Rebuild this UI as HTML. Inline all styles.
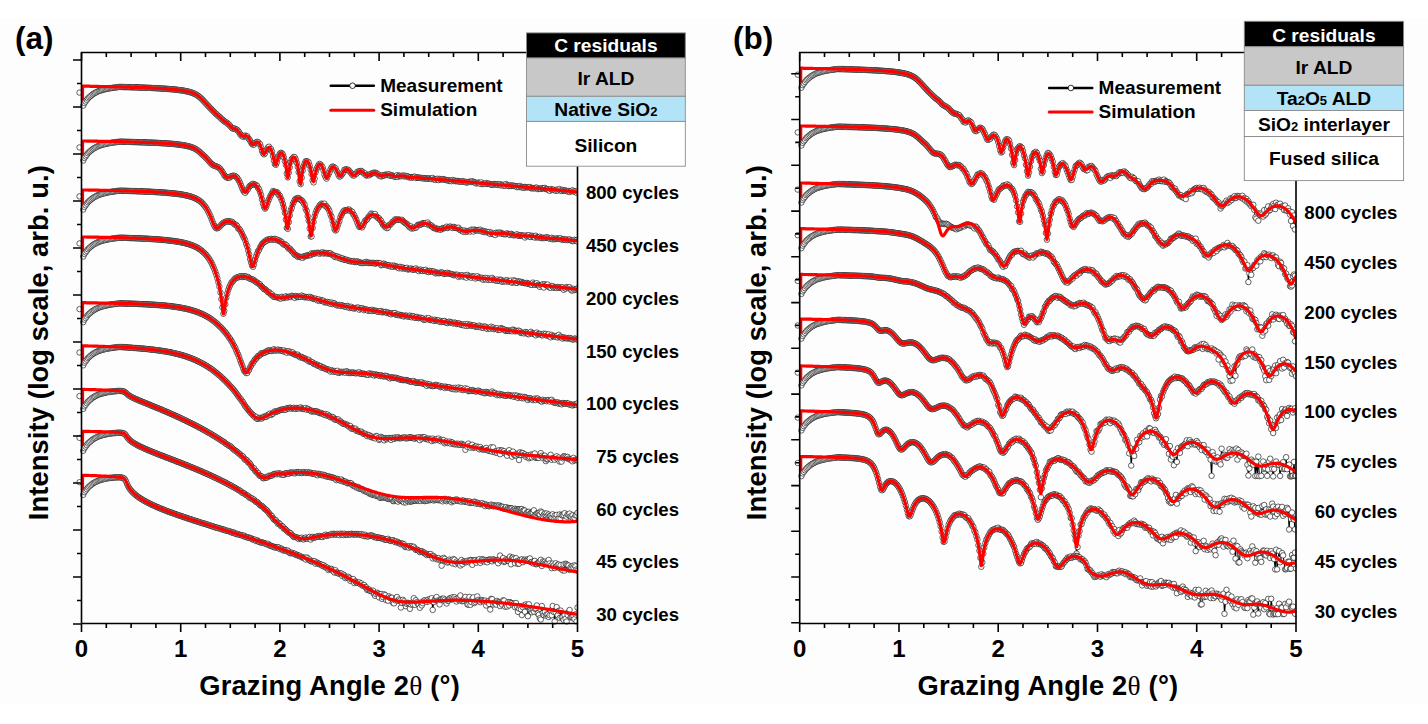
<!DOCTYPE html><html><head><meta charset="utf-8"><style>html,body{margin:0;padding:0;background:#fff;}body{width:1428px;height:724px;overflow:hidden;}svg{display:block;font-family:"Liberation Sans",sans-serif;font-weight:bold;}</style></head><body>
<svg width="1428" height="724" viewBox="0 0 1428 724">
<defs><marker id="m" markerUnits="userSpaceOnUse" markerWidth="8" markerHeight="8" refX="4" refY="4" viewBox="0 0 8 8"><circle cx="4" cy="4" r="2.75" fill="#fff" stroke="#111" stroke-width="0.65"/></marker><clipPath id="ca"><rect x="0" y="0" width="577.5" height="724"/></clipPath><clipPath id="cb"><rect x="700" y="0" width="596.5" height="724"/></clipPath></defs>
<rect x="0" y="17.9" width="1428" height="685.9" fill="#fdfdfd"/>
<g clip-path="url(#ca)"><path d="M83.2,105.6L84.4,103.0L85.6,101.5L86.8,99.9L87.9,98.4L89.1,97.3L90.3,96.3L91.5,95.3L92.7,94.3L93.9,93.5L95.1,92.9L96.3,92.2L97.5,91.6L98.7,91.1L99.9,90.7L101.0,90.4L102.2,90.0L103.4,89.6L104.6,89.3L105.8,89.1L107.0,88.8L108.2,88.5L109.4,88.3L110.6,88.1L111.8,88.0L112.9,87.8L114.1,87.6L115.3,87.5L116.5,87.3L117.7,87.1L118.9,87.0L120.1,86.9L121.2,87.0L122.2,87.0L123.2,87.0L124.2,87.0L125.1,87.1L126.1,87.1L127.1,87.1L128.1,87.1L129.1,87.2L130.1,87.2L131.1,87.2L132.1,87.3L133.1,87.3L134.1,87.3L135.1,87.3L136.1,87.4L137.1,87.4L138.0,87.4L139.0,87.5L140.0,87.5L141.0,87.5L142.0,87.6L143.0,87.6L144.0,87.7L145.0,87.7L146.0,87.7L147.0,87.8L148.0,87.8L149.0,87.9L149.9,87.9L150.9,87.9L151.9,88.0L152.9,88.0L153.9,88.1L154.9,88.1L155.9,88.2L156.9,88.2L157.9,88.3L158.9,88.3L159.9,88.4L160.9,88.5L161.9,88.5L162.8,88.6L163.8,88.6L164.8,88.7L165.8,88.8L166.8,88.9L167.8,88.9L168.8,89.0L169.8,89.1L170.8,89.2L171.8,89.3L172.8,89.3L173.8,89.4L174.7,89.5L175.7,89.6L176.7,89.7L177.7,89.9L178.7,90.0L179.7,90.1L180.7,90.3L181.7,90.4L182.7,90.5L183.7,90.7L184.7,90.9L185.7,91.1L186.7,91.3L187.6,91.5L188.6,91.7L189.6,92.0L190.6,92.3L191.6,92.6L192.6,93.0L193.6,93.4L194.6,93.8L195.6,94.3L196.6,94.9L197.6,95.5L198.6,96.2L199.5,97.0L200.5,97.8L201.5,98.8L202.5,99.7L203.5,100.8L204.5,101.9L205.5,103.0L206.5,104.1L207.5,105.2L208.5,106.2L209.5,107.3L210.5,108.3L211.5,109.4L212.4,110.4L213.4,111.4L214.4,112.4L215.4,113.4L216.4,114.2L217.4,115.1L218.4,116.0L219.4,116.8L220.4,117.7L221.4,118.8L222.4,119.6L223.4,120.5L224.3,121.3L225.3,121.9L226.3,122.6L227.3,123.0L228.3,124.2L229.3,124.8L230.3,126.1L231.3,127.3L232.3,128.3L233.3,128.5L234.3,128.4L235.3,129.2L236.3,129.4L237.2,129.9L238.2,131.0L239.2,132.4L240.2,134.1L241.2,135.5L242.2,135.7L243.2,136.9L244.2,136.0L245.2,135.6L246.2,136.0L247.2,136.3L248.2,138.1L249.1,139.2L250.1,140.6L251.1,142.6L252.1,144.1L253.1,144.6L254.1,144.5L255.1,142.8L256.1,143.0L257.1,141.8L258.1,142.1L259.1,143.7L260.1,144.2L261.1,147.3L262.0,150.9L263.0,153.3L264.0,154.3L265.0,153.4L266.0,150.9L267.0,149.2L268.0,147.4L269.0,146.7L270.0,148.6L271.0,149.1L272.0,151.6L273.0,156.1L273.9,160.5L274.9,164.1L275.9,164.8L276.9,162.2L277.9,158.0L278.9,155.7L279.9,153.6L280.9,152.8L281.9,153.2L282.9,154.5L283.9,157.4L284.9,161.1L285.9,164.9L286.8,173.6L287.8,177.4L288.8,172.6L289.8,167.4L290.8,161.9L291.8,159.0L292.8,158.1L293.8,156.9L294.8,157.3L295.8,159.5L296.8,162.8L297.8,166.9L298.7,172.2L299.7,181.3L300.7,184.1L301.7,177.7L302.7,170.6L303.7,166.0L304.7,163.4L305.7,161.3L306.7,161.2L307.7,161.6L308.7,162.5L309.7,165.6L310.7,169.5L311.6,174.1L312.6,180.3L313.6,182.4L314.6,178.6L315.6,172.3L316.6,169.0L317.6,167.0L318.6,165.0L319.6,163.9L320.6,164.6L321.6,166.1L322.6,167.3L323.5,170.4L324.5,174.7L325.5,176.9L326.5,178.6L327.5,176.5L328.5,174.1L329.5,172.3L330.5,169.4L331.5,167.3L332.5,166.5L333.5,166.9L334.5,167.7L335.5,168.3L336.4,170.6L337.4,172.2L338.4,174.8L339.4,176.5L340.4,176.3L341.4,175.0L342.4,173.6L343.4,172.3L344.4,169.8L345.4,169.6L346.4,169.4L347.4,169.8L348.3,169.9L349.3,171.0L350.3,172.1L351.3,173.3L352.3,174.7L353.3,175.5L354.3,175.4L355.3,174.1L356.3,173.7L357.3,171.8L358.3,172.2L359.3,171.1L360.3,171.2L361.2,170.9L362.2,171.7L363.2,172.6L364.2,173.8L365.2,173.5L366.2,175.5L367.2,175.3L368.2,175.0L369.2,175.3L370.2,174.2L371.2,173.8L372.2,173.2L373.1,173.1L374.1,172.5L375.1,173.0L376.1,172.9L377.1,173.7L378.1,174.3L379.1,175.6L380.1,175.6L381.1,176.5L382.1,175.9L383.1,175.2L384.1,175.6L385.1,174.7L386.0,174.8L387.0,175.0L388.0,174.5L389.0,174.3L390.0,175.8L391.0,175.4L392.0,175.2L393.0,176.2L394.0,176.2L395.0,176.7L396.0,176.6L397.0,175.2L397.9,176.9L398.9,175.7L399.9,175.8L400.9,176.3L401.9,175.8L402.9,175.5L403.9,176.4L404.9,175.7L405.9,176.4L406.9,176.1L407.9,176.5L408.9,177.4L409.9,177.1L410.8,177.2L411.8,177.7L412.8,177.2L413.8,176.9L414.8,176.7L415.8,178.0L416.8,177.3L417.8,177.6L418.8,177.6L419.8,177.7L420.8,178.0L421.8,178.0L422.7,178.4L423.7,178.0L424.7,178.5L425.7,178.4L426.7,178.7L427.7,178.7L428.7,178.4L429.7,178.5L430.7,178.9L431.7,178.9L432.7,178.0L433.7,179.4L434.7,179.3L435.6,179.9L436.6,179.0L437.6,178.8L438.6,180.1L439.6,178.9L440.6,179.6L441.6,179.2L442.6,179.1L443.6,179.4L444.6,179.7L445.6,180.0L446.6,180.0L447.5,180.4L448.5,180.2L449.5,181.0L450.5,180.7L451.5,181.2L452.5,180.0L453.5,180.9L454.5,180.5L455.5,181.2L456.5,181.1L457.5,180.9L458.5,181.5L459.5,181.4L460.4,181.7L461.4,181.7L462.4,181.1L463.4,181.7L464.4,181.6L465.4,182.0L466.4,182.6L467.4,182.1L468.4,182.2L469.4,181.7L470.4,181.9L471.4,181.9L472.3,181.2L473.3,182.0L474.3,182.2L475.3,182.7L476.3,183.5L477.3,182.9L478.3,182.6L479.3,182.9L480.3,183.9L481.3,182.4L482.3,184.1L483.3,183.9L484.3,183.8L485.2,183.9L486.2,183.1L487.2,183.9L488.2,183.6L489.2,183.8L490.2,184.1L491.2,184.8L492.2,184.6L493.2,184.7L494.2,184.0L495.2,184.4L496.2,184.5L497.1,184.2L498.1,185.0L499.1,184.3L500.1,184.3L501.1,185.5L502.1,184.7L503.1,184.9L504.1,185.9L505.1,185.5L506.1,184.0L507.1,185.1L508.1,185.9L509.1,186.1L510.0,185.4L511.0,186.0L512.0,185.5L513.0,185.6L514.0,186.0L515.0,186.1L516.0,186.2L517.0,187.2L518.0,186.4L519.0,187.1L520.0,185.9L521.0,187.0L521.9,187.5L522.9,187.1L523.9,187.8L524.9,186.9L525.9,187.4L526.9,187.2L527.9,187.3L528.9,187.1L529.9,187.0L530.9,188.2L531.9,188.3L532.9,188.0L533.9,188.4L534.8,188.3L535.8,187.7L536.8,187.7L537.8,189.1L538.8,188.6L539.8,188.8L540.8,188.9L541.8,188.3L542.8,188.2L543.8,188.3L544.8,187.9L545.8,189.1L546.7,189.0L547.7,189.2L548.7,190.1L549.7,190.8L550.7,189.0L551.7,189.9L552.7,189.8L553.7,189.7L554.7,190.4L555.7,190.7L556.7,189.7L557.7,190.6L558.7,189.7L559.6,189.0L560.6,190.3L561.6,191.0L562.6,190.1L563.6,190.6L564.6,190.5L565.6,190.6L566.6,190.9L567.6,191.4L568.6,191.0L569.6,192.0L570.6,191.2L571.5,190.9L572.5,190.4L573.5,191.5L574.5,191.3L575.5,191.5L576.5,192.8L577.5,191.6" fill="none" stroke="#000" stroke-width="1.1" marker-start="url(#m)" marker-mid="url(#m)" marker-end="url(#m)"/><circle cx="79.5" cy="92.6" r="2.7" fill="#fff" stroke="#111" stroke-width="0.65"/></g>
<g clip-path="url(#ca)"><path d="M83.2,160.5L84.4,157.9L85.6,156.3L86.8,154.8L87.9,153.2L89.1,152.1L90.3,151.1L91.5,150.1L92.7,149.1L93.9,148.4L95.1,147.7L96.3,147.1L97.5,146.4L98.7,145.9L99.9,145.5L101.0,145.2L102.2,144.8L103.4,144.4L104.6,144.2L105.8,143.9L107.0,143.6L108.2,143.3L109.4,143.1L110.6,142.9L111.8,142.7L112.9,142.5L114.1,142.4L115.3,142.2L116.5,142.1L117.7,141.9L118.9,141.8L120.1,141.7L121.2,141.7L122.2,141.7L123.2,141.8L124.2,141.8L125.1,141.8L126.1,141.8L127.1,141.9L128.1,141.9L129.1,141.9L130.1,141.9L131.1,142.0L132.1,142.0L133.1,142.0L134.1,142.0L135.1,142.1L136.1,142.1L137.1,142.1L138.0,142.2L139.0,142.2L140.0,142.2L141.0,142.3L142.0,142.3L143.0,142.3L144.0,142.4L145.0,142.4L146.0,142.4L147.0,142.5L148.0,142.5L149.0,142.5L149.9,142.6L150.9,142.6L151.9,142.7L152.9,142.7L153.9,142.7L154.9,142.8L155.9,142.8L156.9,142.9L157.9,142.9L158.9,143.0L159.9,143.0L160.9,143.1L161.9,143.2L162.8,143.2L163.8,143.3L164.8,143.3L165.8,143.4L166.8,143.5L167.8,143.5L168.8,143.6L169.8,143.7L170.8,143.8L171.8,143.8L172.8,143.9L173.8,144.0L174.7,144.1L175.7,144.2L176.7,144.3L177.7,144.5L178.7,144.6L179.7,144.7L180.7,144.8L181.7,145.0L182.7,145.1L183.7,145.3L184.7,145.5L185.7,145.7L186.7,145.9L187.6,146.1L188.6,146.3L189.6,146.6L190.6,146.9L191.6,147.2L192.6,147.6L193.6,148.0L194.6,148.5L195.6,149.0L196.6,149.7L197.6,150.3L198.6,151.1L199.5,151.9L200.5,152.8L201.5,153.7L202.5,154.6L203.5,155.5L204.5,156.4L205.5,157.4L206.5,158.4L207.5,159.4L208.5,160.6L209.5,161.8L210.5,162.9L211.5,163.9L212.4,164.7L213.4,165.4L214.4,165.7L215.4,166.1L216.4,166.4L217.4,166.9L218.4,167.3L219.4,168.1L220.4,169.0L221.4,170.6L222.4,171.9L223.4,173.5L224.3,175.3L225.3,176.4L226.3,177.1L227.3,177.8L228.3,177.6L229.3,177.8L230.3,176.6L231.3,176.4L232.3,175.9L233.3,175.7L234.3,175.9L235.3,176.3L236.3,177.0L237.2,177.9L238.2,179.5L239.2,181.1L240.2,183.2L241.2,185.8L242.2,188.3L243.2,190.5L244.2,191.8L245.2,192.8L246.2,191.2L247.2,189.8L248.2,188.8L249.1,186.7L250.1,185.7L251.1,185.2L252.1,184.2L253.1,183.8L254.1,184.5L255.1,184.6L256.1,185.1L257.1,186.0L258.1,188.0L259.1,189.4L260.1,192.2L261.1,195.2L262.0,199.4L263.0,203.6L264.0,206.7L265.0,208.6L266.0,207.4L267.0,204.5L268.0,201.7L269.0,199.2L270.0,196.8L271.0,194.9L272.0,193.1L273.0,191.0L273.9,191.9L274.9,191.9L275.9,191.9L276.9,192.3L277.9,193.2L278.9,195.2L279.9,195.7L280.9,198.3L281.9,200.6L282.9,203.9L283.9,207.8L284.9,212.8L285.9,219.6L286.8,228.0L287.8,228.8L288.8,222.1L289.8,215.4L290.8,210.0L291.8,207.7L292.8,204.0L293.8,202.0L294.8,199.8L295.8,198.7L296.8,198.8L297.8,198.0L298.7,198.2L299.7,199.2L300.7,200.0L301.7,200.3L302.7,201.5L303.7,203.2L304.7,204.9L305.7,208.9L306.7,211.0L307.7,216.0L308.7,220.7L309.7,228.5L310.7,236.5L311.6,236.4L312.6,228.0L313.6,221.9L314.6,216.5L315.6,213.0L316.6,210.3L317.6,208.7L318.6,207.3L319.6,205.6L320.6,204.5L321.6,203.6L322.6,204.2L323.5,204.1L324.5,203.7L325.5,206.1L326.5,206.4L327.5,207.8L328.5,209.1L329.5,211.2L330.5,214.7L331.5,216.8L332.5,220.9L333.5,225.0L334.5,229.2L335.5,230.5L336.4,229.7L337.4,226.4L338.4,223.7L339.4,220.9L340.4,217.1L341.4,215.1L342.4,213.1L343.4,211.4L344.4,210.4L345.4,210.5L346.4,210.5L347.4,209.9L348.3,209.6L349.3,209.7L350.3,210.9L351.3,211.6L352.3,211.9L353.3,214.4L354.3,215.4L355.3,217.8L356.3,219.8L357.3,222.7L358.3,224.8L359.3,226.9L360.3,226.8L361.2,227.1L362.2,227.3L363.2,225.1L364.2,222.7L365.2,220.6L366.2,220.1L367.2,219.2L368.2,217.4L369.2,216.1L370.2,215.6L371.2,213.5L372.2,214.1L373.1,215.0L374.1,215.1L375.1,214.0L376.1,216.5L377.1,216.9L378.1,218.1L379.1,218.4L380.1,220.0L381.1,220.8L382.1,223.1L383.1,225.0L384.1,225.0L385.1,227.1L386.0,226.9L387.0,228.2L388.0,227.5L389.0,225.1L390.0,224.9L391.0,223.9L392.0,222.4L393.0,221.8L394.0,220.8L395.0,219.5L396.0,219.5L397.0,220.0L397.9,219.5L398.9,219.7L399.9,219.8L400.9,220.2L401.9,219.8L402.9,220.9L403.9,222.1L404.9,222.9L405.9,223.4L406.9,224.0L407.9,225.1L408.9,226.6L409.9,227.4L410.8,226.4L411.8,228.6L412.8,227.9L413.8,228.2L414.8,227.3L415.8,227.8L416.8,226.7L417.8,224.8L418.8,224.8L419.8,224.9L420.8,224.5L421.8,224.0L422.7,223.2L423.7,223.2L424.7,223.4L425.7,223.1L426.7,224.2L427.7,222.5L428.7,224.1L429.7,225.5L430.7,225.2L431.7,225.8L432.7,227.1L433.7,228.1L434.7,227.8L435.6,228.3L436.6,229.2L437.6,229.0L438.6,229.0L439.6,229.3L440.6,229.8L441.6,229.0L442.6,228.1L443.6,228.2L444.6,228.1L445.6,227.8L446.6,226.7L447.5,228.0L448.5,227.3L449.5,226.8L450.5,226.6L451.5,227.4L452.5,227.9L453.5,226.9L454.5,227.7L455.5,227.7L456.5,228.1L457.5,228.1L458.5,227.7L459.5,229.5L460.4,230.1L461.4,230.6L462.4,230.5L463.4,231.9L464.4,230.6L465.4,231.9L466.4,231.0L467.4,231.5L468.4,231.0L469.4,230.9L470.4,231.5L471.4,229.7L472.3,230.1L473.3,231.5L474.3,229.5L475.3,230.2L476.3,230.4L477.3,230.4L478.3,230.0L479.3,230.6L480.3,229.7L481.3,230.9L482.3,231.6L483.3,231.0L484.3,232.1L485.2,231.4L486.2,231.9L487.2,232.5L488.2,232.1L489.2,232.0L490.2,234.0L491.2,232.6L492.2,233.5L493.2,234.1L494.2,234.1L495.2,235.0L496.2,232.7L497.1,233.4L498.1,232.7L499.1,233.4L500.1,232.5L501.1,233.1L502.1,233.9L503.1,233.7L504.1,234.2L505.1,234.1L506.1,234.2L507.1,233.3L508.1,234.1L509.1,234.1L510.0,235.0L511.0,233.8L512.0,234.4L513.0,235.0L514.0,235.4L515.0,235.1L516.0,234.9L517.0,234.3L518.0,235.6L519.0,235.9L520.0,235.5L521.0,235.3L521.9,235.6L522.9,235.7L523.9,235.7L524.9,237.5L525.9,235.5L526.9,236.2L527.9,235.5L528.9,235.2L529.9,236.9L530.9,237.0L531.9,235.7L532.9,236.4L533.9,236.8L534.8,237.6L535.8,235.7L536.8,237.3L537.8,237.2L538.8,237.4L539.8,236.8L540.8,237.9L541.8,238.2L542.8,237.7L543.8,238.1L544.8,237.9L545.8,237.7L546.7,237.3L547.7,237.6L548.7,238.0L549.7,238.8L550.7,238.2L551.7,237.8L552.7,239.3L553.7,238.5L554.7,239.1L555.7,239.0L556.7,238.5L557.7,238.5L558.7,238.7L559.6,238.9L560.6,238.3L561.6,239.6L562.6,239.5L563.6,239.2L564.6,239.6L565.6,240.0L566.6,239.4L567.6,240.0L568.6,239.9L569.6,239.4L570.6,240.3L571.5,240.5L572.5,241.2L573.5,240.9L574.5,239.8L575.5,240.7L576.5,240.4L577.5,241.6" fill="none" stroke="#000" stroke-width="1.1" marker-start="url(#m)" marker-mid="url(#m)" marker-end="url(#m)"/><circle cx="79.5" cy="147.4" r="2.7" fill="#fff" stroke="#111" stroke-width="0.65"/></g>
<g clip-path="url(#ca)"><path d="M83.2,209.5L84.4,206.9L85.6,205.3L86.8,203.7L87.9,202.2L89.1,201.1L90.3,200.1L91.5,199.1L92.7,198.1L93.9,197.4L95.1,196.7L96.3,196.1L97.5,195.4L98.7,194.9L99.9,194.5L101.0,194.2L102.2,193.8L103.4,193.4L104.6,193.2L105.8,192.9L107.0,192.6L108.2,192.3L109.4,192.1L110.6,191.9L111.8,191.7L112.9,191.6L114.1,191.4L115.3,191.2L116.5,191.1L117.7,190.9L118.9,190.8L120.1,190.7L121.2,190.7L122.2,190.8L123.2,190.8L124.2,190.8L125.1,190.8L126.1,190.9L127.1,190.9L128.1,190.9L129.1,191.0L130.1,191.0L131.1,191.0L132.1,191.0L133.1,191.1L134.1,191.1L135.1,191.1L136.1,191.2L137.1,191.2L138.0,191.3L139.0,191.3L140.0,191.3L141.0,191.4L142.0,191.4L143.0,191.4L144.0,191.5L145.0,191.5L146.0,191.6L147.0,191.6L148.0,191.6L149.0,191.7L149.9,191.7L150.9,191.8L151.9,191.9L152.9,191.9L153.9,191.9L154.9,192.0L155.9,192.1L156.9,192.1L157.9,192.2L158.9,192.2L159.9,192.3L160.9,192.4L161.9,192.4L162.8,192.5L163.8,192.6L164.8,192.7L165.8,192.7L166.8,192.8L167.8,192.9L168.8,193.0L169.8,193.1L170.8,193.2L171.8,193.3L172.8,193.4L173.8,193.5L174.7,193.6L175.7,193.7L176.7,193.8L177.7,193.9L178.7,194.1L179.7,194.2L180.7,194.4L181.7,194.5L182.7,194.7L183.7,194.9L184.7,195.1L185.7,195.3L186.7,195.5L187.6,195.7L188.6,196.0L189.6,196.3L190.6,196.5L191.6,196.9L192.6,197.2L193.6,197.6L194.6,198.0L195.6,198.5L196.6,199.0L197.6,199.5L198.6,200.1L199.5,200.8L200.5,201.6L201.5,202.4L202.5,203.4L203.5,204.5L204.5,205.6L205.5,207.0L206.5,208.5L207.5,210.2L208.5,212.1L209.5,214.1L210.5,216.4L211.5,218.9L212.4,221.3L213.4,223.7L214.4,225.9L215.4,227.5L216.4,228.3L217.4,228.2L218.4,227.8L219.4,226.9L220.4,225.9L221.4,224.7L222.4,223.9L223.4,222.9L224.3,222.3L225.3,222.1L226.3,221.4L227.3,221.4L228.3,221.1L229.3,221.7L230.3,221.6L231.3,221.7L232.3,222.1L233.3,223.0L234.3,224.2L235.3,224.7L236.3,225.1L237.2,226.2L238.2,228.6L239.2,228.9L240.2,230.2L241.2,232.2L242.2,234.2L243.2,236.4L244.2,238.1L245.2,240.4L246.2,243.8L247.2,246.4L248.2,250.4L249.1,254.4L250.1,259.1L251.1,262.7L252.1,265.8L253.1,266.8L254.1,264.1L255.1,260.0L256.1,256.3L257.1,253.6L258.1,251.0L259.1,249.8L260.1,247.3L261.1,245.8L262.0,244.1L263.0,243.1L264.0,242.1L265.0,241.7L266.0,240.3L267.0,240.6L268.0,239.4L269.0,239.7L270.0,239.3L271.0,238.8L272.0,239.7L273.0,239.5L273.9,239.0L274.9,238.9L275.9,240.0L276.9,239.5L277.9,240.5L278.9,240.3L279.9,241.3L280.9,241.5L281.9,242.3L282.9,243.9L283.9,244.7L284.9,244.2L285.9,245.4L286.8,245.6L287.8,247.5L288.8,248.7L289.8,248.7L290.8,249.9L291.8,251.3L292.8,251.9L293.8,253.4L294.8,254.8L295.8,254.9L296.8,255.8L297.8,256.9L298.7,256.3L299.7,257.0L300.7,257.2L301.7,257.0L302.7,257.8L303.7,256.4L304.7,256.5L305.7,255.9L306.7,255.8L307.7,255.2L308.7,255.3L309.7,255.2L310.7,255.1L311.6,253.3L312.6,254.0L313.6,253.7L314.6,253.1L315.6,253.2L316.6,253.1L317.6,252.8L318.6,252.9L319.6,253.8L320.6,252.9L321.6,252.8L322.6,252.3L323.5,253.5L324.5,252.9L325.5,253.2L326.5,253.0L327.5,253.6L328.5,253.3L329.5,253.4L330.5,253.4L331.5,254.5L332.5,254.9L333.5,255.4L334.5,256.6L335.5,257.1L336.4,256.2L337.4,256.6L338.4,257.9L339.4,257.2L340.4,258.4L341.4,259.0L342.4,258.2L343.4,259.4L344.4,259.9L345.4,259.7L346.4,259.7L347.4,260.3L348.3,260.8L349.3,260.6L350.3,261.4L351.3,261.2L352.3,261.2L353.3,261.1L354.3,262.0L355.3,261.5L356.3,262.1L357.3,261.4L358.3,261.9L359.3,262.3L360.3,262.6L361.2,262.9L362.2,263.1L363.2,262.9L364.2,262.9L365.2,262.5L366.2,261.8L367.2,262.7L368.2,262.6L369.2,263.1L370.2,262.8L371.2,263.0L372.2,263.0L373.1,262.8L374.1,263.1L375.1,263.6L376.1,263.2L377.1,262.9L378.1,263.1L379.1,263.2L380.1,263.4L381.1,265.2L382.1,265.0L383.1,263.8L384.1,263.7L385.1,264.8L386.0,264.7L387.0,265.4L388.0,265.5L389.0,265.2L390.0,266.3L391.0,266.4L392.0,265.6L393.0,266.8L394.0,265.6L395.0,266.3L396.0,266.3L397.0,266.9L397.9,267.5L398.9,268.3L399.9,266.8L400.9,267.3L401.9,268.5L402.9,267.5L403.9,268.4L404.9,268.4L405.9,268.4L406.9,267.8L407.9,269.5L408.9,269.1L409.9,269.1L410.8,268.4L411.8,269.2L412.8,269.8L413.8,269.5L414.8,269.3L415.8,268.4L416.8,269.6L417.8,270.0L418.8,271.2L419.8,269.8L420.8,269.7L421.8,270.8L422.7,270.9L423.7,270.1L424.7,270.8L425.7,269.8L426.7,271.4L427.7,271.5L428.7,272.0L429.7,270.9L430.7,271.3L431.7,271.2L432.7,271.9L433.7,271.4L434.7,272.3L435.6,273.4L436.6,272.5L437.6,273.0L438.6,273.2L439.6,273.1L440.6,272.5L441.6,272.5L442.6,272.8L443.6,273.9L444.6,273.7L445.6,273.3L446.6,273.5L447.5,272.8L448.5,273.5L449.5,273.6L450.5,273.9L451.5,274.1L452.5,274.4L453.5,275.1L454.5,275.2L455.5,274.7L456.5,274.9L457.5,274.8L458.5,276.9L459.5,275.7L460.4,276.2L461.4,275.4L462.4,275.4L463.4,276.8L464.4,276.0L465.4,275.4L466.4,277.7L467.4,274.9L468.4,276.2L469.4,276.9L470.4,277.1L471.4,277.7L472.3,276.2L473.3,276.6L474.3,276.6L475.3,278.5L476.3,277.2L477.3,276.2L478.3,277.9L479.3,277.5L480.3,278.3L481.3,277.7L482.3,278.4L483.3,279.9L484.3,278.8L485.2,277.9L486.2,279.5L487.2,278.1L488.2,279.9L489.2,278.7L490.2,279.7L491.2,279.9L492.2,277.9L493.2,279.3L494.2,279.8L495.2,280.4L496.2,280.5L497.1,279.5L498.1,280.9L499.1,280.6L500.1,279.6L501.1,279.9L502.1,281.8L503.1,280.9L504.1,281.5L505.1,280.6L506.1,281.5L507.1,280.2L508.1,281.4L509.1,281.6L510.0,281.1L511.0,280.6L512.0,282.8L513.0,281.9L514.0,280.3L515.0,281.1L516.0,282.9L517.0,282.9L518.0,281.3L519.0,281.8L520.0,281.6L521.0,282.5L521.9,282.0L522.9,282.8L523.9,282.9L524.9,283.1L525.9,283.3L526.9,282.9L527.9,283.8L528.9,283.7L529.9,284.1L530.9,284.8L531.9,284.9L532.9,282.6L533.9,284.0L534.8,284.8L535.8,284.4L536.8,283.2L537.8,285.0L538.8,285.1L539.8,286.9L540.8,285.4L541.8,284.9L542.8,284.3L543.8,287.5L544.8,284.2L545.8,285.2L546.7,285.2L547.7,284.6L548.7,287.0L549.7,287.4L550.7,287.8L551.7,286.0L552.7,286.1L553.7,287.8L554.7,287.4L555.7,287.3L556.7,287.9L557.7,286.9L558.7,287.8L559.6,287.3L560.6,287.6L561.6,287.6L562.6,287.3L563.6,289.8L564.6,288.2L565.6,288.5L566.6,287.0L567.6,287.6L568.6,288.3L569.6,287.2L570.6,288.7L571.5,290.4L572.5,290.4L573.5,288.8L574.5,290.1L575.5,289.4L576.5,288.8L577.5,288.6" fill="none" stroke="#000" stroke-width="1.1" marker-start="url(#m)" marker-mid="url(#m)" marker-end="url(#m)"/><circle cx="79.5" cy="196.4" r="2.7" fill="#fff" stroke="#111" stroke-width="0.65"/></g>
<g clip-path="url(#ca)"><path d="M83.2,256.5L84.4,253.9L85.6,252.3L86.8,250.8L87.9,249.2L89.1,248.1L90.3,247.1L91.5,246.1L92.7,245.1L93.9,244.4L95.1,243.7L96.3,243.1L97.5,242.4L98.7,241.9L99.9,241.5L101.0,241.2L102.2,240.8L103.4,240.4L104.6,240.1L105.8,239.9L107.0,239.6L108.2,239.3L109.4,239.1L110.6,238.9L111.8,238.7L112.9,238.6L114.1,238.4L115.3,238.2L116.5,238.1L117.7,237.9L118.9,237.8L120.1,237.7L121.2,237.7L122.2,237.8L123.2,237.8L124.2,237.8L125.1,237.9L126.1,237.9L127.1,237.9L128.1,238.0L129.1,238.0L130.1,238.0L131.1,238.1L132.1,238.1L133.1,238.1L134.1,238.2L135.1,238.2L136.1,238.2L137.1,238.3L138.0,238.3L139.0,238.4L140.0,238.4L141.0,238.5L142.0,238.5L143.0,238.5L144.0,238.6L145.0,238.6L146.0,238.7L147.0,238.7L148.0,238.8L149.0,238.9L149.9,238.9L150.9,239.0L151.9,239.0L152.9,239.1L153.9,239.2L154.9,239.2L155.9,239.3L156.9,239.4L157.9,239.4L158.9,239.5L159.9,239.6L160.9,239.7L161.9,239.8L162.8,239.8L163.8,240.0L164.8,240.0L165.8,240.1L166.8,240.2L167.8,240.4L168.8,240.5L169.8,240.6L170.8,240.7L171.8,240.8L172.8,240.9L173.8,241.1L174.7,241.2L175.7,241.4L176.7,241.5L177.7,241.7L178.7,241.8L179.7,242.0L180.7,242.2L181.7,242.4L182.7,242.6L183.7,242.8L184.7,243.0L185.7,243.3L186.7,243.6L187.6,243.8L188.6,244.1L189.6,244.4L190.6,244.8L191.6,245.1L192.6,245.5L193.6,245.9L194.6,246.3L195.6,246.8L196.6,247.3L197.6,247.9L198.6,248.5L199.5,249.1L200.5,249.8L201.5,250.6L202.5,251.4L203.5,252.3L204.5,253.2L205.5,254.3L206.5,255.4L207.5,256.7L208.5,258.0L209.5,259.5L210.5,261.2L211.5,262.9L212.4,264.8L213.4,267.0L214.4,269.4L215.4,272.0L216.4,274.9L217.4,278.3L218.4,282.2L219.4,286.7L220.4,292.4L221.4,299.1L222.4,307.5L223.4,313.8L224.3,310.8L225.3,304.2L226.3,297.7L227.3,293.4L228.3,289.8L229.3,287.0L230.3,284.9L231.3,282.8L232.3,281.8L233.3,280.6L234.3,279.4L235.3,278.2L236.3,278.0L237.2,277.2L238.2,277.4L239.2,276.8L240.2,276.2L241.2,276.3L242.2,277.0L243.2,276.3L244.2,276.3L245.2,276.6L246.2,276.5L247.2,277.5L248.2,277.0L249.1,278.1L250.1,278.7L251.1,279.2L252.1,279.3L253.1,279.7L254.1,280.5L255.1,281.2L256.1,282.1L257.1,282.5L258.1,283.4L259.1,283.9L260.1,284.5L261.1,286.2L262.0,286.8L263.0,287.9L264.0,289.2L265.0,289.0L266.0,290.0L267.0,291.0L268.0,292.3L269.0,292.1L270.0,293.3L271.0,294.7L272.0,294.5L273.0,296.2L273.9,296.9L274.9,297.0L275.9,296.8L276.9,297.3L277.9,297.3L278.9,297.8L279.9,298.4L280.9,298.5L281.9,296.8L282.9,297.5L283.9,298.0L284.9,297.3L285.9,296.3L286.8,297.3L287.8,297.4L288.8,296.8L289.8,296.7L290.8,297.1L291.8,295.8L292.8,296.2L293.8,296.5L294.8,297.9L295.8,296.0L296.8,296.5L297.8,297.1L298.7,296.8L299.7,296.6L300.7,296.8L301.7,295.6L302.7,296.7L303.7,296.4L304.7,297.3L305.7,297.1L306.7,297.2L307.7,297.3L308.7,296.9L309.7,298.0L310.7,297.0L311.6,297.9L312.6,298.3L313.6,299.0L314.6,298.8L315.6,298.7L316.6,299.7L317.6,300.5L318.6,299.4L319.6,300.9L320.6,300.1L321.6,300.6L322.6,300.7L323.5,300.8L324.5,302.4L325.5,302.1L326.5,302.3L327.5,301.9L328.5,303.0L329.5,302.4L330.5,303.8L331.5,302.6L332.5,304.1L333.5,303.1L334.5,303.5L335.5,304.5L336.4,305.0L337.4,305.5L338.4,305.1L339.4,305.0L340.4,305.9L341.4,305.1L342.4,305.6L343.4,306.0L344.4,306.5L345.4,306.4L346.4,307.0L347.4,305.9L348.3,306.7L349.3,308.0L350.3,307.1L351.3,306.8L352.3,308.1L353.3,308.0L354.3,308.5L355.3,308.2L356.3,307.8L357.3,307.8L358.3,307.6L359.3,309.7L360.3,308.2L361.2,308.9L362.2,308.1L363.2,309.2L364.2,310.2L365.2,309.2L366.2,309.6L367.2,309.9L368.2,310.9L369.2,310.1L370.2,310.2L371.2,311.0L372.2,309.8L373.1,310.6L374.1,310.9L375.1,310.6L376.1,310.9L377.1,311.5L378.1,311.9L379.1,311.9L380.1,311.1L381.1,311.0L382.1,312.4L383.1,311.9L384.1,312.1L385.1,312.0L386.0,311.9L387.0,313.1L388.0,312.5L389.0,313.2L390.0,313.8L391.0,314.3L392.0,313.2L393.0,313.4L394.0,313.1L395.0,313.0L396.0,314.8L397.0,314.8L397.9,315.0L398.9,314.5L399.9,315.4L400.9,315.2L401.9,315.4L402.9,315.8L403.9,316.5L404.9,315.7L405.9,315.7L406.9,315.8L407.9,316.7L408.9,316.5L409.9,315.6L410.8,316.7L411.8,317.3L412.8,316.2L413.8,316.5L414.8,317.8L415.8,317.6L416.8,316.9L417.8,317.6L418.8,318.2L419.8,317.8L420.8,317.8L421.8,318.4L422.7,318.4L423.7,319.9L424.7,319.5L425.7,319.4L426.7,318.2L427.7,319.1L428.7,318.1L429.7,319.9L430.7,320.1L431.7,319.6L432.7,320.1L433.7,320.8L434.7,319.7L435.6,320.7L436.6,320.5L437.6,320.7L438.6,320.4L439.6,321.9L440.6,321.0L441.6,322.1L442.6,321.5L443.6,321.3L444.6,320.9L445.6,322.3L446.6,322.8L447.5,323.1L448.5,322.0L449.5,321.7L450.5,322.5L451.5,322.4L452.5,323.1L453.5,323.4L454.5,322.6L455.5,323.0L456.5,324.0L457.5,323.8L458.5,323.4L459.5,323.7L460.4,324.7L461.4,324.5L462.4,325.0L463.4,324.5L464.4,325.6L465.4,324.1L466.4,325.9L467.4,324.1L468.4,325.8L469.4,324.9L470.4,324.7L471.4,325.6L472.3,325.6L473.3,325.7L474.3,325.4L475.3,326.7L476.3,326.5L477.3,326.7L478.3,326.5L479.3,325.6L480.3,326.6L481.3,327.6L482.3,326.6L483.3,328.0L484.3,326.7L485.2,326.6L486.2,327.5L487.2,329.0L488.2,327.8L489.2,328.2L490.2,328.7L491.2,326.7L492.2,328.3L493.2,327.6L494.2,329.2L495.2,328.5L496.2,329.0L497.1,328.2L498.1,330.0L499.1,329.5L500.1,329.8L501.1,328.1L502.1,328.8L503.1,329.0L504.1,329.7L505.1,330.6L506.1,330.8L507.1,330.3L508.1,330.6L509.1,331.0L510.0,330.7L511.0,330.6L512.0,331.3L513.0,329.6L514.0,330.2L515.0,331.4L516.0,330.8L517.0,331.2L518.0,330.8L519.0,330.7L520.0,331.5L521.0,333.0L521.9,332.9L522.9,332.8L523.9,333.4L524.9,332.4L525.9,332.0L526.9,332.7L527.9,334.1L528.9,334.2L529.9,332.9L530.9,331.8L531.9,333.4L532.9,333.7L533.9,333.6L534.8,333.7L535.8,335.3L536.8,332.6L537.8,334.4L538.8,334.0L539.8,333.8L540.8,334.3L541.8,335.2L542.8,335.3L543.8,333.7L544.8,334.7L545.8,333.9L546.7,335.6L547.7,335.3L548.7,334.3L549.7,336.3L550.7,337.3L551.7,334.9L552.7,336.2L553.7,336.3L554.7,336.1L555.7,336.8L556.7,336.1L557.7,337.5L558.7,334.8L559.6,337.1L560.6,336.6L561.6,337.4L562.6,338.6L563.6,337.4L564.6,337.9L565.6,338.1L566.6,338.1L567.6,338.6L568.6,338.1L569.6,338.0L570.6,338.7L571.5,338.6L572.5,339.6L573.5,339.3L574.5,338.6L575.5,338.7L576.5,339.4L577.5,339.3" fill="none" stroke="#000" stroke-width="1.1" marker-start="url(#m)" marker-mid="url(#m)" marker-end="url(#m)"/><circle cx="79.5" cy="243.4" r="2.7" fill="#fff" stroke="#111" stroke-width="0.65"/></g>
<g clip-path="url(#ca)"><path d="M83.2,322.2L84.4,319.6L85.6,318.0L86.8,316.5L87.9,314.9L89.1,313.9L90.3,312.9L91.5,311.8L92.7,310.8L93.9,310.1L95.1,309.4L96.3,308.8L97.5,308.1L98.7,307.6L99.9,307.2L101.0,306.9L102.2,306.5L103.4,306.1L104.6,305.9L105.8,305.6L107.0,305.3L108.2,305.0L109.4,304.8L110.6,304.6L111.8,304.4L112.9,304.2L114.1,304.1L115.3,303.9L116.5,303.8L117.7,303.6L118.9,303.5L120.1,303.4L121.2,303.4L122.2,303.4L123.2,303.5L124.2,303.5L125.1,303.5L126.1,303.6L127.1,303.6L128.1,303.6L129.1,303.6L130.1,303.7L131.1,303.7L132.1,303.7L133.1,303.8L134.1,303.8L135.1,303.8L136.1,303.9L137.1,303.9L138.0,304.0L139.0,304.0L140.0,304.0L141.0,304.1L142.0,304.1L143.0,304.2L144.0,304.2L145.0,304.3L146.0,304.3L147.0,304.4L148.0,304.4L149.0,304.5L149.9,304.5L150.9,304.6L151.9,304.6L152.9,304.7L153.9,304.8L154.9,304.8L155.9,304.9L156.9,305.0L157.9,305.0L158.9,305.1L159.9,305.2L160.9,305.3L161.9,305.3L162.8,305.4L163.8,305.5L164.8,305.6L165.8,305.7L166.8,305.8L167.8,305.9L168.8,306.0L169.8,306.1L170.8,306.2L171.8,306.4L172.8,306.5L173.8,306.6L174.7,306.8L175.7,306.9L176.7,307.0L177.7,307.2L178.7,307.4L179.7,307.5L180.7,307.7L181.7,307.9L182.7,308.1L183.7,308.3L184.7,308.5L185.7,308.7L186.7,308.9L187.6,309.1L188.6,309.4L189.6,309.6L190.6,309.9L191.6,310.2L192.6,310.5L193.6,310.8L194.6,311.1L195.6,311.4L196.6,311.8L197.6,312.1L198.6,312.5L199.5,312.9L200.5,313.4L201.5,313.8L202.5,314.2L203.5,314.7L204.5,315.2L205.5,315.7L206.5,316.3L207.5,316.8L208.5,317.4L209.5,318.0L210.5,318.7L211.5,319.3L212.4,320.1L213.4,320.8L214.4,321.6L215.4,322.4L216.4,323.3L217.4,324.0L218.4,325.1L219.4,326.1L220.4,327.0L221.4,327.8L222.4,329.1L223.4,330.0L224.3,331.4L225.3,332.4L226.3,333.6L227.3,334.9L228.3,336.3L229.3,337.9L230.3,339.1L231.3,340.9L232.3,342.4L233.3,344.6L234.3,346.2L235.3,348.0L236.3,350.6L237.2,352.6L238.2,354.8L239.2,357.4L240.2,360.4L241.2,363.0L242.2,365.5L243.2,368.3L244.2,370.8L245.2,371.8L246.2,373.1L247.2,372.9L248.2,370.8L249.1,369.8L250.1,367.3L251.1,365.6L252.1,363.4L253.1,362.8L254.1,360.9L255.1,359.2L256.1,358.6L257.1,357.3L258.1,355.9L259.1,355.8L260.1,354.9L261.1,353.3L262.0,353.5L263.0,353.1L264.0,352.8L265.0,352.5L266.0,351.6L267.0,351.6L268.0,350.5L269.0,350.8L270.0,350.3L271.0,350.8L272.0,351.0L273.0,350.1L273.9,349.2L274.9,350.3L275.9,350.6L276.9,350.1L277.9,349.6L278.9,350.5L279.9,350.0L280.9,350.5L281.9,350.6L282.9,351.2L283.9,350.4L284.9,351.9L285.9,351.5L286.8,352.7L287.8,351.3L288.8,351.3L289.8,352.5L290.8,352.1L291.8,353.1L292.8,352.5L293.8,354.1L294.8,354.3L295.8,355.0L296.8,354.9L297.8,354.7L298.7,356.2L299.7,356.8L300.7,357.5L301.7,356.9L302.7,357.6L303.7,358.3L304.7,358.3L305.7,359.0L306.7,359.6L307.7,360.7L308.7,359.8L309.7,361.7L310.7,361.7L311.6,362.1L312.6,362.5L313.6,363.8L314.6,363.8L315.6,364.1L316.6,365.2L317.6,364.9L318.6,366.1L319.6,365.9L320.6,366.2L321.6,367.8L322.6,367.2L323.5,367.5L324.5,368.3L325.5,368.8L326.5,369.3L327.5,369.4L328.5,369.7L329.5,370.1L330.5,371.6L331.5,370.1L332.5,371.0L333.5,371.7L334.5,371.0L335.5,371.7L336.4,372.0L337.4,370.8L338.4,372.9L339.4,372.6L340.4,372.0L341.4,371.8L342.4,372.3L343.4,371.8L344.4,372.1L345.4,372.8L346.4,371.2L347.4,371.8L348.3,372.7L349.3,373.1L350.3,372.5L351.3,373.0L352.3,372.5L353.3,372.6L354.3,373.0L355.3,373.1L356.3,373.3L357.3,372.7L358.3,373.1L359.3,372.3L360.3,373.8L361.2,373.4L362.2,374.0L363.2,373.6L364.2,373.9L365.2,374.1L366.2,374.6L367.2,374.3L368.2,374.9L369.2,373.3L370.2,374.4L371.2,373.8L372.2,374.0L373.1,374.7L374.1,375.5L375.1,374.3L376.1,375.0L377.1,374.8L378.1,375.2L379.1,375.4L380.1,376.1L381.1,375.3L382.1,375.8L383.1,376.4L384.1,376.2L385.1,375.7L386.0,376.5L387.0,376.1L388.0,377.4L389.0,377.3L390.0,378.4L391.0,377.3L392.0,377.7L393.0,377.5L394.0,378.0L395.0,377.8L396.0,377.8L397.0,378.3L397.9,378.8L398.9,378.8L399.9,379.7L400.9,379.5L401.9,379.5L402.9,380.1L403.9,380.1L404.9,380.0L405.9,380.1L406.9,380.2L407.9,380.8L408.9,381.0L409.9,381.5L410.8,381.5L411.8,382.0L412.8,381.3L413.8,381.1L414.8,382.2L415.8,382.9L416.8,382.6L417.8,382.7L418.8,382.6L419.8,382.8L420.8,382.8L421.8,382.3L422.7,383.8L423.7,383.4L424.7,384.2L425.7,383.7L426.7,385.8L427.7,384.0L428.7,385.0L429.7,384.3L430.7,385.6L431.7,385.8L432.7,386.1L433.7,385.8L434.7,385.6L435.6,384.9L436.6,385.1L437.6,385.6L438.6,385.9L439.6,385.8L440.6,387.2L441.6,386.8L442.6,386.4L443.6,387.1L444.6,387.9L445.6,386.6L446.6,387.4L447.5,387.4L448.5,387.2L449.5,387.3L450.5,388.4L451.5,388.1L452.5,389.0L453.5,388.0L454.5,389.3L455.5,387.8L456.5,389.4L457.5,388.6L458.5,387.5L459.5,389.3L460.4,388.0L461.4,388.3L462.4,390.0L463.4,389.9L464.4,389.1L465.4,388.3L466.4,389.9L467.4,389.0L468.4,391.2L469.4,390.8L470.4,390.8L471.4,390.8L472.3,390.0L473.3,390.6L474.3,391.1L475.3,391.2L476.3,391.5L477.3,390.9L478.3,390.6L479.3,391.3L480.3,391.7L481.3,392.3L482.3,392.2L483.3,392.0L484.3,393.2L485.2,393.1L486.2,391.9L487.2,392.5L488.2,392.6L489.2,393.0L490.2,393.6L491.2,393.3L492.2,391.5L493.2,392.9L494.2,393.7L495.2,393.0L496.2,394.2L497.1,395.2L498.1,394.1L499.1,393.8L500.1,395.3L501.1,394.5L502.1,394.5L503.1,395.1L504.1,395.6L505.1,395.3L506.1,395.9L507.1,395.2L508.1,394.8L509.1,395.3L510.0,395.3L511.0,396.1L512.0,395.8L513.0,395.7L514.0,396.9L515.0,395.4L516.0,396.7L517.0,395.7L518.0,398.0L519.0,396.5L520.0,396.7L521.0,396.8L521.9,398.2L522.9,396.8L523.9,398.3L524.9,397.0L525.9,397.5L526.9,398.1L527.9,400.0L528.9,398.6L529.9,398.2L530.9,398.6L531.9,399.4L532.9,400.1L533.9,399.1L534.8,398.6L535.8,400.1L536.8,398.6L537.8,398.6L538.8,399.9L539.8,400.0L540.8,401.1L541.8,401.6L542.8,399.8L543.8,401.0L544.8,400.6L545.8,400.3L546.7,401.2L547.7,400.1L548.7,400.2L549.7,401.5L550.7,400.2L551.7,399.8L552.7,401.5L553.7,402.5L554.7,402.5L555.7,402.9L556.7,402.6L557.7,402.4L558.7,403.8L559.6,403.0L560.6,403.3L561.6,404.3L562.6,403.1L563.6,403.2L564.6,403.6L565.6,403.5L566.6,403.2L567.6,403.7L568.6,403.6L569.6,404.8L570.6,404.2L571.5,404.8L572.5,405.5L573.5,404.8L574.5,404.6L575.5,404.4L576.5,404.8L577.5,403.4" fill="none" stroke="#000" stroke-width="1.1" marker-start="url(#m)" marker-mid="url(#m)" marker-end="url(#m)"/><circle cx="79.5" cy="309.1" r="2.7" fill="#fff" stroke="#111" stroke-width="0.65"/></g>
<g clip-path="url(#ca)"><path d="M83.2,365.3L84.4,362.7L85.6,361.2L86.8,359.6L87.9,358.1L89.1,357.1L90.3,356.0L91.5,355.0L92.7,354.0L93.9,353.3L95.1,352.6L96.3,352.0L97.5,351.4L98.7,351.0L99.9,350.6L101.0,350.2L102.2,349.9L103.4,349.5L104.6,349.2L105.8,349.0L107.0,348.7L108.2,348.4L109.4,348.3L110.6,348.1L111.8,347.9L112.9,347.8L114.1,347.6L115.3,347.4L116.5,347.3L117.7,347.2L118.9,347.0L120.1,347.0L121.2,347.0L122.2,347.1L123.2,347.1L124.2,347.2L125.1,347.3L126.1,347.3L127.1,347.4L128.1,347.5L129.1,347.6L130.1,347.6L131.1,347.7L132.1,347.8L133.1,347.9L134.1,348.0L135.1,348.0L136.1,348.0L137.1,348.2L138.0,348.2L139.0,348.3L140.0,348.4L141.0,348.5L142.0,348.6L143.0,348.6L144.0,348.7L145.0,348.8L146.0,349.0L147.0,349.0L148.0,349.1L149.0,349.2L149.9,349.4L150.9,349.5L151.9,349.6L152.9,349.6L153.9,349.8L154.9,349.9L155.9,350.1L156.9,350.2L157.9,350.3L158.9,350.5L159.9,350.6L160.9,350.7L161.9,350.9L162.8,351.0L163.8,351.2L164.8,351.4L165.8,351.5L166.8,351.7L167.8,351.9L168.8,352.0L169.8,352.2L170.8,352.4L171.8,352.7L172.8,352.9L173.8,353.1L174.7,353.3L175.7,353.6L176.7,353.8L177.7,354.0L178.7,354.3L179.7,354.5L180.7,354.8L181.7,355.1L182.7,355.4L183.7,355.7L184.7,355.9L185.7,356.3L186.7,356.6L187.6,357.0L188.6,357.4L189.6,357.7L190.6,358.1L191.6,358.4L192.6,358.9L193.6,359.3L194.6,359.7L195.6,360.1L196.6,360.7L197.6,361.0L198.6,361.6L199.5,362.0L200.5,362.5L201.5,363.1L202.5,363.5L203.5,364.1L204.5,364.7L205.5,365.4L206.5,365.8L207.5,366.5L208.5,367.2L209.5,367.9L210.5,368.4L211.5,369.1L212.4,369.7L213.4,370.6L214.4,371.3L215.4,372.2L216.4,372.9L217.4,373.7L218.4,374.7L219.4,375.4L220.4,376.2L221.4,377.2L222.4,378.1L223.4,379.0L224.3,380.0L225.3,380.8L226.3,381.8L227.3,383.0L228.3,383.8L229.3,385.2L230.3,386.1L231.3,387.3L232.3,388.4L233.3,389.4L234.3,390.8L235.3,391.9L236.3,393.4L237.2,394.6L238.2,395.8L239.2,397.4L240.2,398.7L241.2,399.6L242.2,401.5L243.2,402.4L244.2,404.5L245.2,406.0L246.2,407.4L247.2,408.6L248.2,409.6L249.1,411.0L250.1,412.0L251.1,413.3L252.1,414.2L253.1,415.4L254.1,415.8L255.1,417.5L256.1,416.8L257.1,418.9L258.1,418.8L259.1,418.1L260.1,417.8L261.1,418.4L262.0,418.4L263.0,417.4L264.0,416.5L265.0,416.8L266.0,417.0L267.0,415.4L268.0,415.5L269.0,414.5L270.0,413.6L271.0,415.0L272.0,413.8L273.0,413.6L273.9,412.2L274.9,411.3L275.9,412.0L276.9,411.3L277.9,411.1L278.9,410.5L279.9,410.2L280.9,409.7L281.9,409.8L282.9,409.5L283.9,409.4L284.9,409.7L285.9,409.5L286.8,408.2L287.8,408.3L288.8,408.5L289.8,407.7L290.8,407.9L291.8,408.7L292.8,408.2L293.8,407.8L294.8,408.6L295.8,408.8L296.8,408.0L297.8,408.5L298.7,408.0L299.7,408.4L300.7,407.4L301.7,408.5L302.7,408.8L303.7,409.0L304.7,409.0L305.7,408.0L306.7,409.7L307.7,408.7L308.7,409.3L309.7,410.3L310.7,410.4L311.6,411.6L312.6,411.0L313.6,411.3L314.6,411.3L315.6,411.4L316.6,411.2L317.6,412.1L318.6,412.2L319.6,413.1L320.6,413.1L321.6,413.1L322.6,413.9L323.5,414.2L324.5,414.9L325.5,414.0L326.5,415.5L327.5,414.6L328.5,416.0L329.5,416.0L330.5,417.3L331.5,417.2L332.5,417.0L333.5,417.7L334.5,419.3L335.5,419.7L336.4,419.8L337.4,419.5L338.4,419.5L339.4,421.4L340.4,421.3L341.4,422.4L342.4,423.3L343.4,423.7L344.4,423.8L345.4,424.1L346.4,424.8L347.4,424.9L348.3,426.1L349.3,426.8L350.3,426.0L351.3,428.5L352.3,428.7L353.3,428.4L354.3,429.0L355.3,428.7L356.3,430.8L357.3,430.5L358.3,431.2L359.3,431.9L360.3,431.9L361.2,431.6L362.2,432.6L363.2,433.6L364.2,434.0L365.2,433.7L366.2,434.7L367.2,436.1L368.2,434.9L369.2,435.3L370.2,436.8L371.2,436.2L372.2,437.5L373.1,437.3L374.1,437.7L375.1,438.4L376.1,436.0L377.1,436.3L378.1,438.0L379.1,439.9L380.1,439.0L381.1,436.9L382.1,437.7L383.1,438.5L384.1,440.3L385.1,438.2L386.0,438.5L387.0,439.2L388.0,438.2L389.0,438.0L390.0,438.7L391.0,439.9L392.0,437.9L393.0,438.2L394.0,438.8L395.0,437.4L396.0,438.2L397.0,438.0L397.9,437.2L398.9,438.2L399.9,438.1L400.9,438.3L401.9,437.9L402.9,437.9L403.9,437.5L404.9,437.5L405.9,438.5L406.9,437.8L407.9,438.2L408.9,437.6L409.9,437.2L410.8,437.6L411.8,437.5L412.8,438.1L413.8,438.2L414.8,438.7L415.8,437.9L416.8,437.8L417.8,438.1L418.8,437.3L419.8,440.1L420.8,437.4L421.8,438.6L422.7,437.3L423.7,437.4L424.7,437.3L425.7,438.9L426.7,439.1L427.7,438.7L428.7,439.7L429.7,438.7L430.7,439.1L431.7,441.0L432.7,438.6L433.7,440.4L434.7,439.8L435.6,440.1L436.6,439.0L437.6,439.9L438.6,438.6L439.6,440.3L440.6,441.2L441.6,439.8L442.6,440.5L443.6,440.1L444.6,443.3L445.6,442.2L446.6,441.4L447.5,442.9L448.5,442.3L449.5,441.6L450.5,443.6L451.5,442.2L452.5,442.7L453.5,444.1L454.5,444.0L455.5,444.4L456.5,443.7L457.5,444.5L458.5,443.8L459.5,444.8L460.4,444.8L461.4,443.7L462.4,444.5L463.4,445.0L464.4,444.9L465.4,449.8L466.4,445.6L467.4,446.9L468.4,443.6L469.4,445.9L470.4,447.6L471.4,446.2L472.3,444.8L473.3,447.8L474.3,447.3L475.3,446.7L476.3,446.4L477.3,447.9L478.3,447.0L479.3,449.3L480.3,447.1L481.3,449.0L482.3,449.1L483.3,449.6L484.3,449.4L485.2,449.1L486.2,447.9L487.2,450.1L488.2,450.3L489.2,451.0L490.2,450.5L491.2,447.3L492.2,451.7L493.2,447.4L494.2,451.8L495.2,452.4L496.2,451.2L497.1,453.0L498.1,451.6L499.1,450.2L500.1,454.2L501.1,450.6L502.1,450.4L503.1,451.6L504.1,451.2L505.1,453.4L506.1,452.8L507.1,455.7L508.1,452.3L509.1,450.2L510.0,453.1L511.0,454.1L512.0,456.7L513.0,451.6L514.0,454.8L515.0,455.5L516.0,455.4L517.0,453.6L518.0,454.2L519.0,460.0L520.0,452.3L521.0,454.9L521.9,452.9L522.9,453.1L523.9,455.0L524.9,454.4L525.9,456.9L526.9,455.6L527.9,455.3L528.9,458.3L529.9,457.3L530.9,454.6L531.9,457.4L532.9,454.6L533.9,456.5L534.8,453.5L535.8,457.9L536.8,457.5L537.8,457.9L538.8,457.8L539.8,455.6L540.8,453.1L541.8,455.8L542.8,457.9L543.8,456.5L544.8,455.7L545.8,461.1L546.7,459.4L547.7,459.1L548.7,457.2L549.7,458.4L550.7,454.8L551.7,459.8L552.7,458.1L553.7,458.2L554.7,459.7L555.7,457.6L556.7,456.3L557.7,459.1L558.7,457.6L559.6,461.5L560.6,459.7L561.6,461.6L562.6,458.2L563.6,456.3L564.6,456.4L565.6,457.1L566.6,458.2L567.6,456.9L568.6,458.6L569.6,459.3L570.6,459.8L571.5,459.3L572.5,461.3L573.5,457.9L574.5,460.5L575.5,459.6L576.5,460.0L577.5,459.8" fill="none" stroke="#000" stroke-width="1.1" marker-start="url(#m)" marker-mid="url(#m)" marker-end="url(#m)"/><circle cx="79.5" cy="352.5" r="2.7" fill="#fff" stroke="#111" stroke-width="0.65"/></g>
<g clip-path="url(#ca)"><path d="M83.2,408.9L84.4,406.3L85.6,404.8L86.8,403.2L87.9,401.7L89.1,400.6L90.3,399.6L91.5,398.6L92.7,397.6L93.9,396.9L95.1,396.3L96.3,395.6L97.5,395.0L98.7,394.5L99.9,394.1L101.0,393.8L102.2,393.4L103.4,393.1L104.6,392.8L105.8,392.6L107.0,392.3L108.2,392.0L109.4,391.9L110.6,391.7L111.8,391.6L112.9,391.4L114.1,391.3L115.3,391.2L116.5,391.1L117.7,391.0L118.9,390.9L120.1,390.9L121.2,391.0L122.2,391.1L123.2,391.3L124.2,391.6L125.1,392.2L126.1,393.0L127.1,394.0L128.1,394.9L129.1,395.6L130.1,396.2L131.1,396.8L132.1,397.3L133.1,397.8L134.1,398.3L135.1,398.7L136.1,399.2L137.1,399.6L138.0,400.0L139.0,400.5L140.0,400.9L141.0,401.3L142.0,401.7L143.0,402.1L144.0,402.5L145.0,402.9L146.0,403.3L147.0,403.7L148.0,404.1L149.0,404.5L149.9,404.9L150.9,405.4L151.9,405.8L152.9,406.2L153.9,406.6L154.9,407.0L155.9,407.4L156.9,407.8L157.9,408.2L158.9,408.6L159.9,409.0L160.9,409.4L161.9,409.9L162.8,410.3L163.8,410.7L164.8,411.1L165.8,411.5L166.8,412.0L167.8,412.4L168.8,412.8L169.8,413.3L170.8,413.7L171.8,414.1L172.8,414.6L173.8,415.0L174.7,415.5L175.7,415.9L176.7,416.4L177.7,416.8L178.7,417.3L179.7,417.7L180.7,418.2L181.7,418.6L182.7,419.1L183.7,419.6L184.7,420.1L185.7,420.5L186.7,421.0L187.6,421.5L188.6,422.0L189.6,422.5L190.6,423.0L191.6,423.5L192.6,424.0L193.6,424.5L194.6,425.0L195.6,425.5L196.6,426.0L197.6,426.5L198.6,427.1L199.5,427.6L200.5,428.1L201.5,428.7L202.5,429.2L203.5,429.8L204.5,430.3L205.5,430.9L206.5,431.4L207.5,432.0L208.5,432.6L209.5,433.1L210.5,433.7L211.5,434.3L212.4,434.9L213.4,435.6L214.4,436.0L215.4,436.7L216.4,437.3L217.4,437.9L218.4,438.6L219.4,439.2L220.4,439.9L221.4,440.5L222.4,441.1L223.4,441.7L224.3,442.4L225.3,443.2L226.3,444.0L227.3,444.5L228.3,445.2L229.3,446.0L230.3,446.3L231.3,447.0L232.3,448.1L233.3,449.1L234.3,450.0L235.3,450.7L236.3,451.2L237.2,451.9L238.2,452.9L239.2,453.6L240.2,454.5L241.2,455.5L242.2,456.2L243.2,456.7L244.2,458.6L245.2,459.8L246.2,459.8L247.2,460.7L248.2,462.5L249.1,462.6L250.1,463.9L251.1,465.6L252.1,467.4L253.1,468.1L254.1,468.4L255.1,471.0L256.1,470.9L257.1,472.9L258.1,473.0L259.1,475.2L260.1,476.0L261.1,476.1L262.0,476.7L263.0,478.2L264.0,478.2L265.0,477.4L266.0,477.6L267.0,477.5L268.0,476.6L269.0,475.7L270.0,476.1L271.0,475.6L272.0,475.5L273.0,474.6L273.9,474.2L274.9,473.8L275.9,473.9L276.9,474.3L277.9,473.5L278.9,473.3L279.9,474.4L280.9,473.7L281.9,474.4L282.9,474.9L283.9,474.9L284.9,473.6L285.9,473.3L286.8,473.1L287.8,473.5L288.8,473.7L289.8,472.6L290.8,472.8L291.8,472.7L292.8,472.5L293.8,473.0L294.8,473.4L295.8,472.4L296.8,472.2L297.8,472.2L298.7,472.4L299.7,472.8L300.7,472.3L301.7,473.1L302.7,472.5L303.7,472.1L304.7,472.5L305.7,472.9L306.7,472.6L307.7,472.3L308.7,473.0L309.7,472.6L310.7,472.8L311.6,473.5L312.6,473.7L313.6,473.6L314.6,473.3L315.6,474.4L316.6,473.8L317.6,475.3L318.6,473.9L319.6,474.0L320.6,474.6L321.6,475.2L322.6,474.6L323.5,475.5L324.5,475.0L325.5,475.7L326.5,476.5L327.5,476.7L328.5,476.2L329.5,476.9L330.5,477.3L331.5,477.2L332.5,477.4L333.5,478.0L334.5,478.4L335.5,478.7L336.4,480.2L337.4,479.0L338.4,479.4L339.4,480.3L340.4,480.4L341.4,479.5L342.4,480.7L343.4,481.7L344.4,481.5L345.4,481.6L346.4,482.4L347.4,483.3L348.3,483.1L349.3,483.0L350.3,483.2L351.3,483.5L352.3,485.0L353.3,485.8L354.3,486.0L355.3,486.9L356.3,486.7L357.3,487.9L358.3,487.0L359.3,488.7L360.3,488.6L361.2,489.0L362.2,489.0L363.2,490.2L364.2,490.9L365.2,490.9L366.2,491.8L367.2,492.0L368.2,491.7L369.2,493.5L370.2,493.4L371.2,494.1L372.2,494.7L373.1,494.8L374.1,494.6L375.1,494.9L376.1,496.0L377.1,495.7L378.1,495.8L379.1,496.6L380.1,497.9L381.1,497.6L382.1,497.0L383.1,497.5L384.1,497.3L385.1,497.3L386.0,497.9L387.0,498.4L388.0,498.8L389.0,499.1L390.0,498.9L391.0,498.7L392.0,499.1L393.0,501.1L394.0,501.1L395.0,500.1L396.0,499.4L397.0,500.5L397.9,501.6L398.9,499.7L399.9,500.3L400.9,500.9L401.9,500.6L402.9,501.6L403.9,502.4L404.9,500.0L405.9,502.4L406.9,500.8L407.9,500.9L408.9,499.8L409.9,501.8L410.8,501.1L411.8,501.4L412.8,501.0L413.8,500.6L414.8,500.6L415.8,500.8L416.8,500.2L417.8,500.4L418.8,500.6L419.8,499.7L420.8,501.0L421.8,499.6L422.7,499.2L423.7,500.3L424.7,501.1L425.7,500.8L426.7,500.4L427.7,500.7L428.7,499.7L429.7,500.1L430.7,499.9L431.7,499.6L432.7,499.4L433.7,500.5L434.7,499.6L435.6,499.9L436.6,499.8L437.6,499.4L438.6,500.3L439.6,500.0L440.6,499.8L441.6,499.3L442.6,501.3L443.6,499.8L444.6,498.9L445.6,499.1L446.6,501.2L447.5,500.2L448.5,499.7L449.5,499.6L450.5,500.1L451.5,502.2L452.5,500.8L453.5,500.6L454.5,501.1L455.5,499.8L456.5,499.4L457.5,500.4L458.5,501.1L459.5,500.8L460.4,500.9L461.4,501.7L462.4,500.6L463.4,500.5L464.4,501.7L465.4,501.5L466.4,501.6L467.4,501.3L468.4,502.6L469.4,501.4L470.4,503.0L471.4,502.5L472.3,502.7L473.3,502.7L474.3,501.6L475.3,502.2L476.3,503.7L477.3,502.7L478.3,503.7L479.3,503.3L480.3,504.2L481.3,504.0L482.3,503.2L483.3,504.6L484.3,504.1L485.2,506.1L486.2,504.6L487.2,505.1L488.2,506.0L489.2,506.3L490.2,505.9L491.2,504.6L492.2,505.3L493.2,506.3L494.2,505.3L495.2,505.9L496.2,506.0L497.1,505.5L498.1,506.4L499.1,505.4L500.1,506.4L501.1,506.7L502.1,506.6L503.1,507.1L504.1,508.7L505.1,508.3L506.1,507.1L507.1,509.0L508.1,507.9L509.1,508.6L510.0,508.2L511.0,508.2L512.0,508.5L513.0,510.0L514.0,509.8L515.0,508.7L516.0,509.7L517.0,509.3L518.0,509.7L519.0,509.2L520.0,509.2L521.0,510.1L521.9,509.0L522.9,510.8L523.9,510.3L524.9,510.5L525.9,514.3L526.9,512.4L527.9,512.0L528.9,511.8L529.9,513.7L530.9,512.9L531.9,512.8L532.9,512.7L533.9,510.3L534.8,515.3L535.8,514.9L536.8,513.4L537.8,513.2L538.8,512.8L539.8,514.3L540.8,511.5L541.8,512.5L542.8,516.4L543.8,514.7L544.8,513.5L545.8,515.2L546.7,513.5L547.7,515.6L548.7,514.5L549.7,516.0L550.7,515.8L551.7,517.6L552.7,514.3L553.7,517.8L554.7,515.6L555.7,517.6L556.7,514.9L557.7,518.8L558.7,518.1L559.6,514.4L560.6,518.3L561.6,514.9L562.6,515.6L563.6,515.1L564.6,513.2L565.6,519.5L566.6,516.6L567.6,514.5L568.6,515.0L569.6,513.6L570.6,516.3L571.5,517.2L572.5,515.2L573.5,518.6L574.5,517.7L575.5,515.3L576.5,515.2L577.5,512.9" fill="none" stroke="#000" stroke-width="1.1" marker-start="url(#m)" marker-mid="url(#m)" marker-end="url(#m)"/><circle cx="79.5" cy="396.1" r="2.7" fill="#fff" stroke="#111" stroke-width="0.65"/></g>
<g clip-path="url(#ca)"><path d="M83.2,450.8L84.4,448.2L85.6,446.6L86.8,445.1L87.9,443.5L89.1,442.5L90.3,441.5L91.5,440.5L92.7,439.5L93.9,438.7L95.1,438.1L96.3,437.5L97.5,436.8L98.7,436.3L99.9,436.0L101.0,435.6L102.2,435.2L103.4,434.9L104.6,434.6L105.8,434.4L107.0,434.1L108.2,433.8L109.4,433.7L110.6,433.5L111.8,433.3L112.9,433.2L114.1,433.1L115.3,433.0L116.5,432.8L117.7,432.8L118.9,432.7L120.1,432.7L121.2,432.8L122.2,433.0L123.2,433.2L124.2,433.6L125.1,434.3L126.1,435.6L127.1,437.1L128.1,438.4L129.1,439.5L130.1,440.4L131.1,441.2L132.1,442.0L133.1,442.6L134.1,443.3L135.1,443.9L136.1,444.4L137.1,445.0L138.0,445.5L139.0,446.0L140.0,446.5L141.0,447.0L142.0,447.4L143.0,447.9L144.0,448.4L145.0,448.8L146.0,449.2L147.0,449.7L148.0,450.1L149.0,450.5L149.9,450.9L150.9,451.3L151.9,451.7L152.9,452.1L153.9,452.5L154.9,452.9L155.9,453.3L156.9,453.7L157.9,454.1L158.9,454.5L159.9,454.9L160.9,455.3L161.9,455.6L162.8,456.0L163.8,456.4L164.8,456.8L165.8,457.2L166.8,457.6L167.8,457.9L168.8,458.3L169.8,458.7L170.8,459.1L171.8,459.5L172.8,459.8L173.8,460.2L174.7,460.6L175.7,461.0L176.7,461.4L177.7,461.8L178.7,462.1L179.7,462.5L180.7,462.9L181.7,463.3L182.7,463.7L183.7,464.1L184.7,464.5L185.7,464.9L186.7,465.3L187.6,465.7L188.6,466.1L189.6,466.5L190.6,466.9L191.6,467.3L192.6,467.7L193.6,468.1L194.6,468.5L195.6,468.9L196.6,469.3L197.6,469.8L198.6,470.2L199.5,470.6L200.5,471.0L201.5,471.4L202.5,471.9L203.5,472.3L204.5,472.8L205.5,473.2L206.5,473.6L207.5,474.1L208.5,474.5L209.5,475.0L210.5,475.4L211.5,475.9L212.4,476.4L213.4,476.8L214.4,477.4L215.4,477.7L216.4,478.2L217.4,478.7L218.4,479.3L219.4,479.6L220.4,480.1L221.4,480.7L222.4,481.2L223.4,481.5L224.3,482.3L225.3,482.4L226.3,483.2L227.3,483.7L228.3,484.2L229.3,484.8L230.3,485.4L231.3,485.7L232.3,486.5L233.3,486.9L234.3,487.5L235.3,488.0L236.3,488.7L237.2,489.2L238.2,489.9L239.2,490.2L240.2,491.0L241.2,491.6L242.2,492.7L243.2,493.0L244.2,493.4L245.2,494.4L246.2,495.0L247.2,495.4L248.2,496.0L249.1,497.5L250.1,497.5L251.1,498.4L252.1,498.5L253.1,499.6L254.1,499.7L255.1,501.1L256.1,502.0L257.1,502.0L258.1,502.9L259.1,504.1L260.1,505.2L261.1,505.8L262.0,506.0L263.0,507.0L264.0,508.2L265.0,509.2L266.0,509.7L267.0,510.6L268.0,511.9L269.0,513.3L270.0,514.5L271.0,515.5L272.0,516.2L273.0,518.1L273.9,519.4L274.9,520.1L275.9,520.3L276.9,521.8L277.9,523.8L278.9,523.1L279.9,524.1L280.9,526.0L281.9,526.0L282.9,526.7L283.9,528.7L284.9,528.9L285.9,529.7L286.8,530.8L287.8,531.6L288.8,532.7L289.8,532.8L290.8,533.4L291.8,534.9L292.8,535.9L293.8,537.0L294.8,536.9L295.8,537.0L296.8,537.5L297.8,537.9L298.7,539.0L299.7,538.2L300.7,538.2L301.7,537.7L302.7,539.1L303.7,539.4L304.7,538.2L305.7,537.5L306.7,538.6L307.7,538.6L308.7,537.8L309.7,536.9L310.7,539.5L311.6,537.6L312.6,536.9L313.6,537.8L314.6,537.4L315.6,537.3L316.6,536.8L317.6,536.2L318.6,536.8L319.6,536.0L320.6,536.5L321.6,536.8L322.6,537.0L323.5,535.8L324.5,536.0L325.5,534.7L326.5,535.9L327.5,535.4L328.5,535.1L329.5,535.2L330.5,534.9L331.5,533.9L332.5,534.9L333.5,533.8L334.5,534.0L335.5,534.6L336.4,534.4L337.4,533.8L338.4,534.4L339.4,535.2L340.4,533.6L341.4,534.4L342.4,533.9L343.4,535.0L344.4,533.7L345.4,534.8L346.4,534.4L347.4,534.8L348.3,534.0L349.3,534.4L350.3,534.6L351.3,533.7L352.3,534.0L353.3,534.6L354.3,534.3L355.3,534.0L356.3,534.6L357.3,534.0L358.3,534.3L359.3,534.4L360.3,534.8L361.2,534.1L362.2,535.3L363.2,534.6L364.2,536.1L365.2,534.8L366.2,536.3L367.2,536.1L368.2,536.5L369.2,535.7L370.2,535.9L371.2,535.4L372.2,535.7L373.1,536.1L374.1,537.1L375.1,536.8L376.1,537.3L377.1,538.0L378.1,537.4L379.1,537.6L380.1,538.1L381.1,538.2L382.1,538.2L383.1,538.6L384.1,539.3L385.1,539.7L386.0,539.8L387.0,539.7L388.0,538.8L389.0,540.3L390.0,540.4L391.0,541.0L392.0,540.7L393.0,540.1L394.0,541.2L395.0,542.1L396.0,541.3L397.0,542.5L397.9,542.0L398.9,543.0L399.9,543.2L400.9,544.3L401.9,543.7L402.9,543.7L403.9,544.4L404.9,546.7L405.9,547.1L406.9,546.6L407.9,546.4L408.9,547.7L409.9,546.0L410.8,547.1L411.8,546.3L412.8,547.3L413.8,546.8L414.8,548.5L415.8,549.9L416.8,549.6L417.8,550.1L418.8,550.8L419.8,552.1L420.8,551.4L421.8,551.2L422.7,552.3L423.7,552.4L424.7,553.0L425.7,554.1L426.7,555.0L427.7,554.1L428.7,554.5L429.7,554.6L430.7,554.0L431.7,555.9L432.7,558.4L433.7,556.0L434.7,557.3L435.6,558.3L436.6,559.2L437.6,558.3L438.6,558.2L439.6,560.2L440.6,559.5L441.6,565.7L442.6,560.0L443.6,557.8L444.6,558.9L445.6,561.2L446.6,561.4L447.5,562.6L448.5,561.8L449.5,559.6L450.5,560.7L451.5,561.8L452.5,563.4L453.5,559.1L454.5,559.8L455.5,564.2L456.5,561.6L457.5,563.0L458.5,563.2L459.5,562.3L460.4,565.5L461.4,560.0L462.4,564.2L463.4,561.5L464.4,561.5L465.4,562.1L466.4,562.2L467.4,560.8L468.4,562.1L469.4,560.8L470.4,559.9L471.4,560.2L472.3,564.8L473.3,560.4L474.3,560.6L475.3,560.1L476.3,562.7L477.3,560.5L478.3,560.1L479.3,559.2L480.3,562.9L481.3,560.6L482.3,559.1L483.3,559.8L484.3,561.5L485.2,560.0L486.2,561.0L487.2,562.3L488.2,559.8L489.2,559.7L490.2,559.5L491.2,560.0L492.2,561.3L493.2,559.3L494.2,559.8L495.2,560.3L496.2,560.1L497.1,560.5L498.1,563.2L499.1,559.8L500.1,555.6L501.1,561.1L502.1,560.0L503.1,558.0L504.1,562.0L505.1,561.3L506.1,559.3L507.1,560.3L508.1,559.8L509.1,561.1L510.0,556.6L511.0,564.3L512.0,557.9L513.0,557.6L514.0,558.8L515.0,563.2L516.0,558.2L517.0,561.0L518.0,563.9L519.0,563.7L520.0,559.9L521.0,560.9L521.9,559.3L522.9,562.2L523.9,560.1L524.9,559.6L525.9,560.4L526.9,560.2L527.9,559.3L528.9,559.9L529.9,558.4L530.9,562.1L531.9,562.0L532.9,563.3L533.9,561.6L534.8,560.9L535.8,564.2L536.8,564.1L537.8,562.9L538.8,563.1L539.8,561.4L540.8,559.8L541.8,566.0L542.8,561.5L543.8,562.7L544.8,561.7L545.8,563.1L546.7,563.9L547.7,562.5L548.7,559.9L549.7,563.5L550.7,565.7L551.7,568.2L552.7,563.6L553.7,565.4L554.7,568.0L555.7,563.3L556.7,566.3L557.7,564.8L558.7,564.5L559.6,568.2L560.6,565.2L561.6,568.9L562.6,570.3L563.6,564.4L564.6,570.6L565.6,563.7L566.6,564.4L567.6,565.1L568.6,565.6L569.6,569.9L570.6,567.1L571.5,568.1L572.5,566.0L573.5,567.5L574.5,565.3L575.5,566.3L576.5,569.5L577.5,570.7" fill="none" stroke="#000" stroke-width="1.1" marker-start="url(#m)" marker-mid="url(#m)" marker-end="url(#m)"/><circle cx="79.5" cy="437.9" r="2.7" fill="#fff" stroke="#111" stroke-width="0.65"/></g>
<g clip-path="url(#ca)"><path d="M83.2,494.8L84.4,492.2L85.6,490.6L86.8,489.1L87.9,487.6L89.1,486.5L90.3,485.5L91.5,484.6L92.7,483.6L93.9,482.8L95.1,482.2L96.3,481.6L97.5,481.0L98.7,480.5L99.9,480.2L101.0,479.8L102.2,479.5L103.4,479.1L104.6,478.9L105.8,478.7L107.0,478.4L108.2,478.2L109.4,478.0L110.6,477.9L111.8,477.8L112.9,477.6L114.1,477.5L115.3,477.4L116.5,477.4L117.7,477.3L118.9,477.3L120.1,477.3L121.2,477.5L122.2,477.7L123.2,478.0L124.2,478.6L125.1,479.7L126.1,481.6L127.1,484.0L128.1,486.2L129.1,487.9L130.1,489.4L131.1,490.6L132.1,491.7L133.1,492.7L134.1,493.6L135.1,494.5L136.1,495.3L137.1,496.1L138.0,496.8L139.0,497.5L140.0,498.2L141.0,498.8L142.0,499.4L143.0,500.0L144.0,500.6L145.0,501.2L146.0,501.7L147.0,502.3L148.0,502.7L149.0,503.3L149.9,503.7L150.9,504.3L151.9,504.7L152.9,505.2L153.9,505.6L154.9,506.0L155.9,506.5L156.9,507.0L157.9,507.4L158.9,507.7L159.9,508.3L160.9,508.6L161.9,509.0L162.8,509.4L163.8,509.8L164.8,510.2L165.8,510.6L166.8,511.0L167.8,511.4L168.8,511.8L169.8,512.1L170.8,512.4L171.8,512.8L172.8,513.2L173.8,513.5L174.7,513.9L175.7,514.2L176.7,514.7L177.7,514.9L178.7,515.3L179.7,515.6L180.7,516.0L181.7,516.2L182.7,516.7L183.7,517.0L184.7,517.3L185.7,517.7L186.7,518.0L187.6,518.4L188.6,518.7L189.6,519.0L190.6,519.2L191.6,519.6L192.6,520.0L193.6,520.3L194.6,520.6L195.6,520.9L196.6,521.3L197.6,521.7L198.6,521.8L199.5,522.2L200.5,522.6L201.5,522.9L202.5,523.1L203.5,523.5L204.5,523.6L205.5,524.0L206.5,524.3L207.5,524.6L208.5,525.1L209.5,525.3L210.5,525.6L211.5,526.0L212.4,526.3L213.4,526.5L214.4,527.0L215.4,527.4L216.4,527.6L217.4,527.7L218.4,528.2L219.4,528.4L220.4,528.7L221.4,529.2L222.4,529.2L223.4,529.7L224.3,529.8L225.3,530.1L226.3,530.8L227.3,530.8L228.3,531.1L229.3,531.1L230.3,531.7L231.3,532.3L232.3,532.6L233.3,532.4L234.3,532.9L235.3,533.6L236.3,534.1L237.2,533.8L238.2,534.3L239.2,534.8L240.2,534.9L241.2,535.1L242.2,535.4L243.2,536.1L244.2,535.7L245.2,536.7L246.2,537.0L247.2,537.5L248.2,537.3L249.1,538.0L250.1,537.9L251.1,538.3L252.1,539.1L253.1,539.5L254.1,539.8L255.1,539.7L256.1,541.1L257.1,540.3L258.1,541.2L259.1,541.8L260.1,542.3L261.1,542.3L262.0,542.5L263.0,542.7L264.0,543.0L265.0,543.5L266.0,543.9L267.0,544.4L268.0,543.8L269.0,545.2L270.0,545.5L271.0,545.8L272.0,546.3L273.0,546.4L273.9,547.2L274.9,547.2L275.9,547.7L276.9,547.4L277.9,547.3L278.9,547.6L279.9,549.1L280.9,548.5L281.9,548.9L282.9,550.3L283.9,550.4L284.9,550.1L285.9,550.4L286.8,551.3L287.8,550.6L288.8,551.6L289.8,553.1L290.8,553.3L291.8,552.8L292.8,553.1L293.8,553.8L294.8,553.8L295.8,554.9L296.8,554.8L297.8,555.4L298.7,555.8L299.7,555.8L300.7,556.6L301.7,557.3L302.7,557.2L303.7,557.9L304.7,557.9L305.7,559.5L306.7,557.4L307.7,558.3L308.7,559.8L309.7,559.6L310.7,561.2L311.6,561.1L312.6,561.7L313.6,561.3L314.6,561.3L315.6,563.7L316.6,562.4L317.6,563.0L318.6,563.8L319.6,563.9L320.6,564.8L321.6,564.7L322.6,566.0L323.5,565.2L324.5,566.7L325.5,566.7L326.5,568.0L327.5,567.8L328.5,570.0L329.5,568.9L330.5,569.1L331.5,568.9L332.5,570.2L333.5,571.4L334.5,572.6L335.5,570.3L336.4,572.3L337.4,572.8L338.4,573.5L339.4,573.8L340.4,573.3L341.4,573.6L342.4,576.1L343.4,574.6L344.4,575.7L345.4,578.1L346.4,577.0L347.4,577.6L348.3,576.8L349.3,577.9L350.3,580.8L351.3,579.4L352.3,579.2L353.3,579.1L354.3,583.1L355.3,581.4L356.3,582.2L357.3,582.8L358.3,583.0L359.3,582.4L360.3,584.2L361.2,583.4L362.2,585.4L363.2,585.7L364.2,585.1L365.2,587.0L366.2,587.5L367.2,589.9L368.2,589.6L369.2,589.5L370.2,591.0L371.2,591.1L372.2,591.2L373.1,590.7L374.1,594.2L375.1,595.8L376.1,594.1L377.1,592.7L378.1,593.7L379.1,597.4L380.1,594.2L381.1,594.0L382.1,598.9L383.1,597.2L384.1,594.3L385.1,595.2L386.0,600.0L387.0,598.1L388.0,600.7L389.0,596.4L390.0,597.8L391.0,598.3L392.0,597.7L393.0,602.8L394.0,603.4L395.0,600.3L396.0,598.0L397.0,597.0L397.9,600.8L398.9,599.5L399.9,600.6L400.9,607.5L401.9,602.8L402.9,599.8L403.9,601.3L404.9,603.4L405.9,606.2L406.9,603.9L407.9,602.8L408.9,603.2L409.9,608.8L410.8,604.5L411.8,602.6L412.8,604.5L413.8,598.2L414.8,604.8L415.8,600.2L416.8,602.2L417.8,603.6L418.8,605.0L419.8,607.8L420.8,602.5L421.8,605.4L422.7,603.2L423.7,600.8L424.7,600.3L425.7,601.3L426.7,601.9L427.7,599.8L428.7,601.3L429.7,599.1L430.7,600.2L431.7,598.2L432.7,609.9L433.7,602.1L434.7,599.7L435.6,599.7L436.6,597.0L437.6,600.6L438.6,601.2L439.6,604.4L440.6,599.9L441.6,598.8L442.6,599.2L443.6,598.5L444.6,599.8L445.6,601.7L446.6,603.5L447.5,600.7L448.5,600.5L449.5,598.4L450.5,598.4L451.5,599.7L452.5,597.2L453.5,598.7L454.5,597.2L455.5,599.0L456.5,601.5L457.5,598.4L458.5,600.0L459.5,597.9L460.4,595.5L461.4,601.0L462.4,601.2L463.4,600.6L464.4,598.5L465.4,596.9L466.4,600.6L467.4,604.4L468.4,604.6L469.4,596.9L470.4,604.9L471.4,602.1L472.3,598.8L473.3,597.4L474.3,603.1L475.3,601.9L476.3,600.3L477.3,596.4L478.3,599.9L479.3,601.1L480.3,602.2L481.3,600.6L482.3,600.2L483.3,600.8L484.3,601.8L485.2,600.6L486.2,605.5L487.2,602.1L488.2,601.5L489.2,604.0L490.2,609.5L491.2,598.9L492.2,599.2L493.2,604.5L494.2,602.7L495.2,603.4L496.2,604.6L497.1,600.9L498.1,602.2L499.1,602.6L500.1,606.1L501.1,603.2L502.1,604.7L503.1,600.4L504.1,600.6L505.1,606.7L506.1,605.0L507.1,606.5L508.1,602.1L509.1,605.4L510.0,602.1L511.0,603.0L512.0,603.1L513.0,604.9L514.0,603.6L515.0,607.2L516.0,603.0L517.0,606.6L518.0,611.9L519.0,608.5L520.0,606.2L521.0,609.3L521.9,615.0L522.9,607.3L523.9,605.4L524.9,611.7L525.9,604.4L526.9,605.7L527.9,616.2L528.9,604.3L529.9,610.0L530.9,610.6L531.9,612.3L532.9,609.8L533.9,611.7L534.8,608.8L535.8,608.3L536.8,605.5L537.8,613.4L538.8,614.8L539.8,618.2L540.8,619.5L541.8,606.0L542.8,612.9L543.8,615.2L544.8,612.0L545.8,615.6L546.7,614.4L547.7,614.5L548.7,617.0L549.7,615.3L550.7,610.4L551.7,615.2L552.7,606.0L553.7,611.9L554.7,621.5L555.7,612.5L556.7,607.1L557.7,615.2L558.7,610.9L559.6,618.0L560.6,610.6L561.6,617.4L562.6,617.0L563.6,619.9L564.6,615.1L565.6,618.7L566.6,621.5L567.6,615.0L568.6,612.1L569.6,610.0L570.6,617.4L571.5,617.1L572.5,616.9L573.5,616.0L574.5,619.1L575.5,614.4L576.5,621.5L577.5,607.6" fill="none" stroke="#000" stroke-width="1.1" marker-start="url(#m)" marker-mid="url(#m)" marker-end="url(#m)"/><circle cx="79.5" cy="482.2" r="2.7" fill="#fff" stroke="#111" stroke-width="0.65"/></g>
<g clip-path="url(#cb)"><path d="M801.4,87.7L802.6,85.1L803.8,83.6L805.0,82.0L806.2,80.4L807.3,79.4L808.5,78.4L809.7,77.4L810.9,76.4L812.1,75.6L813.3,75.0L814.5,74.3L815.7,73.7L816.9,73.2L818.1,72.8L819.3,72.5L820.4,72.1L821.6,71.7L822.8,71.4L824.0,71.2L825.2,70.9L826.4,70.6L827.6,70.4L828.8,70.2L830.0,70.1L831.2,69.9L832.4,69.7L833.5,69.6L834.7,69.4L835.9,69.2L837.1,69.1L838.3,69.0L839.4,69.1L840.4,69.1L841.4,69.1L842.4,69.1L843.4,69.2L844.4,69.2L845.4,69.2L846.4,69.2L847.3,69.3L848.3,69.3L849.3,69.3L850.3,69.4L851.3,69.4L852.3,69.4L853.3,69.5L854.3,69.5L855.3,69.5L856.3,69.6L857.3,69.6L858.3,69.6L859.3,69.7L860.2,69.7L861.2,69.7L862.2,69.8L863.2,69.8L864.2,69.9L865.2,69.9L866.2,69.9L867.2,70.0L868.2,70.0L869.2,70.1L870.2,70.1L871.2,70.2L872.2,70.2L873.2,70.3L874.1,70.3L875.1,70.4L876.1,70.4L877.1,70.5L878.1,70.5L879.1,70.6L880.1,70.7L881.1,70.7L882.1,70.8L883.1,70.9L884.1,70.9L885.1,71.0L886.1,71.1L887.0,71.2L888.0,71.2L889.0,71.3L890.0,71.4L891.0,71.5L892.0,71.6L893.0,71.7L894.0,71.8L895.0,71.9L896.0,72.1L897.0,72.2L898.0,72.3L899.0,72.5L900.0,72.6L900.9,72.8L901.9,73.0L902.9,73.2L903.9,73.4L904.9,73.6L905.9,73.8L906.9,74.1L907.9,74.4L908.9,74.7L909.9,75.1L910.9,75.5L911.9,76.0L912.9,76.5L913.8,77.0L914.8,77.7L915.8,78.4L916.8,79.2L917.8,80.1L918.8,81.1L919.8,82.1L920.8,83.1L921.8,84.2L922.8,85.3L923.8,86.4L924.8,87.5L925.8,88.6L926.8,89.7L927.7,90.7L928.7,91.7L929.7,92.6L930.7,93.6L931.7,94.6L932.7,95.6L933.7,96.6L934.7,97.5L935.7,98.4L936.7,99.1L937.7,99.9L938.7,100.7L939.7,101.7L940.6,102.5L941.6,103.8L942.6,104.6L943.6,105.4L944.6,105.9L945.6,106.3L946.6,107.1L947.6,107.6L948.6,108.5L949.6,109.5L950.6,110.6L951.6,111.7L952.6,112.5L953.6,113.2L954.5,113.5L955.5,113.8L956.5,114.0L957.5,114.4L958.5,114.9L959.5,115.3L960.5,117.0L961.5,118.5L962.5,119.6L963.5,121.8L964.5,121.9L965.5,122.6L966.5,121.5L967.4,120.9L968.4,120.4L969.4,121.0L970.4,121.9L971.4,122.7L972.4,125.8L973.4,127.9L974.4,130.1L975.4,131.0L976.4,131.1L977.4,129.8L978.4,129.7L979.4,127.9L980.4,127.7L981.3,128.4L982.3,128.9L983.3,130.7L984.3,132.9L985.3,135.0L986.3,137.5L987.3,139.6L988.3,139.8L989.3,139.2L990.3,138.7L991.3,136.9L992.3,135.8L993.3,134.8L994.2,134.7L995.2,135.5L996.2,137.1L997.2,139.1L998.2,142.1L999.2,146.2L1000.2,150.3L1001.2,152.5L1002.2,151.6L1003.2,147.2L1004.2,143.8L1005.2,141.0L1006.2,139.4L1007.2,139.4L1008.1,139.6L1009.1,140.7L1010.1,144.1L1011.1,148.7L1012.1,154.8L1013.1,162.7L1014.1,165.1L1015.1,160.0L1016.1,153.7L1017.1,149.1L1018.1,148.3L1019.1,146.7L1020.1,146.2L1021.0,147.1L1022.0,147.9L1023.0,151.0L1024.0,155.2L1025.0,158.4L1026.0,164.8L1027.0,171.3L1028.0,175.7L1029.0,172.4L1030.0,166.7L1031.0,161.1L1032.0,156.8L1033.0,155.3L1034.0,152.8L1034.9,152.8L1035.9,151.8L1036.9,153.0L1037.9,155.5L1038.9,157.8L1039.9,160.7L1040.9,168.8L1041.9,173.1L1042.9,171.4L1043.9,165.1L1044.9,160.6L1045.9,157.5L1046.9,154.7L1047.9,152.9L1048.8,153.5L1049.8,154.7L1050.8,156.2L1051.8,159.0L1052.8,161.8L1053.8,166.8L1054.8,171.8L1055.8,175.0L1056.8,174.6L1057.8,170.8L1058.8,167.3L1059.8,165.8L1060.8,164.3L1061.7,164.1L1062.7,163.1L1063.7,164.3L1064.7,165.0L1065.7,166.5L1066.7,169.7L1067.7,172.1L1068.7,174.9L1069.7,177.7L1070.7,179.9L1071.7,180.0L1072.7,176.6L1073.7,172.3L1074.7,169.4L1075.6,166.1L1076.6,165.3L1077.6,164.5L1078.6,163.3L1079.6,162.7L1080.6,163.5L1081.6,164.5L1082.6,167.0L1083.6,168.8L1084.6,169.2L1085.6,169.6L1086.6,170.4L1087.6,170.1L1088.5,166.8L1089.5,167.1L1090.5,166.1L1091.5,166.0L1092.5,167.2L1093.5,168.7L1094.5,169.6L1095.5,170.9L1096.5,174.3L1097.5,176.2L1098.5,178.4L1099.5,180.2L1100.5,181.5L1101.5,181.5L1102.4,180.0L1103.4,180.7L1104.4,180.2L1105.4,179.1L1106.4,177.5L1107.4,176.5L1108.4,176.4L1109.4,176.2L1110.4,177.9L1111.4,175.2L1112.4,175.9L1113.4,176.0L1114.4,175.4L1115.3,175.7L1116.3,176.1L1117.3,174.4L1118.3,174.2L1119.3,172.3L1120.3,172.8L1121.3,172.6L1122.3,172.0L1123.3,172.9L1124.3,171.4L1125.3,172.3L1126.3,173.0L1127.3,174.6L1128.3,175.0L1129.2,176.8L1130.2,177.8L1131.2,178.3L1132.2,176.8L1133.2,178.2L1134.2,178.4L1135.2,180.2L1136.2,181.3L1137.2,181.3L1138.2,181.3L1139.2,184.2L1140.2,185.8L1141.2,187.5L1142.1,188.5L1143.1,188.5L1144.1,189.2L1145.1,188.8L1146.1,188.1L1147.1,187.7L1148.1,186.3L1149.1,185.2L1150.1,183.6L1151.1,183.9L1152.1,181.2L1153.1,182.0L1154.1,181.1L1155.1,181.9L1156.0,180.9L1157.0,180.7L1158.0,180.8L1159.0,179.6L1160.0,181.0L1161.0,180.6L1162.0,181.3L1163.0,180.8L1164.0,179.6L1165.0,181.8L1166.0,181.1L1167.0,181.9L1168.0,182.3L1168.9,182.5L1169.9,183.4L1170.9,185.2L1171.9,187.1L1172.9,187.6L1173.9,188.8L1174.9,188.6L1175.9,190.9L1176.9,192.3L1177.9,193.5L1178.9,195.5L1179.9,195.2L1180.9,195.1L1181.9,197.1L1182.8,196.8L1183.8,197.9L1184.8,195.9L1185.8,199.1L1186.8,194.5L1187.8,193.7L1188.8,193.9L1189.8,193.4L1190.8,191.1L1191.8,193.2L1192.8,191.6L1193.8,189.6L1194.8,188.9L1195.7,188.6L1196.7,187.9L1197.7,188.8L1198.7,188.7L1199.7,187.7L1200.7,189.0L1201.7,188.5L1202.7,189.5L1203.7,187.9L1204.7,189.6L1205.7,191.6L1206.7,191.3L1207.7,192.4L1208.7,191.9L1209.6,193.9L1210.6,193.9L1211.6,194.8L1212.6,197.5L1213.6,197.7L1214.6,199.1L1215.6,199.7L1216.6,201.0L1217.6,202.7L1218.6,202.4L1219.6,204.6L1220.6,208.5L1221.6,206.3L1222.5,205.8L1223.5,204.8L1224.5,203.2L1225.5,202.7L1226.5,200.6L1227.5,203.0L1228.5,201.1L1229.5,201.6L1230.5,198.4L1231.5,200.1L1232.5,197.9L1233.5,197.8L1234.5,196.1L1235.5,198.1L1236.4,197.5L1237.4,195.9L1238.4,196.6L1239.4,196.2L1240.4,197.4L1241.4,197.4L1242.4,195.8L1243.4,199.1L1244.4,198.0L1245.4,200.6L1246.4,198.9L1247.4,202.1L1248.4,201.2L1249.3,203.7L1250.3,204.7L1251.3,206.2L1252.3,205.1L1253.3,204.8L1254.3,209.9L1255.3,217.3L1256.3,218.7L1257.3,212.9L1258.3,220.7L1259.3,214.4L1260.3,214.9L1261.3,213.2L1262.3,214.4L1263.2,216.6L1264.2,210.1L1265.2,214.8L1266.2,213.4L1267.2,208.9L1268.2,206.4L1269.2,210.6L1270.2,209.8L1271.2,207.7L1272.2,205.2L1273.2,203.9L1274.2,205.7L1275.2,209.1L1276.1,202.7L1277.1,205.1L1278.1,204.6L1279.1,205.6L1280.1,203.7L1281.1,206.7L1282.1,207.3L1283.1,206.2L1284.1,210.0L1285.1,205.5L1286.1,210.5L1287.1,210.6L1288.1,208.3L1289.1,211.0L1290.0,214.5L1291.0,220.9L1292.0,212.2L1293.0,226.1L1294.0,215.4L1295.0,229.5L1296.0,219.1" fill="none" stroke="#000" stroke-width="1.1" marker-start="url(#m)" marker-mid="url(#m)" marker-end="url(#m)"/><circle cx="797.7" cy="74.7" r="2.7" fill="#fff" stroke="#111" stroke-width="0.65"/></g>
<g clip-path="url(#cb)"><path d="M801.4,145.5L802.6,142.9L803.8,141.3L805.0,139.8L806.2,138.2L807.3,137.1L808.5,136.1L809.7,135.1L810.9,134.1L812.1,133.4L813.3,132.7L814.5,132.1L815.7,131.4L816.9,130.9L818.1,130.5L819.3,130.2L820.4,129.8L821.6,129.4L822.8,129.2L824.0,128.9L825.2,128.6L826.4,128.3L827.6,128.1L828.8,127.9L830.0,127.7L831.2,127.5L832.4,127.4L833.5,127.2L834.7,127.1L835.9,126.9L837.1,126.8L838.3,126.7L839.4,126.7L840.4,126.7L841.4,126.8L842.4,126.8L843.4,126.8L844.4,126.8L845.4,126.9L846.4,126.9L847.3,126.9L848.3,126.9L849.3,127.0L850.3,127.0L851.3,127.0L852.3,127.0L853.3,127.1L854.3,127.1L855.3,127.1L856.3,127.2L857.3,127.2L858.3,127.2L859.3,127.3L860.2,127.3L861.2,127.3L862.2,127.4L863.2,127.4L864.2,127.4L865.2,127.5L866.2,127.5L867.2,127.5L868.2,127.6L869.2,127.6L870.2,127.7L871.2,127.7L872.2,127.8L873.2,127.8L874.1,127.8L875.1,127.9L876.1,127.9L877.1,128.0L878.1,128.0L879.1,128.1L880.1,128.2L881.1,128.2L882.1,128.3L883.1,128.3L884.1,128.4L885.1,128.5L886.1,128.6L887.0,128.6L888.0,128.7L889.0,128.8L890.0,128.9L891.0,129.0L892.0,129.0L893.0,129.1L894.0,129.2L895.0,129.4L896.0,129.5L897.0,129.6L898.0,129.7L899.0,129.9L900.0,130.0L900.9,130.2L901.9,130.3L902.9,130.5L903.9,130.7L904.9,130.9L905.9,131.1L906.9,131.4L907.9,131.7L908.9,132.0L909.9,132.3L910.9,132.7L911.9,133.2L912.9,133.6L913.8,134.2L914.8,134.8L915.8,135.5L916.8,136.3L917.8,137.1L918.8,138.0L919.8,139.0L920.8,139.9L921.8,140.8L922.8,141.8L923.8,142.6L924.8,143.5L925.8,144.4L926.8,145.4L927.7,146.5L928.7,147.7L929.7,148.9L930.7,150.1L931.7,151.3L932.7,152.3L933.7,153.0L934.7,153.4L935.7,153.6L936.7,153.9L937.7,153.7L938.7,153.9L939.7,154.3L940.6,154.7L941.6,155.5L942.6,156.7L943.6,158.2L944.6,159.9L945.6,161.3L946.6,163.3L947.6,164.9L948.6,166.1L949.6,167.0L950.6,167.1L951.6,166.7L952.6,166.0L953.6,165.6L954.5,165.1L955.5,164.7L956.5,164.9L957.5,165.3L958.5,164.9L959.5,165.4L960.5,166.2L961.5,167.0L962.5,168.8L963.5,168.9L964.5,170.7L965.5,172.6L966.5,173.9L967.4,176.7L968.4,178.6L969.4,181.8L970.4,182.6L971.4,184.1L972.4,183.4L973.4,182.2L974.4,180.7L975.4,178.5L976.4,176.9L977.4,174.6L978.4,174.5L979.4,174.3L980.4,173.1L981.3,173.5L982.3,173.8L983.3,175.3L984.3,176.6L985.3,177.6L986.3,180.3L987.3,181.9L988.3,185.4L989.3,188.2L990.3,191.9L991.3,196.4L992.3,198.8L993.3,199.2L994.2,199.7L995.2,196.8L996.2,194.8L997.2,192.9L998.2,190.6L999.2,189.2L1000.2,188.7L1001.2,187.7L1002.2,187.1L1003.2,185.6L1004.2,185.8L1005.2,185.4L1006.2,185.3L1007.2,184.3L1008.1,185.6L1009.1,185.5L1010.1,186.9L1011.1,188.4L1012.1,188.9L1013.1,190.8L1014.1,193.1L1015.1,195.9L1016.1,200.4L1017.1,206.3L1018.1,212.4L1019.1,221.4L1020.1,221.8L1021.0,213.6L1022.0,206.5L1023.0,201.6L1024.0,199.0L1025.0,196.5L1026.0,194.9L1027.0,193.3L1028.0,191.9L1029.0,192.2L1030.0,192.2L1031.0,192.2L1032.0,192.8L1033.0,193.6L1034.0,195.0L1034.9,196.4L1035.9,199.2L1036.9,200.2L1037.9,202.0L1038.9,203.6L1039.9,206.3L1040.9,209.6L1041.9,211.9L1042.9,215.9L1043.9,220.3L1044.9,224.6L1045.9,233.0L1046.9,239.7L1047.9,233.6L1048.8,224.8L1049.8,219.7L1050.8,214.0L1051.8,210.5L1052.8,206.7L1053.8,205.3L1054.8,203.0L1055.8,201.5L1056.8,201.4L1057.8,200.0L1058.8,199.2L1059.8,199.5L1060.8,200.7L1061.7,200.0L1062.7,201.3L1063.7,202.5L1064.7,203.8L1065.7,205.8L1066.7,208.8L1067.7,211.0L1068.7,214.2L1069.7,218.8L1070.7,222.1L1071.7,225.0L1072.7,226.2L1073.7,226.9L1074.7,224.9L1075.6,223.6L1076.6,222.0L1077.6,220.7L1078.6,219.3L1079.6,218.6L1080.6,218.0L1081.6,217.3L1082.6,216.2L1083.6,215.5L1084.6,215.7L1085.6,214.6L1086.6,213.1L1087.6,214.0L1088.5,213.9L1089.5,213.3L1090.5,212.7L1091.5,212.8L1092.5,213.1L1093.5,213.6L1094.5,214.3L1095.5,215.2L1096.5,215.9L1097.5,217.9L1098.5,219.0L1099.5,220.9L1100.5,220.6L1101.5,220.9L1102.4,221.3L1103.4,220.9L1104.4,220.4L1105.4,219.2L1106.4,218.9L1107.4,217.8L1108.4,217.8L1109.4,217.2L1110.4,217.1L1111.4,217.3L1112.4,217.3L1113.4,218.9L1114.4,218.0L1115.3,220.1L1116.3,221.2L1117.3,223.5L1118.3,224.3L1119.3,226.5L1120.3,227.3L1121.3,229.6L1122.3,230.8L1123.3,233.0L1124.3,234.0L1125.3,234.8L1126.3,236.1L1127.3,235.2L1128.3,236.9L1129.2,236.0L1130.2,235.1L1131.2,234.0L1132.2,233.5L1133.2,231.1L1134.2,230.1L1135.2,228.8L1136.2,227.1L1137.2,226.5L1138.2,224.4L1139.2,224.7L1140.2,223.3L1141.2,223.9L1142.1,223.7L1143.1,223.3L1144.1,222.9L1145.1,222.7L1146.1,223.9L1147.1,225.0L1148.1,225.8L1149.1,225.9L1150.1,227.5L1151.1,227.6L1152.1,230.3L1153.1,231.4L1154.1,233.0L1155.1,236.1L1156.0,236.0L1157.0,238.4L1158.0,239.2L1159.0,241.6L1160.0,241.3L1161.0,243.6L1162.0,242.9L1163.0,245.7L1164.0,244.7L1165.0,243.8L1166.0,244.3L1167.0,243.2L1168.0,243.0L1168.9,242.1L1169.9,240.9L1170.9,238.6L1171.9,239.0L1172.9,237.8L1173.9,237.6L1174.9,236.7L1175.9,235.9L1176.9,235.5L1177.9,234.4L1178.9,233.5L1179.9,234.4L1180.9,235.6L1181.9,235.8L1182.8,235.2L1183.8,235.9L1184.8,235.8L1185.8,236.5L1186.8,236.5L1187.8,236.4L1188.8,236.8L1189.8,238.1L1190.8,238.0L1191.8,238.5L1192.8,240.8L1193.8,239.4L1194.8,240.1L1195.7,238.6L1196.7,243.8L1197.7,242.8L1198.7,244.7L1199.7,246.3L1200.7,246.8L1201.7,248.9L1202.7,250.8L1203.7,251.7L1204.7,255.0L1205.7,254.7L1206.7,255.9L1207.7,254.9L1208.7,257.5L1209.6,255.4L1210.6,254.0L1211.6,252.4L1212.6,253.0L1213.6,252.9L1214.6,250.1L1215.6,249.7L1216.6,251.0L1217.6,248.2L1218.6,248.7L1219.6,247.4L1220.6,247.5L1221.6,247.0L1222.5,246.4L1223.5,245.0L1224.5,247.3L1225.5,245.5L1226.5,245.5L1227.5,242.9L1228.5,245.5L1229.5,245.5L1230.5,245.9L1231.5,246.6L1232.5,246.0L1233.5,247.7L1234.5,248.6L1235.5,250.1L1236.4,250.0L1237.4,250.7L1238.4,253.6L1239.4,254.4L1240.4,255.3L1241.4,257.2L1242.4,260.2L1243.4,262.2L1244.4,261.6L1245.4,268.5L1246.4,267.9L1247.4,265.2L1248.4,282.0L1249.3,273.2L1250.3,270.0L1251.3,274.8L1252.3,268.3L1253.3,267.8L1254.3,264.9L1255.3,264.4L1256.3,265.7L1257.3,260.3L1258.3,261.5L1259.3,258.3L1260.3,261.3L1261.3,256.3L1262.3,256.8L1263.2,257.1L1264.2,253.2L1265.2,254.3L1266.2,257.1L1267.2,255.0L1268.2,255.4L1269.2,254.6L1270.2,256.1L1271.2,258.0L1272.2,256.0L1273.2,255.4L1274.2,257.3L1275.2,257.8L1276.1,257.4L1277.1,260.5L1278.1,265.1L1279.1,266.3L1280.1,261.7L1281.1,263.0L1282.1,267.1L1283.1,269.0L1284.1,268.5L1285.1,274.2L1286.1,273.6L1287.1,277.6L1288.1,279.4L1289.1,277.3L1290.0,286.1L1291.0,286.6L1292.0,285.4L1293.0,276.2L1294.0,274.5L1295.0,275.7L1296.0,282.3" fill="none" stroke="#000" stroke-width="1.1" marker-start="url(#m)" marker-mid="url(#m)" marker-end="url(#m)"/><circle cx="797.7" cy="132.4" r="2.7" fill="#fff" stroke="#111" stroke-width="0.65"/></g>
<g clip-path="url(#cb)"><path d="M801.4,202.5L802.6,199.9L803.8,198.3L805.0,196.8L806.2,195.2L807.3,194.2L808.5,193.2L809.7,192.2L810.9,191.2L812.1,190.5L813.3,189.8L814.5,189.2L815.7,188.5L816.9,188.1L818.1,187.7L819.3,187.3L820.4,187.0L821.6,186.6L822.8,186.3L824.0,186.1L825.2,185.8L826.4,185.5L827.6,185.3L828.8,185.2L830.0,185.0L831.2,184.8L832.4,184.7L833.5,184.5L834.7,184.4L835.9,184.2L837.1,184.1L838.3,184.0L839.4,184.0L840.4,184.1L841.4,184.1L842.4,184.1L843.4,184.2L844.4,184.2L845.4,184.2L846.4,184.3L847.3,184.3L848.3,184.3L849.3,184.4L850.3,184.4L851.3,184.4L852.3,184.5L853.3,184.5L854.3,184.5L855.3,184.6L856.3,184.6L857.3,184.7L858.3,184.7L859.3,184.7L860.2,184.8L861.2,184.8L862.2,184.9L863.2,184.9L864.2,184.9L865.2,185.0L866.2,185.0L867.2,185.1L868.2,185.1L869.2,185.2L870.2,185.2L871.2,185.3L872.2,185.3L873.2,185.4L874.1,185.5L875.1,185.5L876.1,185.6L877.1,185.6L878.1,185.7L879.1,185.8L880.1,185.8L881.1,185.9L882.1,186.0L883.1,186.0L884.1,186.1L885.1,186.2L886.1,186.3L887.0,186.4L888.0,186.5L889.0,186.6L890.0,186.7L891.0,186.8L892.0,186.9L893.0,187.0L894.0,187.2L895.0,187.3L896.0,187.4L897.0,187.6L898.0,187.7L899.0,187.9L900.0,188.0L900.9,188.2L901.9,188.4L902.9,188.6L903.9,188.8L904.9,189.0L905.9,189.2L906.9,189.4L907.9,189.7L908.9,190.0L909.9,190.3L910.9,190.7L911.9,191.1L912.9,191.5L913.8,192.0L914.8,192.5L915.8,193.0L916.8,193.6L917.8,194.3L918.8,194.9L919.8,195.6L920.8,196.4L921.8,197.2L922.8,198.0L923.8,198.8L924.8,199.7L925.8,200.6L926.8,201.6L927.7,202.7L928.7,203.9L929.7,205.2L930.7,206.6L931.7,208.2L932.7,210.0L933.7,212.0L934.7,214.1L935.7,216.8L936.7,217.5L937.7,219.5L938.7,221.3L939.7,222.5L940.6,223.6L941.6,223.6L942.6,223.7L943.6,223.9L944.6,224.1L945.6,223.8L946.6,223.9L947.6,224.6L948.6,225.1L949.6,226.2L950.6,226.8L951.6,227.4L952.6,227.7L953.6,228.0L954.5,228.2L955.5,228.8L956.5,229.3L957.5,228.1L958.5,228.5L959.5,227.9L960.5,227.8L961.5,226.9L962.5,226.1L963.5,225.8L964.5,226.3L965.5,225.0L966.5,224.6L967.4,224.4L968.4,224.7L969.4,224.8L970.4,225.8L971.4,225.3L972.4,226.4L973.4,227.2L974.4,228.4L975.4,226.5L976.4,227.0L977.4,228.7L978.4,230.0L979.4,231.0L980.4,232.8L981.3,234.6L982.3,236.7L983.3,237.9L984.3,240.4L985.3,241.6L986.3,243.9L987.3,244.7L988.3,245.5L989.3,248.2L990.3,250.1L991.3,250.4L992.3,251.2L993.3,251.9L994.2,253.1L995.2,254.1L996.2,255.9L997.2,257.0L998.2,259.4L999.2,260.0L1000.2,261.5L1001.2,263.6L1002.2,265.6L1003.2,266.8L1004.2,264.6L1005.2,266.0L1006.2,263.3L1007.2,262.0L1008.1,259.7L1009.1,257.9L1010.1,256.1L1011.1,254.6L1012.1,254.6L1013.1,252.5L1014.1,251.8L1015.1,251.7L1016.1,251.4L1017.1,251.0L1018.1,250.9L1019.1,251.2L1020.1,251.2L1021.0,250.7L1022.0,253.0L1023.0,254.1L1024.0,254.3L1025.0,253.6L1026.0,255.2L1027.0,256.3L1028.0,256.1L1029.0,257.5L1030.0,257.3L1031.0,255.9L1032.0,255.6L1033.0,257.5L1034.0,255.2L1034.9,255.6L1035.9,254.2L1036.9,253.2L1037.9,253.3L1038.9,253.0L1039.9,253.3L1040.9,251.7L1041.9,252.0L1042.9,252.6L1043.9,252.8L1044.9,253.1L1045.9,253.8L1046.9,253.3L1047.9,253.9L1048.8,254.9L1049.8,255.8L1050.8,256.4L1051.8,257.3L1052.8,258.9L1053.8,261.8L1054.8,262.6L1055.8,264.1L1056.8,264.6L1057.8,267.0L1058.8,269.0L1059.8,271.2L1060.8,273.1L1061.7,275.2L1062.7,277.3L1063.7,279.4L1064.7,280.8L1065.7,282.2L1066.7,281.7L1067.7,282.7L1068.7,281.4L1069.7,280.8L1070.7,279.7L1071.7,278.0L1072.7,278.5L1073.7,276.2L1074.7,275.6L1075.6,274.7L1076.6,275.5L1077.6,273.5L1078.6,272.6L1079.6,273.3L1080.6,271.3L1081.6,270.6L1082.6,270.1L1083.6,269.6L1084.6,269.5L1085.6,269.0L1086.6,269.8L1087.6,270.2L1088.5,270.2L1089.5,269.6L1090.5,270.6L1091.5,270.3L1092.5,270.4L1093.5,271.8L1094.5,273.6L1095.5,273.2L1096.5,274.0L1097.5,276.0L1098.5,277.4L1099.5,278.4L1100.5,279.9L1101.5,281.5L1102.4,281.5L1103.4,282.8L1104.4,283.5L1105.4,284.6L1106.4,284.2L1107.4,283.8L1108.4,283.6L1109.4,283.0L1110.4,282.0L1111.4,280.8L1112.4,280.5L1113.4,278.9L1114.4,278.0L1115.3,277.4L1116.3,276.0L1117.3,277.0L1118.3,276.3L1119.3,276.1L1120.3,276.3L1121.3,275.2L1122.3,275.7L1123.3,275.2L1124.3,276.7L1125.3,275.7L1126.3,277.3L1127.3,277.1L1128.3,279.7L1129.2,278.9L1130.2,279.5L1131.2,281.3L1132.2,282.2L1133.2,283.8L1134.2,285.9L1135.2,287.6L1136.2,288.7L1137.2,289.7L1138.2,292.8L1139.2,294.9L1140.2,296.1L1141.2,297.4L1142.1,297.8L1143.1,299.4L1144.1,299.4L1145.1,300.4L1146.1,299.5L1147.1,297.0L1148.1,296.5L1149.1,294.9L1150.1,293.4L1151.1,292.2L1152.1,291.5L1153.1,289.9L1154.1,290.6L1155.1,289.2L1156.0,288.2L1157.0,287.4L1158.0,286.7L1159.0,287.2L1160.0,287.5L1161.0,287.1L1162.0,287.1L1163.0,287.9L1164.0,287.1L1165.0,287.9L1166.0,287.8L1167.0,288.5L1168.0,289.1L1168.9,290.2L1169.9,290.5L1170.9,290.7L1171.9,293.0L1172.9,293.9L1173.9,295.5L1174.9,297.1L1175.9,299.3L1176.9,301.6L1177.9,302.9L1178.9,301.7L1179.9,305.9L1180.9,308.5L1181.9,308.0L1182.8,308.0L1183.8,308.0L1184.8,306.4L1185.8,307.3L1186.8,305.6L1187.8,303.8L1188.8,302.9L1189.8,302.0L1190.8,301.0L1191.8,298.8L1192.8,296.5L1193.8,297.5L1194.8,297.2L1195.7,295.9L1196.7,294.6L1197.7,295.1L1198.7,295.5L1199.7,296.8L1200.7,295.9L1201.7,296.4L1202.7,296.6L1203.7,296.1L1204.7,296.3L1205.7,297.0L1206.7,298.9L1207.7,301.1L1208.7,301.1L1209.6,301.4L1210.6,302.8L1211.6,303.7L1212.6,304.4L1213.6,308.3L1214.6,309.4L1215.6,312.1L1216.6,315.9L1217.6,313.2L1218.6,314.5L1219.6,317.6L1220.6,315.9L1221.6,320.1L1222.5,319.0L1223.5,317.2L1224.5,317.9L1225.5,314.3L1226.5,316.8L1227.5,314.7L1228.5,313.1L1229.5,309.6L1230.5,311.4L1231.5,308.0L1232.5,304.7L1233.5,308.4L1234.5,305.6L1235.5,307.2L1236.4,305.5L1237.4,307.8L1238.4,308.1L1239.4,305.2L1240.4,305.9L1241.4,306.3L1242.4,306.7L1243.4,305.2L1244.4,305.9L1245.4,306.7L1246.4,311.2L1247.4,309.5L1248.4,310.4L1249.3,313.3L1250.3,310.6L1251.3,314.8L1252.3,318.5L1253.3,319.4L1254.3,319.3L1255.3,319.9L1256.3,322.9L1257.3,329.2L1258.3,327.6L1259.3,329.5L1260.3,327.1L1261.3,327.7L1262.3,335.7L1263.2,332.4L1264.2,329.8L1265.2,330.7L1266.2,324.1L1267.2,323.1L1268.2,325.6L1269.2,320.7L1270.2,319.5L1271.2,318.7L1272.2,314.3L1273.2,319.5L1274.2,316.3L1275.2,316.7L1276.1,314.7L1277.1,315.9L1278.1,318.6L1279.1,319.0L1280.1,315.5L1281.1,316.1L1282.1,316.7L1283.1,315.0L1284.1,319.2L1285.1,318.8L1286.1,321.0L1287.1,323.7L1288.1,321.9L1289.1,325.8L1290.0,326.0L1291.0,324.3L1292.0,325.8L1293.0,332.2L1294.0,332.8L1295.0,341.3L1296.0,335.1" fill="none" stroke="#000" stroke-width="1.1" marker-start="url(#m)" marker-mid="url(#m)" marker-end="url(#m)"/><circle cx="797.7" cy="189.6" r="2.7" fill="#fff" stroke="#111" stroke-width="0.65"/></g>
<g clip-path="url(#cb)"><path d="M801.4,248.2L802.6,245.6L803.8,244.0L805.0,242.5L806.2,240.9L807.3,239.9L808.5,238.9L809.7,237.8L810.9,236.8L812.1,236.1L813.3,235.5L814.5,234.8L815.7,234.2L816.9,233.7L818.1,233.3L819.3,232.9L820.4,232.6L821.6,232.2L822.8,231.9L824.0,231.7L825.2,231.4L826.4,231.1L827.6,230.9L828.8,230.7L830.0,230.6L831.2,230.4L832.4,230.2L833.5,230.1L834.7,229.9L835.9,229.8L837.1,229.6L838.3,229.6L839.4,229.6L840.4,229.6L841.4,229.6L842.4,229.7L843.4,229.7L844.4,229.7L845.4,229.8L846.4,229.8L847.3,229.8L848.3,229.8L849.3,229.9L850.3,229.9L851.3,229.9L852.3,230.0L853.3,230.0L854.3,230.0L855.3,230.1L856.3,230.1L857.3,230.1L858.3,230.2L859.3,230.2L860.2,230.2L861.2,230.3L862.2,230.3L863.2,230.4L864.2,230.4L865.2,230.5L866.2,230.5L867.2,230.5L868.2,230.6L869.2,230.6L870.2,230.7L871.2,230.7L872.2,230.8L873.2,230.9L874.1,230.9L875.1,231.0L876.1,231.1L877.1,231.1L878.1,231.2L879.1,231.3L880.1,231.3L881.1,231.4L882.1,231.4L883.1,231.5L884.1,231.6L885.1,231.7L886.1,231.7L887.0,231.8L888.0,231.9L889.0,232.0L890.0,232.2L891.0,232.3L892.0,232.4L893.0,232.5L894.0,232.7L895.0,232.8L896.0,233.0L897.0,233.1L898.0,233.3L899.0,233.4L900.0,233.6L900.9,233.7L901.9,233.9L902.9,234.1L903.9,234.2L904.9,234.4L905.9,234.6L906.9,234.8L907.9,235.0L908.9,235.3L909.9,235.6L910.9,235.9L911.9,236.2L912.9,236.6L913.8,237.0L914.8,237.5L915.8,237.9L916.8,238.4L917.8,239.0L918.8,239.5L919.8,240.1L920.8,240.7L921.8,241.3L922.8,241.9L923.8,242.5L924.8,243.2L925.8,243.8L926.8,244.4L927.7,245.1L928.7,245.7L929.7,246.5L930.7,247.2L931.7,248.1L932.7,249.1L933.7,250.0L934.7,251.2L935.7,252.4L936.7,253.8L937.7,255.2L938.7,257.0L939.7,259.0L940.6,260.7L941.6,263.0L942.6,265.1L943.6,267.5L944.6,269.9L945.6,272.1L946.6,273.7L947.6,275.6L948.6,276.2L949.6,276.9L950.6,277.3L951.6,277.0L952.6,276.6L953.6,276.6L954.5,276.3L955.5,276.3L956.5,276.9L957.5,276.7L958.5,276.5L959.5,277.1L960.5,277.9L961.5,277.0L962.5,276.9L963.5,276.6L964.5,276.1L965.5,275.0L966.5,274.5L967.4,274.1L968.4,272.6L969.4,271.8L970.4,270.8L971.4,270.5L972.4,269.6L973.4,269.3L974.4,268.3L975.4,268.5L976.4,268.2L977.4,267.7L978.4,267.6L979.4,268.5L980.4,268.5L981.3,268.9L982.3,269.1L983.3,269.7L984.3,270.1L985.3,271.1L986.3,272.4L987.3,272.1L988.3,273.3L989.3,273.9L990.3,275.5L991.3,275.9L992.3,276.9L993.3,277.3L994.2,277.5L995.2,277.9L996.2,278.4L997.2,278.0L998.2,277.5L999.2,278.5L1000.2,278.8L1001.2,279.1L1002.2,279.4L1003.2,279.3L1004.2,280.0L1005.2,281.0L1006.2,281.2L1007.2,282.0L1008.1,283.2L1009.1,284.2L1010.1,285.7L1011.1,285.9L1012.1,289.1L1013.1,289.5L1014.1,291.3L1015.1,294.1L1016.1,296.1L1017.1,299.1L1018.1,301.1L1019.1,305.4L1020.1,309.7L1021.0,314.5L1022.0,318.4L1023.0,321.6L1024.0,324.8L1025.0,323.0L1026.0,321.8L1027.0,320.4L1028.0,319.1L1029.0,316.7L1030.0,316.9L1031.0,316.8L1032.0,316.1L1033.0,317.3L1034.0,318.3L1034.9,319.6L1035.9,319.8L1036.9,322.3L1037.9,321.8L1038.9,322.1L1039.9,319.5L1040.9,318.0L1041.9,315.7L1042.9,312.8L1043.9,310.8L1044.9,306.9L1045.9,305.7L1046.9,303.4L1047.9,302.4L1048.8,300.8L1049.8,300.8L1050.8,299.3L1051.8,298.2L1052.8,297.5L1053.8,296.9L1054.8,296.3L1055.8,296.0L1056.8,296.6L1057.8,297.9L1058.8,296.7L1059.8,296.8L1060.8,297.5L1061.7,298.5L1062.7,299.3L1063.7,300.1L1064.7,300.7L1065.7,301.6L1066.7,301.7L1067.7,302.8L1068.7,303.2L1069.7,304.0L1070.7,305.4L1071.7,304.8L1072.7,305.2L1073.7,306.4L1074.7,305.6L1075.6,305.9L1076.6,304.3L1077.6,304.3L1078.6,304.2L1079.6,302.9L1080.6,303.5L1081.6,303.2L1082.6,303.7L1083.6,302.7L1084.6,303.9L1085.6,304.3L1086.6,305.0L1087.6,304.9L1088.5,305.7L1089.5,306.0L1090.5,306.5L1091.5,307.4L1092.5,307.8L1093.5,310.3L1094.5,312.8L1095.5,312.3L1096.5,315.0L1097.5,316.7L1098.5,319.2L1099.5,321.4L1100.5,324.2L1101.5,327.3L1102.4,330.1L1103.4,330.9L1104.4,334.7L1105.4,337.9L1106.4,337.8L1107.4,339.9L1108.4,340.7L1109.4,341.1L1110.4,338.9L1111.4,340.0L1112.4,339.7L1113.4,339.3L1114.4,338.5L1115.3,338.9L1116.3,340.5L1117.3,339.0L1118.3,340.4L1119.3,342.3L1120.3,342.5L1121.3,339.5L1122.3,339.5L1123.3,338.3L1124.3,336.8L1125.3,336.3L1126.3,334.9L1127.3,332.0L1128.3,331.8L1129.2,331.7L1130.2,329.2L1131.2,328.6L1132.2,326.8L1133.2,327.0L1134.2,326.9L1135.2,326.0L1136.2,325.7L1137.2,326.2L1138.2,326.0L1139.2,326.6L1140.2,327.5L1141.2,327.4L1142.1,329.0L1143.1,328.8L1144.1,328.9L1145.1,331.0L1146.1,333.2L1147.1,334.2L1148.1,334.5L1149.1,335.3L1150.1,335.4L1151.1,335.5L1152.1,335.7L1153.1,335.3L1154.1,335.6L1155.1,332.7L1156.0,333.5L1157.0,331.9L1158.0,331.6L1159.0,329.8L1160.0,329.4L1161.0,329.0L1162.0,327.7L1163.0,327.3L1164.0,326.9L1165.0,326.3L1166.0,327.4L1167.0,326.9L1168.0,327.1L1168.9,328.0L1169.9,327.6L1170.9,328.4L1171.9,329.0L1172.9,330.1L1173.9,330.6L1174.9,330.7L1175.9,332.1L1176.9,334.7L1177.9,337.0L1178.9,335.9L1179.9,337.3L1180.9,341.6L1181.9,341.3L1182.8,343.7L1183.8,347.0L1184.8,348.3L1185.8,349.1L1186.8,350.8L1187.8,351.2L1188.8,351.3L1189.8,350.3L1190.8,350.4L1191.8,350.1L1192.8,349.6L1193.8,349.3L1194.8,347.3L1195.7,347.8L1196.7,348.3L1197.7,347.1L1198.7,347.6L1199.7,345.6L1200.7,347.1L1201.7,344.2L1202.7,348.9L1203.7,343.9L1204.7,347.4L1205.7,345.2L1206.7,347.3L1207.7,349.2L1208.7,348.6L1209.6,349.2L1210.6,349.3L1211.6,348.4L1212.6,350.8L1213.6,349.7L1214.6,350.1L1215.6,351.1L1216.6,353.6L1217.6,352.0L1218.6,359.5L1219.6,353.4L1220.6,354.9L1221.6,356.5L1222.5,364.1L1223.5,357.5L1224.5,361.8L1225.5,361.5L1226.5,366.3L1227.5,365.7L1228.5,370.6L1229.5,376.1L1230.5,380.9L1231.5,373.4L1232.5,380.4L1233.5,373.0L1234.5,366.2L1235.5,375.8L1236.4,365.2L1237.4,363.4L1238.4,359.2L1239.4,357.0L1240.4,356.2L1241.4,355.8L1242.4,357.0L1243.4,356.0L1244.4,354.9L1245.4,355.8L1246.4,349.4L1247.4,350.8L1248.4,353.9L1249.3,352.0L1250.3,353.5L1251.3,354.0L1252.3,349.5L1253.3,356.8L1254.3,354.2L1255.3,357.6L1256.3,357.9L1257.3,356.6L1258.3,357.4L1259.3,357.2L1260.3,361.5L1261.3,360.2L1262.3,366.2L1263.2,367.9L1264.2,370.6L1265.2,376.2L1266.2,380.2L1267.2,370.0L1268.2,368.2L1269.2,379.9L1270.2,370.8L1271.2,376.1L1272.2,373.0L1273.2,369.2L1274.2,367.9L1275.2,365.6L1276.1,373.2L1277.1,367.9L1278.1,364.9L1279.1,367.2L1280.1,361.1L1281.1,366.5L1282.1,368.5L1283.1,359.8L1284.1,367.4L1285.1,363.2L1286.1,363.9L1287.1,362.1L1288.1,362.7L1289.1,365.8L1290.0,367.9L1291.0,367.3L1292.0,373.7L1293.0,366.4L1294.0,371.2L1295.0,373.2L1296.0,376.1" fill="none" stroke="#000" stroke-width="1.1" marker-start="url(#m)" marker-mid="url(#m)" marker-end="url(#m)"/><circle cx="797.7" cy="235.2" r="2.7" fill="#fff" stroke="#111" stroke-width="0.65"/></g>
<g clip-path="url(#cb)"><path d="M801.4,293.9L802.6,291.3L803.8,289.8L805.0,288.2L806.2,286.6L807.3,285.6L808.5,284.6L809.7,283.6L810.9,282.6L812.1,281.8L813.3,281.2L814.5,280.5L815.7,279.9L816.9,279.4L818.1,279.0L819.3,278.7L820.4,278.3L821.6,277.9L822.8,277.6L824.0,277.4L825.2,277.1L826.4,276.8L827.6,276.6L828.8,276.4L830.0,276.3L831.2,276.1L832.4,275.9L833.5,275.8L834.7,275.6L835.9,275.4L837.1,275.3L838.3,275.2L839.4,275.2L840.4,275.3L841.4,275.3L842.4,275.3L843.4,275.4L844.4,275.4L845.4,275.4L846.4,275.4L847.3,275.5L848.3,275.5L849.3,275.5L850.3,275.6L851.3,275.6L852.3,275.6L853.3,275.6L854.3,275.7L855.3,275.7L856.3,275.7L857.3,275.8L858.3,275.8L859.3,275.9L860.2,275.9L861.2,275.9L862.2,276.0L863.2,276.0L864.2,276.1L865.2,276.1L866.2,276.2L867.2,276.2L868.2,276.3L869.2,276.3L870.2,276.4L871.2,276.5L872.2,276.6L873.2,276.7L874.1,276.8L875.1,277.0L876.1,277.1L877.1,277.3L878.1,277.5L879.1,277.6L880.1,277.7L881.1,277.8L882.1,277.8L883.1,277.8L884.1,277.9L885.1,277.9L886.1,278.0L887.0,278.1L888.0,278.2L889.0,278.3L890.0,278.5L891.0,278.6L892.0,278.8L893.0,279.1L894.0,279.3L895.0,279.5L896.0,279.8L897.0,280.0L898.0,280.3L899.0,280.5L900.0,280.7L900.9,280.9L901.9,281.0L902.9,281.2L903.9,281.3L904.9,281.3L905.9,281.4L906.9,281.5L907.9,281.6L908.9,281.8L909.9,281.9L910.9,282.1L911.9,282.3L912.9,282.6L913.8,282.8L914.8,283.1L915.8,283.5L916.8,283.8L917.8,284.2L918.8,284.6L919.8,285.1L920.8,285.5L921.8,286.0L922.8,286.5L923.8,286.9L924.8,287.4L925.8,287.8L926.8,288.2L927.7,288.6L928.7,288.9L929.7,289.2L930.7,289.4L931.7,289.6L932.7,289.9L933.7,290.1L934.7,290.5L935.7,290.6L936.7,290.8L937.7,291.4L938.7,291.7L939.7,291.9L940.6,292.5L941.6,293.1L942.6,293.2L943.6,294.0L944.6,294.5L945.6,295.6L946.6,296.3L947.6,296.7L948.6,297.8L949.6,298.7L950.6,299.3L951.6,300.4L952.6,301.0L953.6,302.7L954.5,302.7L955.5,303.7L956.5,304.8L957.5,305.4L958.5,305.7L959.5,306.6L960.5,307.0L961.5,307.7L962.5,307.4L963.5,308.1L964.5,308.0L965.5,308.8L966.5,309.6L967.4,309.9L968.4,310.1L969.4,310.9L970.4,311.7L971.4,312.7L972.4,313.2L973.4,314.9L974.4,315.8L975.4,317.7L976.4,318.5L977.4,320.2L978.4,321.0L979.4,323.1L980.4,325.4L981.3,326.8L982.3,328.8L983.3,332.3L984.3,334.6L985.3,336.0L986.3,338.9L987.3,340.2L988.3,341.8L989.3,343.2L990.3,342.7L991.3,342.3L992.3,343.6L993.3,342.7L994.2,343.0L995.2,342.7L996.2,343.6L997.2,343.1L998.2,344.1L999.2,345.4L1000.2,347.6L1001.2,348.1L1002.2,350.9L1003.2,353.8L1004.2,356.6L1005.2,360.7L1006.2,364.7L1007.2,367.1L1008.1,366.1L1009.1,362.2L1010.1,357.8L1011.1,354.4L1012.1,350.9L1013.1,348.2L1014.1,345.5L1015.1,343.3L1016.1,341.2L1017.1,339.8L1018.1,339.5L1019.1,338.2L1020.1,336.8L1021.0,335.5L1022.0,336.2L1023.0,336.3L1024.0,336.0L1025.0,334.7L1026.0,335.3L1027.0,336.1L1028.0,335.6L1029.0,336.5L1030.0,337.2L1031.0,337.5L1032.0,338.2L1033.0,339.3L1034.0,340.3L1034.9,339.2L1035.9,341.0L1036.9,340.5L1037.9,341.0L1038.9,341.6L1039.9,341.7L1040.9,340.6L1041.9,340.4L1042.9,340.4L1043.9,339.4L1044.9,338.9L1045.9,338.5L1046.9,337.0L1047.9,337.0L1048.8,336.8L1049.8,335.3L1050.8,335.5L1051.8,336.5L1052.8,335.5L1053.8,335.3L1054.8,335.6L1055.8,335.8L1056.8,336.2L1057.8,335.7L1058.8,336.3L1059.8,337.2L1060.8,338.1L1061.7,337.7L1062.7,338.7L1063.7,339.9L1064.7,339.7L1065.7,341.2L1066.7,342.1L1067.7,342.3L1068.7,343.7L1069.7,344.3L1070.7,345.8L1071.7,346.4L1072.7,347.0L1073.7,346.6L1074.7,348.7L1075.6,349.0L1076.6,347.7L1077.6,347.1L1078.6,347.2L1079.6,348.0L1080.6,346.5L1081.6,346.9L1082.6,346.5L1083.6,346.6L1084.6,344.9L1085.6,346.0L1086.6,345.4L1087.6,345.8L1088.5,346.1L1089.5,347.3L1090.5,346.5L1091.5,347.3L1092.5,348.5L1093.5,348.4L1094.5,349.1L1095.5,350.1L1096.5,351.5L1097.5,351.7L1098.5,353.8L1099.5,355.4L1100.5,355.8L1101.5,357.5L1102.4,358.4L1103.4,360.4L1104.4,362.4L1105.4,364.3L1106.4,364.9L1107.4,367.4L1108.4,368.6L1109.4,369.3L1110.4,369.5L1111.4,370.7L1112.4,370.8L1113.4,370.4L1114.4,370.0L1115.3,369.2L1116.3,368.4L1117.3,369.9L1118.3,368.6L1119.3,367.6L1120.3,367.6L1121.3,367.0L1122.3,367.8L1123.3,367.3L1124.3,368.2L1125.3,369.2L1126.3,368.6L1127.3,369.7L1128.3,370.5L1129.2,371.5L1130.2,372.2L1131.2,372.7L1132.2,373.1L1133.2,375.4L1134.2,375.5L1135.2,376.5L1136.2,378.6L1137.2,379.8L1138.2,381.1L1139.2,383.7L1140.2,383.8L1141.2,384.1L1142.1,387.2L1143.1,386.8L1144.1,388.8L1145.1,390.2L1146.1,391.1L1147.1,392.3L1148.1,394.8L1149.1,396.4L1150.1,399.3L1151.1,400.0L1152.1,402.5L1153.1,407.3L1154.1,413.2L1155.1,415.9L1156.0,418.3L1157.0,415.8L1158.0,414.0L1159.0,407.9L1160.0,399.6L1161.0,395.9L1162.0,396.3L1163.0,392.2L1164.0,389.7L1165.0,387.8L1166.0,385.7L1167.0,383.9L1168.0,382.2L1168.9,381.5L1169.9,380.1L1170.9,379.7L1171.9,378.5L1172.9,378.5L1173.9,377.7L1174.9,376.6L1175.9,378.2L1176.9,377.5L1177.9,377.2L1178.9,377.5L1179.9,378.1L1180.9,378.2L1181.9,378.3L1182.8,379.0L1183.8,380.5L1184.8,380.9L1185.8,381.6L1186.8,383.4L1187.8,384.5L1188.8,385.0L1189.8,386.4L1190.8,388.4L1191.8,389.7L1192.8,391.3L1193.8,392.7L1194.8,392.3L1195.7,393.6L1196.7,391.4L1197.7,392.0L1198.7,391.2L1199.7,389.3L1200.7,388.8L1201.7,388.8L1202.7,386.9L1203.7,385.1L1204.7,384.4L1205.7,384.5L1206.7,384.0L1207.7,382.2L1208.7,382.7L1209.6,381.9L1210.6,381.3L1211.6,381.9L1212.6,382.0L1213.6,381.5L1214.6,381.8L1215.6,382.6L1216.6,382.5L1217.6,383.6L1218.6,383.3L1219.6,385.8L1220.6,384.8L1221.6,386.2L1222.5,388.5L1223.5,389.5L1224.5,391.4L1225.5,392.3L1226.5,392.7L1227.5,395.1L1228.5,397.2L1229.5,396.5L1230.5,399.5L1231.5,401.7L1232.5,402.1L1233.5,401.6L1234.5,403.8L1235.5,401.5L1236.4,400.6L1237.4,399.6L1238.4,400.3L1239.4,397.9L1240.4,397.0L1241.4,397.8L1242.4,396.0L1243.4,395.1L1244.4,394.7L1245.4,393.3L1246.4,393.5L1247.4,393.0L1248.4,394.2L1249.3,393.5L1250.3,394.4L1251.3,394.1L1252.3,394.9L1253.3,394.9L1254.3,394.0L1255.3,396.0L1256.3,396.2L1257.3,397.1L1258.3,400.3L1259.3,399.9L1260.3,401.5L1261.3,400.8L1262.3,404.5L1263.2,404.8L1264.2,406.2L1265.2,409.2L1266.2,409.7L1267.2,416.7L1268.2,418.5L1269.2,423.3L1270.2,420.6L1271.2,429.1L1272.2,424.8L1273.2,433.0L1274.2,425.0L1275.2,426.0L1276.1,427.9L1277.1,417.6L1278.1,421.2L1279.1,416.5L1280.1,414.4L1281.1,420.0L1282.1,409.0L1283.1,412.8L1284.1,411.5L1285.1,409.9L1286.1,409.4L1287.1,415.9L1288.1,410.1L1289.1,407.9L1290.0,409.3L1291.0,409.0L1292.0,408.8L1293.0,412.5L1294.0,410.0L1295.0,408.3L1296.0,410.9" fill="none" stroke="#000" stroke-width="1.1" marker-start="url(#m)" marker-mid="url(#m)" marker-end="url(#m)"/><circle cx="797.7" cy="280.9" r="2.7" fill="#fff" stroke="#111" stroke-width="0.65"/></g>
<g clip-path="url(#cb)"><path d="M801.4,338.6L802.6,336.0L803.8,334.4L805.0,332.8L806.2,331.3L807.3,330.2L808.5,329.2L809.7,328.2L810.9,327.2L812.1,326.4L813.3,325.8L814.5,325.1L815.7,324.5L816.9,324.0L818.1,323.6L819.3,323.3L820.4,322.9L821.6,322.5L822.8,322.3L824.0,322.0L825.2,321.7L826.4,321.4L827.6,321.2L828.8,321.0L830.0,320.9L831.2,320.7L832.4,320.5L833.5,320.4L834.7,320.2L835.9,320.1L837.1,319.9L838.3,319.9L839.4,319.9L840.4,319.9L841.4,320.0L842.4,320.0L843.4,320.1L844.4,320.1L845.4,320.1L846.4,320.2L847.3,320.2L848.3,320.3L849.3,320.3L850.3,320.4L851.3,320.4L852.3,320.5L853.3,320.5L854.3,320.6L855.3,320.7L856.3,320.7L857.3,320.8L858.3,320.9L859.3,321.0L860.2,321.1L861.2,321.2L862.2,321.3L863.2,321.4L864.2,321.5L865.2,321.7L866.2,321.9L867.2,322.1L868.2,322.3L869.2,322.6L870.2,322.9L871.2,323.3L872.2,323.8L873.2,324.4L874.1,325.2L875.1,326.1L876.1,327.2L877.1,328.3L878.1,329.4L879.1,330.3L880.1,330.8L881.1,330.9L882.1,330.7L883.1,330.5L884.1,330.3L885.1,330.2L886.1,330.2L887.0,330.4L888.0,330.8L889.0,331.2L890.0,331.8L891.0,332.5L892.0,333.3L893.0,334.3L894.0,335.4L895.0,336.5L896.0,337.7L897.0,338.9L898.0,340.1L899.0,341.2L900.0,342.1L900.9,342.9L901.9,343.3L902.9,343.5L903.9,343.5L904.9,343.4L905.9,343.1L906.9,342.9L907.9,342.7L908.9,342.5L909.9,342.4L910.9,342.4L911.9,342.5L912.9,342.7L913.8,343.0L914.8,343.4L915.8,343.9L916.8,344.5L917.8,345.2L918.8,346.1L919.8,347.0L920.8,348.0L921.8,349.1L922.8,350.3L923.8,351.5L924.8,352.8L925.8,354.2L926.8,355.5L927.7,356.7L928.7,357.8L929.7,358.8L930.7,359.5L931.7,360.0L932.7,360.2L933.7,360.2L934.7,360.1L935.7,359.7L936.7,359.4L937.7,359.0L938.7,358.7L939.7,358.1L940.6,358.2L941.6,357.8L942.6,357.7L943.6,358.0L944.6,357.9L945.6,358.1L946.6,358.5L947.6,358.7L948.6,359.0L949.6,359.8L950.6,360.9L951.6,361.7L952.6,362.6L953.6,363.7L954.5,364.8L955.5,366.1L956.5,367.3L957.5,368.5L958.5,370.2L959.5,371.9L960.5,373.5L961.5,375.7L962.5,376.9L963.5,378.0L964.5,379.0L965.5,380.3L966.5,380.0L967.4,380.3L968.4,379.7L969.4,379.4L970.4,378.3L971.4,377.8L972.4,376.7L973.4,377.0L974.4,376.0L975.4,376.8L976.4,375.5L977.4,376.3L978.4,375.6L979.4,374.9L980.4,375.1L981.3,375.5L982.3,375.9L983.3,375.7L984.3,377.1L985.3,378.7L986.3,379.3L987.3,379.8L988.3,381.0L989.3,381.6L990.3,383.2L991.3,385.3L992.3,387.8L993.3,390.2L994.2,392.1L995.2,394.3L996.2,397.0L997.2,399.4L998.2,404.7L999.2,406.6L1000.2,412.1L1001.2,413.7L1002.2,415.8L1003.2,415.3L1004.2,412.8L1005.2,410.2L1006.2,408.8L1007.2,405.5L1008.1,404.0L1009.1,402.2L1010.1,401.3L1011.1,400.1L1012.1,399.3L1013.1,398.8L1014.1,398.4L1015.1,396.6L1016.1,397.2L1017.1,397.9L1018.1,397.7L1019.1,397.8L1020.1,398.8L1021.0,397.7L1022.0,399.4L1023.0,399.8L1024.0,400.3L1025.0,401.5L1026.0,402.0L1027.0,403.9L1028.0,403.9L1029.0,405.2L1030.0,407.1L1031.0,408.6L1032.0,409.7L1033.0,409.8L1034.0,411.7L1034.9,413.3L1035.9,413.9L1036.9,415.8L1037.9,417.6L1038.9,417.9L1039.9,420.0L1040.9,422.4L1041.9,422.3L1042.9,423.6L1043.9,425.6L1044.9,425.2L1045.9,427.5L1046.9,426.7L1047.9,429.6L1048.8,430.8L1049.8,430.5L1050.8,430.4L1051.8,427.0L1052.8,426.8L1053.8,425.0L1054.8,425.1L1055.8,422.5L1056.8,422.1L1057.8,419.0L1058.8,418.7L1059.8,417.6L1060.8,415.0L1061.7,414.4L1062.7,414.3L1063.7,413.9L1064.7,413.6L1065.7,414.0L1066.7,411.7L1067.7,412.1L1068.7,413.0L1069.7,411.4L1070.7,412.2L1071.7,412.1L1072.7,411.7L1073.7,413.9L1074.7,413.5L1075.6,414.4L1076.6,414.8L1077.6,416.9L1078.6,417.7L1079.6,418.8L1080.6,419.5L1081.6,421.7L1082.6,422.6L1083.6,426.2L1084.6,428.5L1085.6,430.3L1086.6,434.3L1087.6,437.3L1088.5,439.1L1089.5,444.5L1090.5,449.5L1091.5,451.7L1092.5,444.8L1093.5,444.8L1094.5,441.5L1095.5,436.2L1096.5,431.1L1097.5,431.7L1098.5,430.2L1099.5,428.3L1100.5,424.1L1101.5,423.9L1102.4,423.1L1103.4,423.1L1104.4,421.6L1105.4,422.4L1106.4,419.6L1107.4,420.3L1108.4,420.5L1109.4,419.5L1110.4,423.1L1111.4,420.2L1112.4,421.3L1113.4,421.0L1114.4,420.7L1115.3,422.4L1116.3,422.1L1117.3,424.6L1118.3,423.6L1119.3,425.6L1120.3,428.6L1121.3,430.0L1122.3,432.9L1123.3,434.0L1124.3,435.7L1125.3,440.1L1126.3,439.4L1127.3,442.2L1128.3,445.3L1129.2,453.4L1130.2,448.1L1131.2,465.6L1132.2,452.9L1133.2,453.7L1134.2,456.0L1135.2,448.5L1136.2,448.8L1137.2,439.7L1138.2,442.6L1139.2,442.2L1140.2,435.9L1141.2,437.7L1142.1,435.3L1143.1,433.3L1144.1,436.5L1145.1,434.4L1146.1,430.8L1147.1,436.4L1148.1,430.5L1149.1,428.2L1150.1,428.6L1151.1,432.1L1152.1,431.5L1153.1,432.5L1154.1,433.0L1155.1,429.8L1156.0,431.8L1157.0,433.7L1158.0,434.6L1159.0,437.5L1160.0,436.6L1161.0,437.9L1162.0,441.9L1163.0,440.5L1164.0,444.8L1165.0,443.5L1166.0,439.2L1167.0,445.8L1168.0,447.0L1168.9,453.8L1169.9,446.1L1170.9,459.6L1171.9,455.5L1172.9,456.7L1173.9,465.2L1174.9,454.7L1175.9,452.0L1176.9,461.9L1177.9,448.2L1178.9,451.9L1179.9,452.8L1180.9,448.0L1181.9,446.2L1182.8,446.2L1183.8,445.1L1184.8,444.2L1185.8,443.0L1186.8,440.3L1187.8,446.2L1188.8,441.8L1189.8,440.2L1190.8,442.2L1191.8,444.2L1192.8,442.6L1193.8,443.2L1194.8,444.7L1195.7,443.8L1196.7,441.0L1197.7,442.7L1198.7,445.8L1199.7,447.1L1200.7,445.1L1201.7,450.0L1202.7,446.2L1203.7,445.1L1204.7,449.4L1205.7,451.6L1206.7,452.1L1207.7,449.7L1208.7,455.3L1209.6,453.6L1210.6,459.7L1211.6,475.8L1212.6,452.1L1213.6,455.7L1214.6,461.1L1215.6,458.0L1216.6,461.7L1217.6,457.4L1218.6,461.9L1219.6,461.9L1220.6,464.4L1221.6,448.7L1222.5,457.2L1223.5,455.7L1224.5,454.7L1225.5,455.8L1226.5,457.9L1227.5,457.6L1228.5,454.9L1229.5,449.2L1230.5,452.3L1231.5,454.5L1232.5,450.0L1233.5,452.8L1234.5,450.2L1235.5,451.5L1236.4,448.6L1237.4,459.6L1238.4,450.0L1239.4,452.9L1240.4,456.3L1241.4,452.4L1242.4,453.6L1243.4,455.6L1244.4,456.0L1245.4,456.0L1246.4,453.7L1247.4,464.8L1248.4,475.5L1249.3,468.5L1250.3,463.0L1251.3,459.6L1252.3,461.6L1253.3,464.6L1254.3,461.6L1255.3,476.0L1256.3,461.7L1257.3,475.8L1258.3,456.6L1259.3,476.2L1261.3,475.8L1263.2,461.5L1264.2,468.9L1265.2,468.1L1266.2,464.8L1267.2,475.8L1268.2,469.4L1269.2,461.4L1270.2,458.7L1271.2,465.4L1272.2,468.9L1273.2,476.4L1274.2,469.0L1275.2,464.2L1276.1,461.5L1278.1,464.6L1279.1,464.9L1280.1,475.9L1281.1,464.6L1282.1,468.6L1283.1,462.2L1284.1,469.1L1285.1,468.8L1286.1,457.2L1287.1,469.2L1289.1,464.6L1290.0,476.3L1291.0,476.4L1292.0,476.0L1293.0,475.7L1294.0,461.9L1295.0,476.1L1296.0,475.8" fill="none" stroke="#000" stroke-width="1.1" marker-start="url(#m)" marker-mid="url(#m)" marker-end="url(#m)"/><circle cx="797.7" cy="325.5" r="2.7" fill="#fff" stroke="#111" stroke-width="0.65"/></g>
<g clip-path="url(#cb)"><path d="M801.4,385.4L802.6,382.8L803.8,381.3L805.0,379.7L806.2,378.2L807.3,377.1L808.5,376.1L809.7,375.1L810.9,374.1L812.1,373.4L813.3,372.8L814.5,372.1L815.7,371.5L816.9,371.0L818.1,370.7L819.3,370.3L820.4,369.9L821.6,369.6L822.8,369.3L824.0,369.1L825.2,368.8L826.4,368.5L827.6,368.4L828.8,368.2L830.0,368.0L831.2,367.8L832.4,367.7L833.5,367.6L834.7,367.4L835.9,367.3L837.1,367.2L838.3,367.1L839.4,367.2L840.4,367.2L841.4,367.3L842.4,367.3L843.4,367.3L844.4,367.4L845.4,367.4L846.4,367.5L847.3,367.6L848.3,367.6L849.3,367.7L850.3,367.7L851.3,367.8L852.3,367.9L853.3,368.0L854.3,368.0L855.3,368.1L856.3,368.2L857.3,368.3L858.3,368.4L859.3,368.5L860.2,368.7L861.2,368.8L862.2,369.0L863.2,369.2L864.2,369.4L865.2,369.6L866.2,369.9L867.2,370.3L868.2,370.7L869.2,371.2L870.2,371.9L871.2,372.7L872.2,373.8L873.2,375.1L874.1,376.6L875.1,378.4L876.1,380.2L877.1,381.7L878.1,382.7L879.1,382.9L880.1,382.5L881.1,381.9L882.1,381.4L883.1,380.9L884.1,380.6L885.1,380.6L886.1,380.7L887.0,380.9L888.0,381.4L889.0,382.0L890.0,382.7L891.0,383.6L892.0,384.7L893.0,385.9L894.0,387.2L895.0,388.6L896.0,390.0L897.0,391.4L898.0,392.7L899.0,393.9L900.0,394.7L900.9,395.1L901.9,395.3L902.9,395.1L903.9,394.7L904.9,394.2L905.9,393.7L906.9,393.2L907.9,392.8L908.9,392.5L909.9,392.2L910.9,392.1L911.9,392.1L912.9,392.2L913.8,392.5L914.8,392.8L915.8,393.3L916.8,393.9L917.8,394.6L918.8,395.3L919.8,396.3L920.8,397.3L921.8,398.4L922.8,399.6L923.8,400.9L924.8,402.2L925.8,403.6L926.8,404.9L927.7,406.1L928.7,407.2L929.7,408.1L930.7,408.6L931.7,409.0L932.7,409.1L933.7,408.9L934.7,408.6L935.7,408.2L936.7,407.7L937.7,407.3L938.7,406.8L939.7,406.2L940.6,405.9L941.6,405.9L942.6,405.7L943.6,405.6L944.6,405.7L945.6,405.8L946.6,406.0L947.6,406.5L948.6,407.1L949.6,407.8L950.6,408.1L951.6,409.1L952.6,409.8L953.6,410.8L954.5,412.2L955.5,413.5L956.5,414.6L957.5,415.9L958.5,417.6L959.5,419.0L960.5,421.1L961.5,422.3L962.5,423.7L963.5,425.4L964.5,425.4L965.5,426.1L966.5,427.1L967.4,427.4L968.4,426.2L969.4,425.8L970.4,424.8L971.4,424.7L972.4,424.3L973.4,422.6L974.4,422.9L975.4,422.3L976.4,421.3L977.4,420.9L978.4,421.7L979.4,420.9L980.4,421.9L981.3,422.2L982.3,421.8L983.3,423.0L984.3,422.8L985.3,423.5L986.3,424.3L987.3,425.6L988.3,426.6L989.3,427.3L990.3,428.3L991.3,430.2L992.3,432.0L993.3,434.0L994.2,435.7L995.2,436.6L996.2,439.7L997.2,442.0L998.2,444.6L999.2,447.7L1000.2,450.2L1001.2,451.8L1002.2,451.8L1003.2,452.9L1004.2,451.8L1005.2,450.7L1006.2,448.6L1007.2,447.2L1008.1,446.4L1009.1,443.6L1010.1,443.1L1011.1,441.7L1012.1,442.3L1013.1,440.2L1014.1,440.5L1015.1,439.5L1016.1,438.7L1017.1,439.3L1018.1,440.3L1019.1,438.7L1020.1,440.0L1021.0,440.6L1022.0,441.8L1023.0,441.3L1024.0,442.8L1025.0,443.3L1026.0,445.3L1027.0,446.1L1028.0,447.8L1029.0,449.2L1030.0,450.5L1031.0,452.2L1032.0,453.8L1033.0,457.7L1034.0,459.9L1034.9,463.4L1035.9,466.0L1036.9,472.2L1037.9,477.1L1038.9,482.8L1039.9,489.8L1040.9,497.2L1041.9,488.4L1042.9,482.8L1043.9,478.0L1044.9,474.8L1045.9,470.5L1046.9,468.9L1047.9,467.0L1048.8,465.3L1049.8,461.8L1050.8,462.5L1051.8,461.0L1052.8,460.4L1053.8,460.7L1054.8,460.5L1055.8,459.3L1056.8,459.0L1057.8,458.2L1058.8,458.4L1059.8,459.4L1060.8,459.8L1061.7,460.0L1062.7,459.6L1063.7,460.2L1064.7,460.3L1065.7,461.5L1066.7,462.3L1067.7,461.9L1068.7,462.4L1069.7,463.4L1070.7,464.3L1071.7,465.7L1072.7,466.2L1073.7,466.6L1074.7,468.2L1075.6,469.9L1076.6,471.6L1077.6,471.6L1078.6,471.8L1079.6,473.5L1080.6,475.2L1081.6,475.9L1082.6,477.3L1083.6,477.8L1084.6,478.9L1085.6,481.4L1086.6,481.0L1087.6,481.3L1088.5,482.6L1089.5,482.8L1090.5,482.0L1091.5,480.6L1092.5,480.7L1093.5,480.4L1094.5,479.7L1095.5,478.1L1096.5,477.8L1097.5,475.5L1098.5,475.6L1099.5,474.5L1100.5,473.7L1101.5,473.4L1102.4,472.7L1103.4,472.2L1104.4,472.3L1105.4,471.8L1106.4,470.2L1107.4,470.6L1108.4,470.8L1109.4,471.0L1110.4,470.1L1111.4,471.7L1112.4,471.2L1113.4,471.6L1114.4,471.9L1115.3,471.9L1116.3,472.4L1117.3,473.7L1118.3,474.9L1119.3,475.1L1120.3,476.4L1121.3,477.3L1122.3,478.9L1123.3,480.6L1124.3,484.4L1125.3,486.0L1126.3,487.4L1127.3,486.6L1128.3,488.4L1129.2,489.7L1130.2,495.7L1131.2,495.9L1132.2,496.3L1133.2,496.3L1134.2,492.2L1135.2,494.2L1136.2,489.1L1137.2,489.8L1138.2,490.2L1139.2,487.3L1140.2,485.8L1141.2,482.2L1142.1,482.6L1143.1,482.4L1144.1,481.5L1145.1,481.2L1146.1,479.7L1147.1,479.3L1148.1,478.2L1149.1,479.2L1150.1,480.5L1151.1,481.4L1152.1,478.6L1153.1,479.8L1154.1,480.5L1155.1,480.1L1156.0,481.6L1157.0,481.0L1158.0,480.6L1159.0,483.1L1160.0,483.0L1161.0,486.2L1162.0,486.2L1163.0,487.4L1164.0,488.5L1165.0,489.8L1166.0,492.7L1167.0,494.1L1168.0,498.0L1168.9,501.4L1169.9,500.4L1170.9,503.1L1171.9,502.3L1172.9,499.9L1173.9,500.2L1174.9,498.3L1175.9,494.8L1176.9,503.6L1177.9,498.6L1178.9,498.0L1179.9,495.8L1180.9,496.1L1181.9,495.8L1182.8,492.6L1183.8,493.1L1184.8,490.5L1185.8,493.4L1186.8,490.4L1187.8,488.2L1188.8,488.9L1189.8,489.1L1190.8,492.0L1191.8,486.3L1192.8,487.3L1193.8,490.8L1194.8,490.3L1195.7,494.0L1196.7,490.3L1197.7,492.7L1198.7,489.9L1199.7,494.3L1200.7,490.5L1201.7,493.0L1202.7,493.3L1203.7,496.0L1204.7,499.6L1205.7,495.3L1206.7,496.7L1207.7,498.6L1208.7,501.6L1209.6,499.1L1210.6,506.1L1211.6,503.3L1212.6,505.4L1213.6,510.8L1214.6,503.9L1215.6,508.6L1216.6,511.0L1217.6,504.6L1218.6,504.3L1219.6,511.7L1220.6,504.3L1221.6,503.1L1222.5,504.9L1223.5,502.4L1224.5,498.8L1225.5,501.8L1226.5,499.2L1227.5,502.2L1228.5,500.7L1229.5,498.2L1230.5,500.2L1231.5,497.8L1232.5,501.3L1233.5,499.0L1234.5,502.5L1235.5,501.5L1236.4,500.7L1237.4,502.1L1238.4,501.1L1239.4,500.4L1240.4,502.2L1241.4,501.3L1242.4,507.1L1243.4,504.3L1244.4,508.6L1245.4,504.7L1246.4,505.3L1247.4,504.6L1248.4,504.9L1249.3,506.9L1250.3,512.7L1251.3,516.5L1252.3,508.3L1253.3,506.3L1254.3,509.3L1255.3,507.8L1256.3,512.6L1257.3,513.1L1258.3,508.0L1259.3,514.2L1260.3,514.2L1261.3,514.7L1262.3,506.1L1263.2,512.4L1264.2,505.0L1265.2,514.5L1266.2,509.3L1267.2,514.6L1268.2,513.9L1269.2,509.4L1270.2,516.5L1271.2,509.5L1272.2,503.6L1273.2,506.6L1274.2,511.5L1275.2,516.4L1276.1,508.7L1277.1,514.0L1278.1,506.7L1279.1,511.2L1280.1,509.8L1281.1,509.3L1282.1,506.9L1283.1,515.8L1284.1,512.2L1285.1,514.0L1286.1,509.6L1287.1,507.8L1288.1,509.3L1289.1,529.5L1290.0,515.6L1291.0,518.9L1292.0,512.5L1293.0,518.3L1294.0,519.5L1295.0,529.4" fill="none" stroke="#000" stroke-width="1.1" marker-start="url(#m)" marker-mid="url(#m)" marker-end="url(#m)"/><circle cx="797.7" cy="372.6" r="2.7" fill="#fff" stroke="#111" stroke-width="0.65"/></g>
<g clip-path="url(#cb)"><path d="M801.4,430.4L802.6,427.8L803.8,426.2L805.0,424.7L806.2,423.1L807.3,422.1L808.5,421.1L809.7,420.1L810.9,419.1L812.1,418.4L813.3,417.8L814.5,417.1L815.7,416.5L816.9,416.0L818.1,415.6L819.3,415.3L820.4,414.9L821.6,414.6L822.8,414.3L824.0,414.0L825.2,413.8L826.4,413.5L827.6,413.4L828.8,413.2L830.0,413.0L831.2,412.9L832.4,412.7L833.5,412.6L834.7,412.4L835.9,412.3L837.1,412.2L838.3,412.1L839.4,412.2L840.4,412.2L841.4,412.3L842.4,412.3L843.4,412.4L844.4,412.5L845.4,412.5L846.4,412.6L847.3,412.6L848.3,412.7L849.3,412.8L850.3,412.8L851.3,412.9L852.3,413.0L853.3,413.1L854.3,413.1L855.3,413.2L856.3,413.4L857.3,413.5L858.3,413.6L859.3,413.7L860.2,413.9L861.2,414.0L862.2,414.2L863.2,414.4L864.2,414.7L865.2,415.0L866.2,415.4L867.2,415.8L868.2,416.3L869.2,417.0L870.2,417.8L871.2,418.9L872.2,420.2L873.2,421.9L874.1,424.0L875.1,426.6L876.1,429.4L877.1,432.0L878.1,433.9L879.1,434.4L880.1,433.8L881.1,432.8L882.1,431.6L883.1,430.7L884.1,430.1L885.1,429.8L886.1,429.7L887.0,429.9L888.0,430.4L889.0,431.0L890.0,431.9L891.0,432.9L892.0,434.2L893.0,435.7L894.0,437.4L895.0,439.3L896.0,441.4L897.0,443.5L898.0,445.6L899.0,447.5L900.0,448.9L900.9,449.5L901.9,449.5L902.9,448.8L903.9,447.9L904.9,446.8L905.9,445.7L906.9,444.7L907.9,443.8L908.9,443.2L909.9,442.6L910.9,442.3L911.9,442.1L912.9,442.1L913.8,442.3L914.8,442.6L915.8,443.1L916.8,443.7L917.8,444.4L918.8,445.3L919.8,446.3L920.8,447.5L921.8,448.9L922.8,450.3L923.8,452.0L924.8,453.7L925.8,455.4L926.8,457.3L927.7,458.9L928.7,460.5L929.7,461.6L930.7,462.3L931.7,462.3L932.7,461.9L933.7,461.3L934.7,460.5L935.7,459.4L936.7,458.3L937.7,457.4L938.7,456.6L939.7,455.7L940.6,455.4L941.6,455.0L942.6,454.5L943.6,454.5L944.6,454.4L945.6,454.1L946.6,454.7L947.6,454.9L948.6,455.4L949.6,455.8L950.6,456.8L951.6,457.7L952.6,458.4L953.6,460.2L954.5,461.3L955.5,462.4L956.5,464.0L957.5,465.6L958.5,467.3L959.5,468.8L960.5,470.9L961.5,472.8L962.5,474.8L963.5,475.4L964.5,476.3L965.5,476.7L966.5,475.1L967.4,475.0L968.4,474.6L969.4,472.6L970.4,472.0L971.4,470.8L972.4,470.3L973.4,469.8L974.4,469.1L975.4,468.4L976.4,467.9L977.4,467.3L978.4,467.0L979.4,466.5L980.4,466.5L981.3,467.3L982.3,467.3L983.3,467.7L984.3,467.6L985.3,469.3L986.3,469.4L987.3,470.8L988.3,471.9L989.3,471.8L990.3,474.7L991.3,476.1L992.3,477.3L993.3,479.5L994.2,481.3L995.2,483.9L996.2,486.2L997.2,487.6L998.2,489.8L999.2,492.5L1000.2,493.2L1001.2,493.0L1002.2,493.5L1003.2,493.0L1004.2,490.4L1005.2,489.0L1006.2,487.6L1007.2,485.9L1008.1,484.6L1009.1,483.2L1010.1,483.0L1011.1,482.3L1012.1,481.2L1013.1,481.3L1014.1,480.9L1015.1,480.6L1016.1,479.9L1017.1,480.4L1018.1,480.8L1019.1,481.5L1020.1,481.2L1021.0,481.5L1022.0,482.2L1023.0,483.6L1024.0,484.5L1025.0,485.8L1026.0,486.3L1027.0,489.3L1028.0,490.1L1029.0,492.1L1030.0,493.4L1031.0,496.6L1032.0,498.4L1033.0,501.4L1034.0,506.3L1034.9,508.8L1035.9,513.2L1036.9,517.9L1037.9,519.8L1038.9,518.3L1039.9,516.1L1040.9,512.7L1041.9,509.2L1042.9,506.2L1043.9,503.2L1044.9,501.0L1045.9,499.9L1046.9,498.9L1047.9,497.1L1048.8,496.7L1049.8,495.8L1050.8,495.8L1051.8,495.2L1052.8,495.5L1053.8,494.1L1054.8,494.5L1055.8,495.1L1056.8,494.8L1057.8,496.2L1058.8,496.2L1059.8,496.2L1060.8,497.8L1061.7,498.1L1062.7,500.3L1063.7,501.0L1064.7,501.6L1065.7,504.3L1066.7,505.0L1067.7,507.2L1068.7,509.2L1069.7,513.0L1070.7,517.8L1071.7,518.3L1072.7,524.8L1073.7,530.3L1074.7,535.2L1075.6,540.0L1076.6,553.6L1077.6,547.1L1078.6,535.5L1079.6,531.0L1080.6,524.6L1081.6,524.0L1082.6,520.6L1083.6,517.8L1084.6,516.4L1085.6,514.7L1086.6,512.5L1087.6,512.3L1088.5,509.9L1089.5,509.9L1090.5,508.4L1091.5,509.0L1092.5,509.0L1093.5,509.3L1094.5,509.1L1095.5,509.9L1096.5,510.7L1097.5,510.3L1098.5,509.4L1099.5,510.7L1100.5,511.1L1101.5,513.0L1102.4,514.3L1103.4,515.1L1104.4,514.7L1105.4,517.1L1106.4,518.6L1107.4,518.9L1108.4,521.5L1109.4,523.8L1110.4,522.9L1111.4,526.2L1112.4,526.3L1113.4,531.2L1114.4,529.2L1115.3,533.8L1116.3,532.0L1117.3,533.4L1118.3,536.0L1119.3,530.0L1120.3,533.8L1121.3,532.7L1122.3,530.0L1123.3,528.2L1124.3,527.9L1125.3,527.7L1126.3,526.6L1127.3,527.7L1128.3,524.9L1129.2,524.4L1130.2,523.0L1131.2,523.1L1132.2,522.1L1133.2,523.1L1134.2,520.6L1135.2,522.2L1136.2,523.9L1137.2,524.1L1138.2,523.8L1139.2,524.2L1140.2,524.5L1141.2,523.7L1142.1,524.9L1143.1,524.5L1144.1,525.0L1145.1,527.7L1146.1,526.9L1147.1,527.5L1148.1,528.2L1149.1,527.8L1150.1,530.4L1151.1,531.8L1152.1,531.1L1153.1,535.4L1154.1,531.7L1155.1,532.9L1156.0,535.2L1157.0,538.6L1158.0,538.3L1159.0,537.6L1160.0,540.3L1161.0,540.6L1162.0,536.8L1163.0,543.3L1164.0,539.5L1165.0,537.9L1166.0,538.3L1167.0,539.2L1168.0,536.8L1168.9,539.4L1169.9,536.8L1170.9,539.9L1171.9,537.6L1172.9,534.8L1173.9,537.2L1174.9,533.6L1175.9,536.8L1176.9,532.6L1177.9,533.0L1178.9,533.6L1179.9,533.4L1180.9,530.4L1181.9,533.2L1182.8,533.4L1183.8,531.6L1184.8,534.4L1185.8,533.4L1186.8,536.6L1187.8,536.4L1188.8,535.1L1189.8,536.1L1190.8,542.6L1191.8,537.5L1192.8,539.3L1193.8,537.5L1194.8,543.4L1195.7,551.1L1196.7,542.0L1197.7,543.9L1198.7,542.3L1199.7,547.1L1200.7,543.6L1201.7,546.0L1202.7,546.3L1203.7,540.8L1204.7,549.2L1205.7,545.8L1206.7,546.6L1207.7,549.9L1208.7,548.2L1209.6,546.7L1210.6,549.3L1211.6,547.7L1212.6,543.6L1213.6,545.6L1214.6,550.9L1215.6,555.2L1216.6,544.9L1217.6,542.1L1218.6,544.7L1219.6,541.0L1220.6,539.1L1221.6,538.4L1222.5,540.5L1223.5,546.6L1224.5,541.9L1225.5,539.9L1226.5,545.0L1227.5,546.2L1228.5,546.3L1229.5,544.8L1230.5,545.4L1231.5,543.6L1232.5,551.7L1233.5,540.7L1234.5,546.5L1235.5,558.6L1236.4,545.8L1237.4,546.3L1238.4,562.4L1239.4,562.4L1240.4,549.4L1241.4,551.2L1242.4,552.4L1243.4,553.0L1244.4,555.3L1245.4,552.9L1246.4,552.7L1247.4,558.2L1248.4,553.1L1249.3,553.2L1250.3,550.5L1251.3,553.0L1252.3,546.4L1253.3,551.4L1254.3,550.2L1255.3,562.7L1256.3,551.2L1257.3,558.0L1258.3,554.2L1259.3,558.2L1260.3,558.2L1261.3,561.9L1262.3,552.0L1263.2,550.5L1264.2,550.8L1265.2,554.9L1266.2,555.4L1267.2,550.8L1268.2,553.4L1269.2,552.8L1270.2,558.0L1271.2,551.1L1272.2,553.6L1273.2,557.4L1274.2,559.1L1275.2,569.4L1276.1,549.7L1277.1,569.3L1278.1,558.9L1279.1,551.1L1280.1,562.3L1282.1,553.1L1283.1,555.4L1285.1,569.3L1286.1,569.2L1287.1,568.0L1288.1,561.6L1289.1,561.9L1290.0,568.9L1291.0,568.7L1292.0,555.0L1293.0,557.9L1294.0,557.7L1295.0,552.6L1296.0,568.5" fill="none" stroke="#000" stroke-width="1.1" marker-start="url(#m)" marker-mid="url(#m)" marker-end="url(#m)"/><circle cx="797.7" cy="417.6" r="2.7" fill="#fff" stroke="#111" stroke-width="0.65"/></g>
<g clip-path="url(#cb)"><path d="M801.4,476.1L802.6,473.4L803.8,471.9L805.0,470.3L806.2,468.8L807.3,467.7L808.5,466.7L809.7,465.7L810.9,464.7L812.1,463.9L813.3,463.3L814.5,462.6L815.7,462.0L816.9,461.5L818.1,461.1L819.3,460.7L820.4,460.4L821.6,460.0L822.8,459.7L824.0,459.5L825.2,459.2L826.4,458.9L827.6,458.7L828.8,458.5L830.0,458.4L831.2,458.2L832.4,458.0L833.5,457.9L834.7,457.7L835.9,457.6L837.1,457.4L838.3,457.4L839.4,457.4L840.4,457.4L841.4,457.5L842.4,457.5L843.4,457.6L844.4,457.6L845.4,457.7L846.4,457.7L847.3,457.7L848.3,457.8L849.3,457.9L850.3,457.9L851.3,458.0L852.3,458.0L853.3,458.1L854.3,458.2L855.3,458.3L856.3,458.4L857.3,458.5L858.3,458.6L859.3,458.7L860.2,458.9L861.2,459.1L862.2,459.2L863.2,459.5L864.2,459.7L865.2,460.0L866.2,460.4L867.2,460.8L868.2,461.3L869.2,462.0L870.2,462.7L871.2,463.7L872.2,464.8L873.2,466.2L874.1,467.9L875.1,470.0L876.1,472.5L877.1,475.5L878.1,479.0L879.1,482.9L880.1,486.8L881.1,489.6L882.1,490.3L883.1,489.3L884.1,487.4L885.1,485.5L886.1,484.0L887.0,482.8L888.0,482.0L889.0,481.4L890.0,481.1L891.0,481.1L892.0,481.3L893.0,481.6L894.0,482.2L895.0,482.9L896.0,483.8L897.0,484.9L898.0,486.2L899.0,487.6L900.0,489.3L900.9,491.2L901.9,493.4L902.9,495.9L903.9,498.8L904.9,502.0L905.9,505.6L906.9,509.6L907.9,513.4L908.9,516.2L909.9,516.3L910.9,514.4L911.9,511.5L912.9,508.8L913.8,506.4L914.8,504.4L915.8,502.8L916.8,501.5L917.8,500.4L918.8,499.6L919.8,499.0L920.8,498.6L921.8,498.4L922.8,498.3L923.8,498.4L924.8,498.6L925.8,498.9L926.8,499.4L927.7,500.1L928.7,500.8L929.7,501.7L930.7,502.8L931.7,504.0L932.7,505.4L933.7,506.9L934.7,508.7L935.7,510.6L936.7,513.0L937.7,515.6L938.7,518.7L939.7,522.2L940.6,526.3L941.6,531.5L942.6,537.5L943.6,541.9L944.6,541.4L945.6,537.2L946.6,532.7L947.6,528.5L948.6,524.7L949.6,522.7L950.6,520.5L951.6,519.1L952.6,517.8L953.6,516.7L954.5,515.3L955.5,515.2L956.5,514.8L957.5,514.7L958.5,514.2L959.5,513.6L960.5,514.4L961.5,514.7L962.5,514.3L963.5,515.1L964.5,515.2L965.5,517.0L966.5,517.7L967.4,518.3L968.4,518.3L969.4,520.7L970.4,521.8L971.4,523.6L972.4,525.9L973.4,527.0L974.4,530.7L975.4,532.5L976.4,536.2L977.4,539.5L978.4,545.2L979.4,550.7L980.4,557.9L981.3,566.8L982.3,562.3L983.3,553.4L984.3,547.6L985.3,543.1L986.3,539.8L987.3,538.2L988.3,536.0L989.3,534.2L990.3,532.2L991.3,531.3L992.3,530.0L993.3,530.0L994.2,529.5L995.2,528.7L996.2,528.7L997.2,529.2L998.2,527.7L999.2,529.3L1000.2,529.5L1001.2,530.0L1002.2,529.7L1003.2,530.2L1004.2,531.1L1005.2,532.1L1006.2,533.5L1007.2,534.4L1008.1,534.9L1009.1,536.8L1010.1,538.8L1011.1,540.6L1012.1,542.9L1013.1,544.9L1014.1,547.0L1015.1,550.6L1016.1,553.8L1017.1,556.7L1018.1,559.5L1019.1,562.1L1020.1,563.4L1021.0,562.9L1022.0,560.1L1023.0,556.8L1024.0,554.1L1025.0,552.4L1026.0,550.8L1027.0,548.6L1028.0,547.8L1029.0,547.3L1030.0,546.4L1031.0,544.0L1032.0,543.3L1033.0,544.2L1034.0,543.4L1034.9,542.8L1035.9,543.7L1036.9,541.9L1037.9,543.2L1038.9,544.1L1039.9,543.6L1040.9,544.5L1041.9,544.9L1042.9,545.7L1043.9,546.6L1044.9,548.4L1045.9,548.0L1046.9,549.8L1047.9,550.7L1048.8,552.6L1049.8,553.3L1050.8,555.8L1051.8,557.1L1052.8,558.4L1053.8,561.2L1054.8,562.5L1055.8,566.2L1056.8,566.5L1057.8,566.8L1058.8,566.9L1059.8,566.4L1060.8,566.8L1061.7,566.3L1062.7,564.1L1063.7,562.6L1064.7,561.9L1065.7,560.1L1066.7,559.4L1067.7,557.5L1068.7,558.2L1069.7,557.6L1070.7,556.5L1071.7,557.8L1072.7,557.0L1073.7,556.4L1074.7,555.8L1075.6,556.8L1076.6,555.9L1077.6,556.3L1078.6,557.4L1079.6,557.4L1080.6,559.5L1081.6,559.2L1082.6,559.4L1083.6,561.1L1084.6,561.2L1085.6,562.9L1086.6,565.7L1087.6,569.1L1088.5,569.0L1089.5,570.3L1090.5,570.7L1091.5,572.5L1092.5,573.3L1093.5,575.2L1094.5,577.0L1095.5,576.7L1096.5,576.2L1097.5,575.9L1098.5,575.2L1099.5,576.2L1100.5,576.7L1101.5,574.3L1102.4,575.8L1103.4,575.5L1104.4,575.5L1105.4,576.2L1106.4,577.2L1107.4,575.1L1108.4,574.0L1109.4,575.0L1110.4,574.1L1111.4,573.7L1112.4,572.1L1113.4,572.5L1114.4,572.6L1115.3,572.2L1116.3,573.2L1117.3,573.3L1118.3,571.4L1119.3,570.7L1120.3,572.2L1121.3,571.9L1122.3,571.3L1123.3,572.5L1124.3,573.4L1125.3,572.2L1126.3,574.3L1127.3,573.1L1128.3,574.0L1129.2,574.4L1130.2,577.1L1131.2,576.6L1132.2,576.8L1133.2,577.7L1134.2,577.7L1135.2,577.8L1136.2,579.9L1137.2,580.4L1138.2,580.0L1139.2,580.0L1140.2,578.4L1141.2,582.0L1142.1,585.4L1143.1,582.2L1144.1,582.9L1145.1,583.0L1146.1,581.1L1147.1,585.8L1148.1,584.5L1149.1,585.0L1150.1,582.1L1151.1,586.6L1152.1,582.2L1153.1,586.5L1154.1,584.2L1155.1,586.0L1156.0,586.4L1157.0,584.8L1158.0,583.4L1159.0,582.4L1160.0,582.9L1161.0,581.0L1162.0,585.9L1163.0,585.3L1164.0,583.0L1165.0,584.9L1166.0,582.6L1167.0,583.0L1168.0,583.5L1168.9,582.8L1169.9,585.6L1170.9,584.3L1171.9,585.2L1172.9,587.6L1173.9,583.9L1174.9,587.4L1175.9,588.4L1176.9,593.2L1177.9,587.9L1178.9,589.1L1179.9,589.4L1180.9,592.0L1181.9,590.7L1182.8,586.6L1183.8,588.9L1184.8,590.4L1185.8,590.0L1186.8,591.8L1187.8,596.9L1188.8,594.0L1189.8,592.7L1190.8,595.2L1191.8,596.3L1192.8,592.9L1193.8,593.7L1194.8,597.5L1195.7,589.9L1196.7,595.0L1197.7,591.4L1198.7,589.8L1199.7,596.1L1200.7,604.5L1201.7,604.3L1202.7,596.2L1203.7,597.2L1204.7,596.5L1205.7,590.8L1206.7,596.5L1207.7,593.4L1208.7,594.9L1209.6,592.0L1210.6,598.0L1211.6,590.5L1212.6,593.5L1213.6,598.1L1214.6,596.2L1215.6,596.3L1216.6,593.6L1217.6,594.4L1218.6,596.1L1219.6,594.8L1220.6,597.8L1221.6,599.7L1222.5,596.6L1223.5,593.7L1224.5,613.8L1225.5,601.7L1226.5,589.8L1227.5,595.3L1228.5,594.7L1229.5,600.1L1230.5,601.0L1231.5,596.6L1232.5,604.1L1233.5,601.6L1234.5,607.4L1235.5,604.8L1236.4,608.3L1237.4,599.2L1238.4,604.8L1239.4,601.4L1240.4,599.8L1241.4,599.3L1242.4,602.1L1244.4,607.6L1245.4,607.7L1246.4,604.3L1247.4,608.1L1248.4,600.0L1249.3,601.6L1250.3,601.5L1251.3,598.5L1252.3,598.5L1253.3,614.6L1254.3,607.5L1255.3,603.4L1256.3,603.7L1257.3,601.4L1258.3,613.5L1259.3,603.9L1260.3,604.2L1261.3,607.6L1262.3,603.8L1263.2,602.2L1264.2,609.2L1265.2,603.1L1266.2,607.4L1268.2,598.9L1269.2,613.7L1270.2,614.3L1271.2,598.8L1272.2,608.1L1273.2,614.5L1274.2,613.6L1275.2,613.8L1276.1,614.1L1277.1,608.0L1278.1,614.2L1279.1,603.7L1281.1,607.5L1282.1,607.6L1283.1,614.1L1284.1,613.9L1285.1,603.9L1286.1,607.2L1288.1,603.5L1289.1,601.7L1291.0,607.5L1292.0,607.7L1293.0,606.6L1295.0,613.8" fill="none" stroke="#000" stroke-width="1.1" marker-start="url(#m)" marker-mid="url(#m)" marker-end="url(#m)"/><circle cx="797.7" cy="463.0" r="2.7" fill="#fff" stroke="#111" stroke-width="0.65"/></g>
<path clip-path="url(#ca)" d="M82.5,100.6L82.5,86.1L83.5,86.1L84.5,86.2L85.5,86.2L86.5,86.2L87.5,86.2L88.4,86.2L89.4,86.2L90.4,86.3L91.4,86.3L92.4,86.3L93.4,86.3L94.4,86.3L95.4,86.4L96.4,86.4L97.4,86.4L98.4,86.4L99.4,86.5L100.3,86.5L101.3,86.5L102.3,86.5L103.3,86.5L104.3,86.6L105.3,86.6L106.3,86.6L107.3,86.6L108.3,86.6L109.3,86.7L110.3,86.7L111.3,86.7L112.3,86.7L113.2,86.8L114.2,86.8L115.2,86.8L116.2,86.8L117.2,86.9L118.2,86.9L119.2,86.9L120.2,86.9L121.2,87.0L122.2,87.0L123.2,87.0L124.2,87.0L125.1,87.1L126.1,87.1L127.1,87.1L128.1,87.1L129.1,87.2L130.1,87.2L131.1,87.2L132.1,87.3L133.1,87.3L134.1,87.3L135.1,87.3L136.1,87.4L137.1,87.4L138.0,87.4L139.0,87.5L140.0,87.5L141.0,87.5L142.0,87.6L143.0,87.6L144.0,87.7L145.0,87.7L146.0,87.7L147.0,87.8L148.0,87.8L149.0,87.9L149.9,87.9L150.9,87.9L151.9,88.0L152.9,88.0L153.9,88.1L154.9,88.1L155.9,88.2L156.9,88.2L157.9,88.3L158.9,88.3L159.9,88.4L160.9,88.5L161.9,88.5L162.8,88.6L163.8,88.6L164.8,88.7L165.8,88.8L166.8,88.9L167.8,88.9L168.8,89.0L169.8,89.1L170.8,89.2L171.8,89.3L172.8,89.3L173.8,89.4L174.7,89.5L175.7,89.6L176.7,89.8L177.7,89.9L178.7,90.0L179.7,90.1L180.7,90.3L181.7,90.4L182.7,90.5L183.7,90.7L184.7,90.9L185.7,91.1L186.7,91.3L187.6,91.5L188.6,91.7L189.6,92.0L190.6,92.3L191.6,92.6L192.6,93.0L193.6,93.4L194.6,93.8L195.6,94.3L196.6,94.9L197.6,95.5L198.6,96.2L199.5,97.0L200.5,97.8L201.5,98.8L202.5,99.7L203.5,100.8L204.5,101.9L205.5,103.0L206.5,104.1L207.5,105.2L208.5,106.2L209.5,107.3L210.5,108.3L211.5,109.4L212.4,110.4L213.4,111.4L214.4,112.4L215.4,113.4L216.4,114.2L217.4,115.1L218.4,115.9L219.4,116.8L220.4,117.7L221.4,118.7L222.4,119.7L223.4,120.6L224.3,121.3L225.3,121.9L226.3,122.4L227.3,123.1L228.3,124.0L229.3,125.1L230.3,126.2L231.3,127.3L232.3,128.1L233.3,128.6L234.3,128.8L235.3,129.0L236.3,129.4L237.2,130.1L238.2,131.2L239.2,132.6L240.2,134.1L241.2,135.3L242.2,136.1L243.2,136.2L244.2,136.0L245.2,135.7L246.2,135.7L247.2,136.2L248.2,137.2L249.1,138.8L250.1,140.8L251.1,142.8L252.1,144.3L253.1,144.7L254.1,144.1L255.1,143.1L256.1,142.3L257.1,141.9L258.1,142.2L259.1,143.2L260.1,145.1L261.1,147.6L262.0,150.6L263.0,153.3L264.0,154.3L265.0,153.2L266.0,151.2L267.0,149.2L268.0,148.0L269.0,147.5L270.0,148.0L271.0,149.4L272.0,151.9L273.0,155.4L273.9,159.9L274.9,164.2L275.9,165.1L276.9,162.2L277.9,158.4L278.9,155.4L279.9,153.5L280.9,152.7L281.9,152.9L282.9,154.2L283.9,156.6L284.9,160.4L285.9,165.9L286.8,173.1L287.8,177.8L288.8,173.3L289.8,166.8L290.8,162.2L291.8,159.2L292.8,157.6L293.8,157.1L294.8,157.7L295.8,159.3L296.8,162.2L297.8,166.6L298.7,173.1L299.7,181.6L300.7,184.3L301.7,176.9L302.7,170.2L303.7,165.7L304.7,162.9L305.7,161.3L306.7,160.9L307.7,161.4L308.7,163.0L309.7,165.6L310.7,169.4L311.6,174.5L312.6,180.0L313.6,181.7L314.6,177.7L315.6,172.8L316.6,168.9L317.6,166.3L318.6,164.7L319.6,164.1L320.6,164.4L321.6,165.5L322.6,167.4L323.5,170.1L324.5,173.4L325.5,176.7L326.5,178.3L327.5,177.2L328.5,174.5L329.5,171.6L330.5,169.3L331.5,167.8L332.5,167.0L333.5,166.9L334.5,167.4L335.5,168.6L336.4,170.3L337.4,172.4L338.4,174.5L339.4,176.0L340.4,176.3L341.4,175.3L342.4,173.6L343.4,171.9L344.4,170.5L345.4,169.6L346.4,169.1L347.4,169.2L348.3,169.8L349.3,170.8L350.3,172.1L351.3,173.5L352.3,174.7L353.3,175.4L354.3,175.4L355.3,174.8L356.3,173.8L357.3,172.7L358.3,171.9L359.3,171.3L360.3,171.1L361.2,171.2L362.2,171.7L363.2,172.4L364.2,173.3L365.2,174.2L366.2,175.0L367.2,175.4L368.2,175.4L369.2,175.0L370.2,174.5L371.2,173.8L372.2,173.3L373.1,172.9L374.1,172.8L375.1,172.9L376.1,173.3L377.1,173.8L378.1,174.4L379.1,175.0L380.1,175.5L381.1,175.8L382.1,175.8L383.1,175.7L384.1,175.3L385.1,175.0L386.0,174.7L387.0,174.5L388.0,174.4L389.0,174.5L390.0,174.7L391.0,175.1L392.0,175.5L393.0,175.9L394.0,176.2L395.0,176.4L396.0,176.5L397.0,176.5L397.9,176.3L398.9,176.2L399.9,176.0L400.9,175.9L401.9,175.8L402.9,175.9L403.9,176.1L404.9,176.3L405.9,176.6L406.9,176.9L407.9,177.1L408.9,177.3L409.9,177.4L410.8,177.5L411.8,177.4L412.8,177.3L413.8,177.3L414.8,177.2L415.8,177.2L416.8,177.3L417.8,177.4L418.8,177.5L419.8,177.7L420.8,177.9L421.8,178.1L422.7,178.3L423.7,178.4L424.7,178.5L425.7,178.5L426.7,178.5L427.7,178.5L428.7,178.5L429.7,178.5L430.7,178.6L431.7,178.7L432.7,178.8L433.7,178.9L434.7,179.1L435.6,179.3L436.6,179.4L437.6,179.5L438.6,179.6L439.6,179.7L440.6,179.7L441.6,179.7L442.6,179.8L443.6,179.8L444.6,179.9L445.6,180.0L446.6,180.1L447.5,180.2L448.5,180.3L449.5,180.4L450.5,180.5L451.5,180.6L452.5,180.7L453.5,180.8L454.5,180.9L455.5,181.0L456.5,181.0L457.5,181.1L458.5,181.1L459.5,181.2L460.4,181.3L461.4,181.4L462.4,181.5L463.4,181.6L464.4,181.7L465.4,181.8L466.4,181.9L467.4,182.0L468.4,182.1L469.4,182.2L470.4,182.2L471.4,182.3L472.3,182.4L473.3,182.5L474.3,182.5L475.3,182.6L476.3,182.7L477.3,182.8L478.3,182.9L479.3,183.0L480.3,183.1L481.3,183.2L482.3,183.3L483.3,183.4L484.3,183.5L485.2,183.5L486.2,183.6L487.2,183.7L488.2,183.8L489.2,183.9L490.2,184.0L491.2,184.0L492.2,184.1L493.2,184.2L494.2,184.3L495.2,184.4L496.2,184.5L497.1,184.6L498.1,184.7L499.1,184.8L500.1,184.8L501.1,184.9L502.1,185.0L503.1,185.1L504.1,185.2L505.1,185.3L506.1,185.4L507.1,185.5L508.1,185.6L509.1,185.6L510.0,185.7L511.0,185.8L512.0,185.9L513.0,186.0L514.0,186.1L515.0,186.2L516.0,186.3L517.0,186.3L518.0,186.4L519.0,186.5L520.0,186.6L521.0,186.7L521.9,186.8L522.9,186.9L523.9,187.0L524.9,187.1L525.9,187.2L526.9,187.2L527.9,187.3L528.9,187.4L529.9,187.5L530.9,187.6L531.9,187.7L532.9,187.8L533.9,187.9L534.8,188.0L535.8,188.1L536.8,188.1L537.8,188.2L538.8,188.3L539.8,188.4L540.8,188.5L541.8,188.6L542.8,188.7L543.8,188.8L544.8,188.9L545.8,189.0L546.7,189.1L547.7,189.2L548.7,189.2L549.7,189.3L550.7,189.4L551.7,189.5L552.7,189.6L553.7,189.7L554.7,189.8L555.7,189.9L556.7,190.0L557.7,190.1L558.7,190.2L559.6,190.3L560.6,190.4L561.6,190.5L562.6,190.5L563.6,190.6L564.6,190.7L565.6,190.8L566.6,190.9L567.6,191.0L568.6,191.1L569.6,191.2L570.6,191.3L571.5,191.4L572.5,191.5L573.5,191.6L574.5,191.7L575.5,191.8L576.5,191.9L577.5,192.0" fill="none" stroke="#f00" stroke-width="3.2" stroke-linejoin="round"/>
<path clip-path="url(#ca)" d="M82.5,155.4L82.5,141.0L83.5,141.0L84.5,141.0L85.5,141.0L86.5,141.0L87.5,141.1L88.4,141.1L89.4,141.1L90.4,141.1L91.4,141.1L92.4,141.1L93.4,141.2L94.4,141.2L95.4,141.2L96.4,141.2L97.4,141.2L98.4,141.3L99.4,141.3L100.3,141.3L101.3,141.3L102.3,141.3L103.3,141.3L104.3,141.4L105.3,141.4L106.3,141.4L107.3,141.4L108.3,141.4L109.3,141.5L110.3,141.5L111.3,141.5L112.3,141.5L113.2,141.5L114.2,141.6L115.2,141.6L116.2,141.6L117.2,141.6L118.2,141.6L119.2,141.7L120.2,141.7L121.2,141.7L122.2,141.7L123.2,141.8L124.2,141.8L125.1,141.8L126.1,141.8L127.1,141.9L128.1,141.9L129.1,141.9L130.1,141.9L131.1,142.0L132.1,142.0L133.1,142.0L134.1,142.0L135.1,142.1L136.1,142.1L137.1,142.1L138.0,142.2L139.0,142.2L140.0,142.2L141.0,142.3L142.0,142.3L143.0,142.3L144.0,142.4L145.0,142.4L146.0,142.4L147.0,142.5L148.0,142.5L149.0,142.5L149.9,142.6L150.9,142.6L151.9,142.7L152.9,142.7L153.9,142.8L154.9,142.8L155.9,142.8L156.9,142.9L157.9,142.9L158.9,143.0L159.9,143.0L160.9,143.1L161.9,143.2L162.8,143.2L163.8,143.3L164.8,143.3L165.8,143.4L166.8,143.5L167.8,143.5L168.8,143.6L169.8,143.7L170.8,143.8L171.8,143.9L172.8,143.9L173.8,144.0L174.7,144.1L175.7,144.2L176.7,144.3L177.7,144.5L178.7,144.6L179.7,144.7L180.7,144.8L181.7,145.0L182.7,145.1L183.7,145.3L184.7,145.5L185.7,145.7L186.7,145.9L187.6,146.1L188.6,146.3L189.6,146.6L190.6,146.9L191.6,147.3L192.6,147.6L193.6,148.0L194.6,148.5L195.6,149.0L196.6,149.6L197.6,150.3L198.6,151.1L199.5,151.9L200.5,152.8L201.5,153.7L202.5,154.6L203.5,155.5L204.5,156.4L205.5,157.4L206.5,158.4L207.5,159.4L208.5,160.6L209.5,161.7L210.5,162.9L211.5,163.9L212.4,164.8L213.4,165.4L214.4,165.8L215.4,166.1L216.4,166.4L217.4,166.8L218.4,167.4L219.4,168.1L220.4,169.1L221.4,170.4L222.4,171.8L223.4,173.4L224.3,175.0L225.3,176.4L226.3,177.4L227.3,177.9L228.3,177.8L229.3,177.4L230.3,176.9L231.3,176.4L232.3,176.0L233.3,175.8L234.3,175.9L235.3,176.4L236.3,177.1L237.2,178.2L238.2,179.6L239.2,181.4L240.2,183.5L241.2,185.8L242.2,188.2L243.2,190.4L244.2,191.8L245.2,192.2L246.2,191.5L247.2,190.1L248.2,188.5L249.1,187.0L250.1,185.7L251.1,184.8L252.1,184.2L253.1,184.0L254.1,184.1L255.1,184.5L256.1,185.4L257.1,186.6L258.1,188.1L259.1,190.2L260.1,192.7L261.1,195.7L262.0,199.3L263.0,203.2L264.0,206.9L265.0,208.9L266.0,208.0L267.0,205.2L268.0,201.9L269.0,199.0L270.0,196.5L271.0,194.6L272.0,193.2L273.0,192.2L273.9,191.6L274.9,191.3L275.9,191.5L276.9,191.9L277.9,192.8L278.9,194.0L279.9,195.6L280.9,197.6L281.9,200.3L282.9,203.6L283.9,207.7L284.9,213.1L285.9,220.0L286.8,227.5L287.8,228.8L288.8,222.3L289.8,215.7L290.8,210.7L291.8,206.9L292.8,204.0L293.8,201.9L294.8,200.3L295.8,199.1L296.8,198.4L297.8,198.0L298.7,198.0L299.7,198.3L300.7,199.0L301.7,200.0L302.7,201.3L303.7,203.1L304.7,205.3L305.7,208.0L306.7,211.5L307.7,215.9L308.7,221.6L309.7,228.8L310.7,236.1L311.6,235.4L312.6,228.2L313.6,221.8L314.6,216.9L315.6,213.2L316.6,210.4L317.6,208.3L318.6,206.6L319.6,205.4L320.6,204.6L321.6,204.2L322.6,204.0L323.5,204.2L324.5,204.6L325.5,205.4L326.5,206.4L327.5,207.8L328.5,209.6L329.5,211.7L330.5,214.3L331.5,217.4L332.5,220.9L333.5,224.9L334.5,228.6L335.5,230.5L336.4,229.6L337.4,226.7L338.4,223.2L339.4,220.0L340.4,217.3L341.4,215.0L342.4,213.3L343.4,211.9L344.4,210.8L345.4,210.1L346.4,209.7L347.4,209.5L348.3,209.6L349.3,210.0L350.3,210.6L351.3,211.5L352.3,212.6L353.3,214.0L354.3,215.7L355.3,217.6L356.3,219.7L357.3,222.1L358.3,224.4L359.3,226.3L360.3,227.6L361.2,227.7L362.2,226.8L363.2,225.2L364.2,223.3L365.2,221.4L366.2,219.7L367.2,218.3L368.2,217.0L369.2,216.1L370.2,215.4L371.2,214.9L372.2,214.6L373.1,214.6L374.1,214.8L375.1,215.1L376.1,215.7L377.1,216.5L378.1,217.5L379.1,218.6L380.1,219.9L381.1,221.4L382.1,222.9L383.1,224.3L384.1,225.7L385.1,226.7L386.0,227.2L387.0,227.2L388.0,226.8L389.0,226.0L390.0,224.9L391.0,223.8L392.0,222.7L393.0,221.8L394.0,220.9L395.0,220.2L396.0,219.7L397.0,219.4L397.9,219.2L398.9,219.2L399.9,219.3L400.9,219.6L401.9,220.1L402.9,220.7L403.9,221.4L404.9,222.3L405.9,223.2L406.9,224.2L407.9,225.2L408.9,226.1L409.9,226.9L410.8,227.5L411.8,227.9L412.8,228.0L413.8,227.9L414.8,227.5L415.8,227.0L416.8,226.4L417.8,225.7L418.8,225.1L419.8,224.6L420.8,224.1L421.8,223.7L422.7,223.5L423.7,223.3L424.7,223.3L425.7,223.4L426.7,223.6L427.7,223.9L428.7,224.3L429.7,224.8L430.7,225.4L431.7,226.0L432.7,226.7L433.7,227.3L434.7,228.0L435.6,228.5L436.6,228.9L437.6,229.2L438.6,229.4L439.6,229.4L440.6,229.3L441.6,229.1L442.6,228.8L443.6,228.5L444.6,228.2L445.6,227.8L446.6,227.6L447.5,227.3L448.5,227.1L449.5,227.0L450.5,227.0L451.5,227.1L452.5,227.2L453.5,227.4L454.5,227.6L455.5,228.0L456.5,228.3L457.5,228.8L458.5,229.2L459.5,229.6L460.4,230.0L461.4,230.4L462.4,230.7L463.4,231.0L464.4,231.2L465.4,231.3L466.4,231.3L467.4,231.3L468.4,231.2L469.4,231.1L470.4,230.9L471.4,230.8L472.3,230.6L473.3,230.5L474.3,230.4L475.3,230.3L476.3,230.3L477.3,230.3L478.3,230.4L479.3,230.5L480.3,230.7L481.3,230.9L482.3,231.1L483.3,231.4L484.3,231.7L485.2,232.0L486.2,232.3L487.2,232.5L488.2,232.8L489.2,233.0L490.2,233.2L491.2,233.3L492.2,233.4L493.2,233.5L494.2,233.5L495.2,233.5L496.2,233.4L497.1,233.4L498.1,233.4L499.1,233.3L500.1,233.3L501.1,233.3L502.1,233.3L503.1,233.3L504.1,233.4L505.1,233.4L506.1,233.5L507.1,233.7L508.1,233.8L509.1,234.0L510.0,234.2L511.0,234.4L512.0,234.6L513.0,234.8L514.0,235.0L515.0,235.1L516.0,235.3L517.0,235.4L518.0,235.6L519.0,235.6L520.0,235.7L521.0,235.8L521.9,235.8L522.9,235.9L523.9,235.9L524.9,235.9L525.9,235.9L526.9,235.9L527.9,236.0L528.9,236.0L529.9,236.1L530.9,236.1L531.9,236.2L532.9,236.3L533.9,236.4L534.8,236.6L535.8,236.7L536.8,236.8L537.8,237.0L538.8,237.1L539.8,237.3L540.8,237.4L541.8,237.5L542.8,237.7L543.8,237.8L544.8,237.9L545.8,238.0L546.7,238.1L547.7,238.1L548.7,238.2L549.7,238.3L550.7,238.3L551.7,238.4L552.7,238.4L553.7,238.5L554.7,238.6L555.7,238.6L556.7,238.7L557.7,238.8L558.7,238.9L559.6,239.0L560.6,239.0L561.6,239.2L562.6,239.3L563.6,239.4L564.6,239.5L565.6,239.6L566.6,239.7L567.6,239.8L568.6,240.0L569.6,240.1L570.6,240.2L571.5,240.3L572.5,240.4L573.5,240.5L574.5,240.6L575.5,240.6L576.5,240.7L577.5,240.8" fill="none" stroke="#f00" stroke-width="3.2" stroke-linejoin="round"/>
<path clip-path="url(#ca)" d="M82.5,204.4L82.5,190.0L83.5,190.0L84.5,190.0L85.5,190.0L86.5,190.0L87.5,190.0L88.4,190.1L89.4,190.1L90.4,190.1L91.4,190.1L92.4,190.1L93.4,190.2L94.4,190.2L95.4,190.2L96.4,190.2L97.4,190.2L98.4,190.2L99.4,190.3L100.3,190.3L101.3,190.3L102.3,190.3L103.3,190.3L104.3,190.4L105.3,190.4L106.3,190.4L107.3,190.4L108.3,190.4L109.3,190.5L110.3,190.5L111.3,190.5L112.3,190.5L113.2,190.5L114.2,190.6L115.2,190.6L116.2,190.6L117.2,190.6L118.2,190.7L119.2,190.7L120.2,190.7L121.2,190.7L122.2,190.8L123.2,190.8L124.2,190.8L125.1,190.8L126.1,190.9L127.1,190.9L128.1,190.9L129.1,191.0L130.1,191.0L131.1,191.0L132.1,191.0L133.1,191.1L134.1,191.1L135.1,191.1L136.1,191.2L137.1,191.2L138.0,191.2L139.0,191.3L140.0,191.3L141.0,191.4L142.0,191.4L143.0,191.4L144.0,191.5L145.0,191.5L146.0,191.6L147.0,191.6L148.0,191.7L149.0,191.7L149.9,191.7L150.9,191.8L151.9,191.8L152.9,191.9L153.9,191.9L154.9,192.0L155.9,192.1L156.9,192.1L157.9,192.2L158.9,192.2L159.9,192.3L160.9,192.4L161.9,192.4L162.8,192.5L163.8,192.6L164.8,192.7L165.8,192.7L166.8,192.8L167.8,192.9L168.8,193.0L169.8,193.1L170.8,193.2L171.8,193.3L172.8,193.4L173.8,193.5L174.7,193.6L175.7,193.7L176.7,193.8L177.7,193.9L178.7,194.1L179.7,194.2L180.7,194.4L181.7,194.5L182.7,194.7L183.7,194.9L184.7,195.1L185.7,195.3L186.7,195.5L187.6,195.7L188.6,196.0L189.6,196.3L190.6,196.5L191.6,196.9L192.6,197.2L193.6,197.6L194.6,198.0L195.6,198.5L196.6,199.0L197.6,199.5L198.6,200.1L199.5,200.8L200.5,201.6L201.5,202.4L202.5,203.4L203.5,204.5L204.5,205.7L205.5,207.0L206.5,208.5L207.5,210.2L208.5,212.1L209.5,214.1L210.5,216.4L211.5,218.8L212.4,221.3L213.4,223.8L214.4,225.9L215.4,227.5L216.4,228.4L217.4,228.4L218.4,227.8L219.4,226.8L220.4,225.7L221.4,224.7L222.4,223.7L223.4,222.9L224.3,222.3L225.3,221.8L226.3,221.5L227.3,221.3L228.3,221.3L229.3,221.4L230.3,221.7L231.3,222.0L232.3,222.5L233.3,223.1L234.3,223.8L235.3,224.6L236.3,225.5L237.2,226.6L238.2,227.8L239.2,229.1L240.2,230.6L241.2,232.2L242.2,234.0L243.2,236.0L244.2,238.2L245.2,240.7L246.2,243.5L247.2,246.7L248.2,250.3L249.1,254.3L250.1,258.8L251.1,263.2L252.1,266.4L253.1,266.6L254.1,264.0L255.1,260.4L256.1,256.9L257.1,253.8L258.1,251.2L259.1,248.9L260.1,247.1L261.1,245.5L262.0,244.1L263.0,243.0L264.0,242.0L265.0,241.2L266.0,240.6L267.0,240.1L268.0,239.6L269.0,239.3L270.0,239.1L271.0,239.0L272.0,239.0L273.0,239.0L273.9,239.1L274.9,239.3L275.9,239.6L276.9,239.9L277.9,240.3L278.9,240.8L279.9,241.3L280.9,241.8L281.9,242.5L282.9,243.1L283.9,243.9L284.9,244.7L285.9,245.5L286.8,246.4L287.8,247.3L288.8,248.2L289.8,249.2L290.8,250.2L291.8,251.2L292.8,252.1L293.8,253.1L294.8,253.9L295.8,254.7L296.8,255.5L297.8,256.0L298.7,256.5L299.7,256.8L300.7,257.0L301.7,257.1L302.7,257.0L303.7,256.9L304.7,256.6L305.7,256.3L306.7,256.0L307.7,255.6L308.7,255.3L309.7,254.9L310.7,254.5L311.6,254.2L312.6,253.9L313.6,253.6L314.6,253.4L315.6,253.2L316.6,253.0L317.6,252.9L318.6,252.8L319.6,252.8L320.6,252.8L321.6,252.8L322.6,252.8L323.5,252.9L324.5,253.1L325.5,253.2L326.5,253.4L327.5,253.6L328.5,253.8L329.5,254.1L330.5,254.4L331.5,254.7L332.5,255.0L333.5,255.4L334.5,255.7L335.5,256.1L336.4,256.5L337.4,256.9L338.4,257.3L339.4,257.6L340.4,258.0L341.4,258.4L342.4,258.8L343.4,259.1L344.4,259.5L345.4,259.8L346.4,260.1L347.4,260.4L348.3,260.7L349.3,260.9L350.3,261.1L351.3,261.3L352.3,261.5L353.3,261.7L354.3,261.8L355.3,261.9L356.3,262.0L357.3,262.1L358.3,262.2L359.3,262.2L360.3,262.3L361.2,262.3L362.2,262.4L363.2,262.4L364.2,262.5L365.2,262.5L366.2,262.5L367.2,262.6L368.2,262.6L369.2,262.7L370.2,262.8L371.2,262.8L372.2,262.9L373.1,263.0L374.1,263.1L375.1,263.2L376.1,263.3L377.1,263.5L378.1,263.6L379.1,263.7L380.1,263.9L381.1,264.1L382.1,264.2L383.1,264.4L384.1,264.6L385.1,264.7L386.0,264.9L387.0,265.1L388.0,265.3L389.0,265.5L390.0,265.7L391.0,265.9L392.0,266.0L393.0,266.2L394.0,266.4L395.0,266.6L396.0,266.8L397.0,267.0L397.9,267.2L398.9,267.3L399.9,267.5L400.9,267.7L401.9,267.8L402.9,268.0L403.9,268.2L404.9,268.3L405.9,268.5L406.9,268.6L407.9,268.7L408.9,268.9L409.9,269.0L410.8,269.1L411.8,269.3L412.8,269.4L413.8,269.5L414.8,269.6L415.8,269.8L416.8,269.9L417.8,270.0L418.8,270.1L419.8,270.2L420.8,270.4L421.8,270.5L422.7,270.6L423.7,270.7L424.7,270.8L425.7,271.0L426.7,271.1L427.7,271.2L428.7,271.3L429.7,271.5L430.7,271.6L431.7,271.7L432.7,271.8L433.7,272.0L434.7,272.1L435.6,272.2L436.6,272.3L437.6,272.5L438.6,272.6L439.6,272.7L440.6,272.9L441.6,273.0L442.6,273.1L443.6,273.3L444.6,273.4L445.6,273.5L446.6,273.7L447.5,273.8L448.5,273.9L449.5,274.1L450.5,274.2L451.5,274.3L452.5,274.5L453.5,274.6L454.5,274.7L455.5,274.9L456.5,275.0L457.5,275.1L458.5,275.3L459.5,275.4L460.4,275.5L461.4,275.6L462.4,275.8L463.4,275.9L464.4,276.0L465.4,276.1L466.4,276.3L467.4,276.4L468.4,276.5L469.4,276.6L470.4,276.8L471.4,276.9L472.3,277.0L473.3,277.1L474.3,277.2L475.3,277.4L476.3,277.5L477.3,277.6L478.3,277.7L479.3,277.8L480.3,278.0L481.3,278.1L482.3,278.2L483.3,278.3L484.3,278.4L485.2,278.5L486.2,278.7L487.2,278.8L488.2,278.9L489.2,279.0L490.2,279.1L491.2,279.3L492.2,279.4L493.2,279.5L494.2,279.6L495.2,279.7L496.2,279.8L497.1,280.0L498.1,280.1L499.1,280.2L500.1,280.3L501.1,280.4L502.1,280.5L503.1,280.7L504.1,280.8L505.1,280.9L506.1,281.0L507.1,281.1L508.1,281.3L509.1,281.4L510.0,281.5L511.0,281.6L512.0,281.7L513.0,281.8L514.0,282.0L515.0,282.1L516.0,282.2L517.0,282.3L518.0,282.4L519.0,282.5L520.0,282.6L521.0,282.8L521.9,282.9L522.9,283.0L523.9,283.1L524.9,283.2L525.9,283.3L526.9,283.4L527.9,283.6L528.9,283.7L529.9,283.8L530.9,283.9L531.9,284.0L532.9,284.1L533.9,284.2L534.8,284.4L535.8,284.5L536.8,284.6L537.8,284.7L538.8,284.8L539.8,284.9L540.8,285.0L541.8,285.2L542.8,285.3L543.8,285.4L544.8,285.5L545.8,285.6L546.7,285.7L547.7,285.8L548.7,285.9L549.7,286.1L550.7,286.2L551.7,286.3L552.7,286.4L553.7,286.5L554.7,286.6L555.7,286.7L556.7,286.9L557.7,287.0L558.7,287.1L559.6,287.2L560.6,287.3L561.6,287.4L562.6,287.5L563.6,287.7L564.6,287.8L565.6,287.9L566.6,288.0L567.6,288.1L568.6,288.2L569.6,288.3L570.6,288.4L571.5,288.6L572.5,288.7L573.5,288.8L574.5,288.9L575.5,289.0L576.5,289.1L577.5,289.2" fill="none" stroke="#f00" stroke-width="3.2" stroke-linejoin="round"/>
<path clip-path="url(#ca)" d="M82.5,251.4L82.5,237.0L83.5,237.0L84.5,237.0L85.5,237.0L86.5,237.0L87.5,237.1L88.4,237.1L89.4,237.1L90.4,237.1L91.4,237.1L92.4,237.1L93.4,237.2L94.4,237.2L95.4,237.2L96.4,237.2L97.4,237.2L98.4,237.2L99.4,237.3L100.3,237.3L101.3,237.3L102.3,237.3L103.3,237.3L104.3,237.4L105.3,237.4L106.3,237.4L107.3,237.4L108.3,237.4L109.3,237.5L110.3,237.5L111.3,237.5L112.3,237.5L113.2,237.5L114.2,237.6L115.2,237.6L116.2,237.6L117.2,237.6L118.2,237.7L119.2,237.7L120.2,237.7L121.2,237.7L122.2,237.8L123.2,237.8L124.2,237.8L125.1,237.9L126.1,237.9L127.1,237.9L128.1,238.0L129.1,238.0L130.1,238.0L131.1,238.1L132.1,238.1L133.1,238.1L134.1,238.2L135.1,238.2L136.1,238.2L137.1,238.3L138.0,238.3L139.0,238.4L140.0,238.4L141.0,238.5L142.0,238.5L143.0,238.5L144.0,238.6L145.0,238.6L146.0,238.7L147.0,238.7L148.0,238.8L149.0,238.9L149.9,238.9L150.9,239.0L151.9,239.0L152.9,239.1L153.9,239.2L154.9,239.2L155.9,239.3L156.9,239.4L157.9,239.4L158.9,239.5L159.9,239.6L160.9,239.7L161.9,239.8L162.8,239.9L163.8,239.9L164.8,240.0L165.8,240.1L166.8,240.2L167.8,240.3L168.8,240.5L169.8,240.6L170.8,240.7L171.8,240.8L172.8,240.9L173.8,241.1L174.7,241.2L175.7,241.4L176.7,241.5L177.7,241.7L178.7,241.8L179.7,242.0L180.7,242.2L181.7,242.4L182.7,242.6L183.7,242.8L184.7,243.0L185.7,243.3L186.7,243.5L187.6,243.8L188.6,244.1L189.6,244.4L190.6,244.8L191.6,245.1L192.6,245.5L193.6,245.9L194.6,246.3L195.6,246.8L196.6,247.3L197.6,247.9L198.6,248.5L199.5,249.1L200.5,249.8L201.5,250.6L202.5,251.4L203.5,252.3L204.5,253.2L205.5,254.3L206.5,255.4L207.5,256.7L208.5,258.0L209.5,259.5L210.5,261.1L211.5,262.9L212.4,264.8L213.4,267.0L214.4,269.3L215.4,272.0L216.4,274.9L217.4,278.3L218.4,282.2L219.4,286.7L220.4,292.2L221.4,299.0L222.4,307.3L223.4,314.0L224.3,310.9L225.3,303.8L226.3,297.9L227.3,293.4L228.3,289.9L229.3,287.2L230.3,285.0L231.3,283.2L232.3,281.7L233.3,280.5L234.3,279.5L235.3,278.7L236.3,278.0L237.2,277.5L238.2,277.1L239.2,276.8L240.2,276.6L241.2,276.5L242.2,276.4L243.2,276.5L244.2,276.6L245.2,276.7L246.2,276.9L247.2,277.2L248.2,277.5L249.1,277.9L250.1,278.3L251.1,278.8L252.1,279.3L253.1,279.9L254.1,280.5L255.1,281.1L256.1,281.8L257.1,282.5L258.1,283.3L259.1,284.1L260.1,284.9L261.1,285.7L262.0,286.6L263.0,287.5L264.0,288.4L265.0,289.3L266.0,290.2L267.0,291.1L268.0,292.0L269.0,292.8L270.0,293.7L271.0,294.4L272.0,295.1L273.0,295.8L273.9,296.3L274.9,296.8L275.9,297.2L276.9,297.5L277.9,297.7L278.9,297.9L279.9,297.9L280.9,297.9L281.9,297.9L282.9,297.8L283.9,297.7L284.9,297.5L285.9,297.4L286.8,297.2L287.8,297.1L288.8,296.9L289.8,296.8L290.8,296.6L291.8,296.5L292.8,296.4L293.8,296.3L294.8,296.3L295.8,296.2L296.8,296.2L297.8,296.2L298.7,296.2L299.7,296.2L300.7,296.3L301.7,296.4L302.7,296.5L303.7,296.6L304.7,296.7L305.7,296.8L306.7,297.0L307.7,297.2L308.7,297.4L309.7,297.6L310.7,297.8L311.6,298.0L312.6,298.3L313.6,298.5L314.6,298.8L315.6,299.0L316.6,299.3L317.6,299.6L318.6,299.9L319.6,300.1L320.6,300.4L321.6,300.7L322.6,301.0L323.5,301.3L324.5,301.6L325.5,301.8L326.5,302.1L327.5,302.4L328.5,302.7L329.5,302.9L330.5,303.2L331.5,303.5L332.5,303.7L333.5,303.9L334.5,304.2L335.5,304.4L336.4,304.6L337.4,304.8L338.4,305.1L339.4,305.3L340.4,305.5L341.4,305.7L342.4,305.8L343.4,306.0L344.4,306.2L345.4,306.4L346.4,306.5L347.4,306.7L348.3,306.8L349.3,307.0L350.3,307.2L351.3,307.3L352.3,307.5L353.3,307.6L354.3,307.8L355.3,307.9L356.3,308.0L357.3,308.2L358.3,308.3L359.3,308.5L360.3,308.6L361.2,308.8L362.2,308.9L363.2,309.1L364.2,309.2L365.2,309.4L366.2,309.5L367.2,309.7L368.2,309.8L369.2,310.0L370.2,310.1L371.2,310.3L372.2,310.4L373.1,310.6L374.1,310.7L375.1,310.9L376.1,311.1L377.1,311.2L378.1,311.4L379.1,311.5L380.1,311.7L381.1,311.9L382.1,312.0L383.1,312.2L384.1,312.4L385.1,312.5L386.0,312.7L387.0,312.9L388.0,313.0L389.0,313.2L390.0,313.4L391.0,313.5L392.0,313.7L393.0,313.9L394.0,314.0L395.0,314.2L396.0,314.4L397.0,314.5L397.9,314.7L398.9,314.8L399.9,315.0L400.9,315.2L401.9,315.3L402.9,315.5L403.9,315.6L404.9,315.8L405.9,316.0L406.9,316.1L407.9,316.3L408.9,316.4L409.9,316.6L410.8,316.7L411.8,316.9L412.8,317.1L413.8,317.2L414.8,317.4L415.8,317.5L416.8,317.7L417.8,317.8L418.8,318.0L419.8,318.1L420.8,318.3L421.8,318.4L422.7,318.6L423.7,318.7L424.7,318.9L425.7,319.0L426.7,319.2L427.7,319.3L428.7,319.5L429.7,319.6L430.7,319.7L431.7,319.9L432.7,320.0L433.7,320.2L434.7,320.3L435.6,320.5L436.6,320.6L437.6,320.8L438.6,320.9L439.6,321.0L440.6,321.2L441.6,321.3L442.6,321.5L443.6,321.6L444.6,321.8L445.6,321.9L446.6,322.0L447.5,322.2L448.5,322.3L449.5,322.5L450.5,322.6L451.5,322.7L452.5,322.9L453.5,323.0L454.5,323.2L455.5,323.3L456.5,323.4L457.5,323.6L458.5,323.7L459.5,323.9L460.4,324.0L461.4,324.1L462.4,324.3L463.4,324.4L464.4,324.6L465.4,324.7L466.4,324.8L467.4,325.0L468.4,325.1L469.4,325.2L470.4,325.4L471.4,325.5L472.3,325.7L473.3,325.8L474.3,325.9L475.3,326.1L476.3,326.2L477.3,326.3L478.3,326.5L479.3,326.6L480.3,326.7L481.3,326.9L482.3,327.0L483.3,327.1L484.3,327.3L485.2,327.4L486.2,327.5L487.2,327.7L488.2,327.8L489.2,327.9L490.2,328.1L491.2,328.2L492.2,328.3L493.2,328.5L494.2,328.6L495.2,328.7L496.2,328.9L497.1,329.0L498.1,329.1L499.1,329.3L500.1,329.4L501.1,329.5L502.1,329.6L503.1,329.8L504.1,329.9L505.1,330.0L506.1,330.2L507.1,330.3L508.1,330.4L509.1,330.5L510.0,330.7L511.0,330.8L512.0,330.9L513.0,331.1L514.0,331.2L515.0,331.3L516.0,331.4L517.0,331.6L518.0,331.7L519.0,331.8L520.0,332.0L521.0,332.1L521.9,332.2L522.9,332.3L523.9,332.5L524.9,332.6L525.9,332.7L526.9,332.9L527.9,333.0L528.9,333.1L529.9,333.2L530.9,333.4L531.9,333.5L532.9,333.6L533.9,333.7L534.8,333.9L535.8,334.0L536.8,334.1L537.8,334.2L538.8,334.4L539.8,334.5L540.8,334.6L541.8,334.7L542.8,334.9L543.8,335.0L544.8,335.1L545.8,335.3L546.7,335.4L547.7,335.5L548.7,335.6L549.7,335.8L550.7,335.9L551.7,336.0L552.7,336.1L553.7,336.3L554.7,336.4L555.7,336.5L556.7,336.6L557.7,336.8L558.7,336.9L559.6,337.0L560.6,337.1L561.6,337.3L562.6,337.4L563.6,337.5L564.6,337.6L565.6,337.8L566.6,337.9L567.6,338.0L568.6,338.1L569.6,338.3L570.6,338.4L571.5,338.5L572.5,338.6L573.5,338.8L574.5,338.9L575.5,339.0L576.5,339.1L577.5,339.3" fill="none" stroke="#f00" stroke-width="3.2" stroke-linejoin="round"/>
<path clip-path="url(#ca)" d="M82.5,317.1L82.5,302.7L83.5,302.7L84.5,302.7L85.5,302.7L86.5,302.8L87.5,302.8L88.4,302.8L89.4,302.8L90.4,302.8L91.4,302.8L92.4,302.9L93.4,302.9L94.4,302.9L95.4,302.9L96.4,302.9L97.4,302.9L98.4,303.0L99.4,303.0L100.3,303.0L101.3,303.0L102.3,303.0L103.3,303.0L104.3,303.1L105.3,303.1L106.3,303.1L107.3,303.1L108.3,303.1L109.3,303.2L110.3,303.2L111.3,303.2L112.3,303.2L113.2,303.2L114.2,303.3L115.2,303.3L116.2,303.3L117.2,303.3L118.2,303.3L119.2,303.4L120.2,303.4L121.2,303.4L122.2,303.4L123.2,303.5L124.2,303.5L125.1,303.5L126.1,303.6L127.1,303.6L128.1,303.6L129.1,303.6L130.1,303.7L131.1,303.7L132.1,303.7L133.1,303.8L134.1,303.8L135.1,303.8L136.1,303.9L137.1,303.9L138.0,304.0L139.0,304.0L140.0,304.0L141.0,304.1L142.0,304.1L143.0,304.2L144.0,304.2L145.0,304.3L146.0,304.3L147.0,304.4L148.0,304.4L149.0,304.5L149.9,304.5L150.9,304.6L151.9,304.6L152.9,304.7L153.9,304.8L154.9,304.8L155.9,304.9L156.9,305.0L157.9,305.0L158.9,305.1L159.9,305.2L160.9,305.3L161.9,305.3L162.8,305.4L163.8,305.5L164.8,305.6L165.8,305.7L166.8,305.8L167.8,305.9L168.8,306.0L169.8,306.1L170.8,306.2L171.8,306.4L172.8,306.5L173.8,306.6L174.7,306.8L175.7,306.9L176.7,307.0L177.7,307.2L178.7,307.3L179.7,307.5L180.7,307.7L181.7,307.9L182.7,308.1L183.7,308.3L184.7,308.5L185.7,308.7L186.7,308.9L187.6,309.1L188.6,309.4L189.6,309.6L190.6,309.9L191.6,310.2L192.6,310.5L193.6,310.8L194.6,311.1L195.6,311.4L196.6,311.8L197.6,312.1L198.6,312.5L199.5,312.9L200.5,313.3L201.5,313.8L202.5,314.2L203.5,314.7L204.5,315.2L205.5,315.7L206.5,316.3L207.5,316.8L208.5,317.4L209.5,318.1L210.5,318.7L211.5,319.4L212.4,320.1L213.4,320.8L214.4,321.6L215.4,322.4L216.4,323.2L217.4,324.1L218.4,324.9L219.4,325.9L220.4,326.9L221.4,327.9L222.4,328.9L223.4,330.0L224.3,331.2L225.3,332.4L226.3,333.7L227.3,335.0L228.3,336.3L229.3,337.8L230.3,339.3L231.3,340.9L232.3,342.6L233.3,344.3L234.3,346.2L235.3,348.2L236.3,350.3L237.2,352.5L238.2,354.9L239.2,357.4L240.2,360.1L241.2,362.9L242.2,365.8L243.2,368.5L244.2,370.8L245.2,372.4L246.2,372.9L247.2,372.4L248.2,371.0L249.1,369.3L250.1,367.4L251.1,365.5L252.1,363.8L253.1,362.2L254.1,360.8L255.1,359.5L256.1,358.3L257.1,357.2L258.1,356.3L259.1,355.4L260.1,354.7L261.1,354.0L262.0,353.4L263.0,352.9L264.0,352.4L265.0,352.0L266.0,351.6L267.0,351.3L268.0,351.0L269.0,350.8L270.0,350.6L271.0,350.5L272.0,350.3L273.0,350.2L273.9,350.2L274.9,350.1L275.9,350.1L276.9,350.2L277.9,350.2L278.9,350.3L279.9,350.4L280.9,350.5L281.9,350.7L282.9,350.8L283.9,351.0L284.9,351.2L285.9,351.4L286.8,351.7L287.8,351.9L288.8,352.2L289.8,352.5L290.8,352.8L291.8,353.1L292.8,353.5L293.8,353.8L294.8,354.2L295.8,354.6L296.8,355.0L297.8,355.4L298.7,355.8L299.7,356.2L300.7,356.7L301.7,357.1L302.7,357.6L303.7,358.1L304.7,358.5L305.7,359.0L306.7,359.5L307.7,360.0L308.7,360.5L309.7,361.0L310.7,361.6L311.6,362.1L312.6,362.6L313.6,363.1L314.6,363.6L315.6,364.1L316.6,364.6L317.6,365.1L318.6,365.6L319.6,366.1L320.6,366.6L321.6,367.0L322.6,367.5L323.5,367.9L324.5,368.3L325.5,368.7L326.5,369.1L327.5,369.4L328.5,369.7L329.5,370.0L330.5,370.3L331.5,370.6L332.5,370.8L333.5,371.0L334.5,371.2L335.5,371.4L336.4,371.6L337.4,371.7L338.4,371.9L339.4,372.0L340.4,372.1L341.4,372.2L342.4,372.3L343.4,372.3L344.4,372.4L345.4,372.5L346.4,372.5L347.4,372.6L348.3,372.6L349.3,372.6L350.3,372.7L351.3,372.7L352.3,372.8L353.3,372.8L354.3,372.9L355.3,372.9L356.3,373.0L357.3,373.0L358.3,373.1L359.3,373.2L360.3,373.2L361.2,373.3L362.2,373.4L363.2,373.4L364.2,373.5L365.2,373.6L366.2,373.7L367.2,373.8L368.2,373.9L369.2,374.0L370.2,374.2L371.2,374.3L372.2,374.4L373.1,374.5L374.1,374.7L375.1,374.8L376.1,374.9L377.1,375.1L378.1,375.2L379.1,375.4L380.1,375.5L381.1,375.7L382.1,375.9L383.1,376.0L384.1,376.2L385.1,376.4L386.0,376.6L387.0,376.7L388.0,376.9L389.0,377.1L390.0,377.3L391.0,377.5L392.0,377.7L393.0,377.8L394.0,378.0L395.0,378.2L396.0,378.4L397.0,378.6L397.9,378.8L398.9,379.0L399.9,379.2L400.9,379.4L401.9,379.6L402.9,379.8L403.9,380.0L404.9,380.1L405.9,380.3L406.9,380.5L407.9,380.7L408.9,380.9L409.9,381.1L410.8,381.3L411.8,381.5L412.8,381.7L413.8,381.8L414.8,382.0L415.8,382.2L416.8,382.4L417.8,382.6L418.8,382.8L419.8,382.9L420.8,383.1L421.8,383.3L422.7,383.5L423.7,383.6L424.7,383.8L425.7,384.0L426.7,384.1L427.7,384.3L428.7,384.5L429.7,384.6L430.7,384.8L431.7,384.9L432.7,385.1L433.7,385.3L434.7,385.4L435.6,385.6L436.6,385.7L437.6,385.9L438.6,386.0L439.6,386.2L440.6,386.3L441.6,386.5L442.6,386.6L443.6,386.8L444.6,386.9L445.6,387.1L446.6,387.2L447.5,387.3L448.5,387.5L449.5,387.6L450.5,387.8L451.5,387.9L452.5,388.0L453.5,388.2L454.5,388.3L455.5,388.5L456.5,388.6L457.5,388.7L458.5,388.9L459.5,389.0L460.4,389.1L461.4,389.3L462.4,389.4L463.4,389.5L464.4,389.7L465.4,389.8L466.4,390.0L467.4,390.1L468.4,390.2L469.4,390.4L470.4,390.5L471.4,390.6L472.3,390.8L473.3,390.9L474.3,391.0L475.3,391.2L476.3,391.3L477.3,391.4L478.3,391.6L479.3,391.7L480.3,391.8L481.3,392.0L482.3,392.1L483.3,392.3L484.3,392.4L485.2,392.5L486.2,392.7L487.2,392.8L488.2,392.9L489.2,393.1L490.2,393.2L491.2,393.3L492.2,393.5L493.2,393.6L494.2,393.8L495.2,393.9L496.2,394.0L497.1,394.2L498.1,394.3L499.1,394.4L500.1,394.6L501.1,394.7L502.1,394.8L503.1,395.0L504.1,395.1L505.1,395.3L506.1,395.4L507.1,395.5L508.1,395.7L509.1,395.8L510.0,395.9L511.0,396.1L512.0,396.2L513.0,396.3L514.0,396.5L515.0,396.6L516.0,396.7L517.0,396.9L518.0,397.0L519.0,397.2L520.0,397.3L521.0,397.4L521.9,397.6L522.9,397.7L523.9,397.8L524.9,398.0L525.9,398.1L526.9,398.2L527.9,398.4L528.9,398.5L529.9,398.6L530.9,398.8L531.9,398.9L532.9,399.0L533.9,399.2L534.8,399.3L535.8,399.4L536.8,399.6L537.8,399.7L538.8,399.8L539.8,400.0L540.8,400.1L541.8,400.2L542.8,400.4L543.8,400.5L544.8,400.6L545.8,400.8L546.7,400.9L547.7,401.0L548.7,401.2L549.7,401.3L550.7,401.4L551.7,401.5L552.7,401.7L553.7,401.8L554.7,401.9L555.7,402.1L556.7,402.2L557.7,402.3L558.7,402.5L559.6,402.6L560.6,402.7L561.6,402.9L562.6,403.0L563.6,403.1L564.6,403.3L565.6,403.4L566.6,403.5L567.6,403.7L568.6,403.8L569.6,403.9L570.6,404.1L571.5,404.2L572.5,404.3L573.5,404.5L574.5,404.6L575.5,404.7L576.5,404.9L577.5,405.0" fill="none" stroke="#f00" stroke-width="3.2" stroke-linejoin="round"/>
<path clip-path="url(#ca)" d="M82.5,360.5L82.5,345.8L83.5,345.8L84.5,345.8L85.5,345.9L86.5,345.9L87.5,345.9L88.4,346.0L89.4,346.0L90.4,346.0L91.4,346.0L92.4,346.1L93.4,346.1L94.4,346.1L95.4,346.2L96.4,346.2L97.4,346.2L98.4,346.3L99.4,346.3L100.3,346.3L101.3,346.3L102.3,346.4L103.3,346.4L104.3,346.4L105.3,346.5L106.3,346.5L107.3,346.5L108.3,346.6L109.3,346.6L110.3,346.6L111.3,346.7L112.3,346.7L113.2,346.7L114.2,346.8L115.2,346.8L116.2,346.8L117.2,346.9L118.2,346.9L119.2,347.0L120.2,347.0L121.2,347.0L122.2,347.1L123.2,347.1L124.2,347.2L125.1,347.3L126.1,347.3L127.1,347.4L128.1,347.5L129.1,347.6L130.1,347.6L131.1,347.7L132.1,347.8L133.1,347.9L134.1,347.9L135.1,348.0L136.1,348.1L137.1,348.2L138.0,348.2L139.0,348.3L140.0,348.4L141.0,348.5L142.0,348.6L143.0,348.7L144.0,348.7L145.0,348.8L146.0,348.9L147.0,349.0L148.0,349.1L149.0,349.2L149.9,349.3L150.9,349.4L151.9,349.6L152.9,349.7L153.9,349.8L154.9,349.9L155.9,350.0L156.9,350.2L157.9,350.3L158.9,350.4L159.9,350.6L160.9,350.7L161.9,350.9L162.8,351.0L163.8,351.2L164.8,351.3L165.8,351.5L166.8,351.7L167.8,351.9L168.8,352.1L169.8,352.2L170.8,352.4L171.8,352.6L172.8,352.9L173.8,353.1L174.7,353.3L175.7,353.5L176.7,353.8L177.7,354.0L178.7,354.3L179.7,354.5L180.7,354.8L181.7,355.1L182.7,355.4L183.7,355.7L184.7,356.0L185.7,356.3L186.7,356.7L187.6,357.0L188.6,357.3L189.6,357.7L190.6,358.1L191.6,358.5L192.6,358.9L193.6,359.3L194.6,359.7L195.6,360.1L196.6,360.6L197.6,361.1L198.6,361.5L199.5,362.0L200.5,362.5L201.5,363.1L202.5,363.6L203.5,364.2L204.5,364.7L205.5,365.3L206.5,365.9L207.5,366.5L208.5,367.2L209.5,367.8L210.5,368.5L211.5,369.2L212.4,369.9L213.4,370.6L214.4,371.4L215.4,372.1L216.4,372.9L217.4,373.7L218.4,374.5L219.4,375.4L220.4,376.2L221.4,377.1L222.4,378.0L223.4,379.0L224.3,379.9L225.3,380.9L226.3,381.9L227.3,382.9L228.3,384.0L229.3,385.0L230.3,386.1L231.3,387.3L232.3,388.4L233.3,389.6L234.3,390.8L235.3,392.0L236.3,393.3L237.2,394.6L238.2,395.9L239.2,397.2L240.2,398.5L241.2,399.9L242.2,401.3L243.2,402.7L244.2,404.1L245.2,405.5L246.2,406.9L247.2,408.3L248.2,409.6L249.1,411.0L250.1,412.2L251.1,413.4L252.1,414.5L253.1,415.5L254.1,416.3L255.1,417.1L256.1,417.6L257.1,418.1L258.1,418.3L259.1,418.4L260.1,418.4L261.1,418.3L262.0,418.0L263.0,417.7L264.0,417.3L265.0,416.9L266.0,416.4L267.0,415.9L268.0,415.4L269.0,414.9L270.0,414.4L271.0,413.9L272.0,413.4L273.0,412.9L273.9,412.5L274.9,412.1L275.9,411.7L276.9,411.3L277.9,410.9L278.9,410.6L279.9,410.2L280.9,410.0L281.9,409.7L282.9,409.4L283.9,409.2L284.9,409.0L285.9,408.8L286.8,408.7L287.8,408.5L288.8,408.4L289.8,408.3L290.8,408.2L291.8,408.2L292.8,408.1L293.8,408.1L294.8,408.1L295.8,408.1L296.8,408.1L297.8,408.2L298.7,408.2L299.7,408.3L300.7,408.4L301.7,408.5L302.7,408.6L303.7,408.7L304.7,408.9L305.7,409.0L306.7,409.2L307.7,409.4L308.7,409.6L309.7,409.8L310.7,410.0L311.6,410.2L312.6,410.5L313.6,410.7L314.6,411.0L315.6,411.3L316.6,411.6L317.6,411.9L318.6,412.2L319.6,412.5L320.6,412.9L321.6,413.2L322.6,413.6L323.5,413.9L324.5,414.3L325.5,414.7L326.5,415.1L327.5,415.5L328.5,415.9L329.5,416.4L330.5,416.8L331.5,417.3L332.5,417.7L333.5,418.2L334.5,418.7L335.5,419.1L336.4,419.6L337.4,420.1L338.4,420.6L339.4,421.1L340.4,421.6L341.4,422.2L342.4,422.7L343.4,423.2L344.4,423.8L345.4,424.3L346.4,424.9L347.4,425.4L348.3,426.0L349.3,426.5L350.3,427.1L351.3,427.6L352.3,428.1L353.3,428.7L354.3,429.2L355.3,429.8L356.3,430.3L357.3,430.8L358.3,431.3L359.3,431.8L360.3,432.3L361.2,432.8L362.2,433.3L363.2,433.7L364.2,434.2L365.2,434.6L366.2,435.0L367.2,435.4L368.2,435.7L369.2,436.1L370.2,436.4L371.2,436.7L372.2,437.0L373.1,437.2L374.1,437.4L375.1,437.6L376.1,437.8L377.1,438.0L378.1,438.1L379.1,438.3L380.1,438.4L381.1,438.5L382.1,438.5L383.1,438.6L384.1,438.6L385.1,438.6L386.0,438.7L387.0,438.7L388.0,438.7L389.0,438.6L390.0,438.6L391.0,438.6L392.0,438.5L393.0,438.5L394.0,438.5L395.0,438.4L396.0,438.4L397.0,438.3L397.9,438.3L398.9,438.2L399.9,438.2L400.9,438.1L401.9,438.1L402.9,438.1L403.9,438.0L404.9,438.0L405.9,438.0L406.9,437.9L407.9,437.9L408.9,437.9L409.9,437.9L410.8,437.9L411.8,437.9L412.8,437.9L413.8,437.9L414.8,437.9L415.8,438.0L416.8,438.0L417.8,438.0L418.8,438.1L419.8,438.1L420.8,438.2L421.8,438.2L422.7,438.3L423.7,438.4L424.7,438.5L425.7,438.5L426.7,438.6L427.7,438.7L428.7,438.8L429.7,438.9L430.7,439.1L431.7,439.2L432.7,439.3L433.7,439.4L434.7,439.6L435.6,439.7L436.6,439.8L437.6,440.0L438.6,440.1L439.6,440.3L440.6,440.5L441.6,440.6L442.6,440.8L443.6,441.0L444.6,441.1L445.6,441.3L446.6,441.5L447.5,441.7L448.5,441.9L449.5,442.1L450.5,442.3L451.5,442.5L452.5,442.7L453.5,442.9L454.5,443.1L455.5,443.3L456.5,443.5L457.5,443.7L458.5,443.9L459.5,444.1L460.4,444.3L461.4,444.6L462.4,444.8L463.4,445.0L464.4,445.2L465.4,445.4L466.4,445.6L467.4,445.8L468.4,446.1L469.4,446.3L470.4,446.5L471.4,446.7L472.3,446.9L473.3,447.1L474.3,447.3L475.3,447.5L476.3,447.7L477.3,447.9L478.3,448.1L479.3,448.3L480.3,448.5L481.3,448.7L482.3,448.9L483.3,449.1L484.3,449.3L485.2,449.5L486.2,449.6L487.2,449.8L488.2,450.0L489.2,450.2L490.2,450.3L491.2,450.5L492.2,450.7L493.2,450.8L494.2,451.0L495.2,451.2L496.2,451.3L497.1,451.5L498.1,451.6L499.1,451.8L500.1,451.9L501.1,452.0L502.1,452.2L503.1,452.3L504.1,452.4L505.1,452.6L506.1,452.7L507.1,452.8L508.1,453.0L509.1,453.1L510.0,453.2L511.0,453.3L512.0,453.4L513.0,453.6L514.0,453.7L515.0,453.8L516.0,453.9L517.0,454.0L518.0,454.1L519.0,454.2L520.0,454.3L521.0,454.4L521.9,454.5L522.9,454.6L523.9,454.7L524.9,454.8L525.9,454.9L526.9,455.0L527.9,455.1L528.9,455.2L529.9,455.3L530.9,455.4L531.9,455.5L532.9,455.6L533.9,455.7L534.8,455.8L535.8,455.9L536.8,456.0L537.8,456.1L538.8,456.2L539.8,456.3L540.8,456.4L541.8,456.4L542.8,456.5L543.8,456.6L544.8,456.7L545.8,456.8L546.7,456.9L547.7,457.0L548.7,457.1L549.7,457.2L550.7,457.3L551.7,457.3L552.7,457.4L553.7,457.5L554.7,457.6L555.7,457.7L556.7,457.8L557.7,457.9L558.7,458.0L559.6,458.1L560.6,458.2L561.6,458.2L562.6,458.3L563.6,458.4L564.6,458.5L565.6,458.6L566.6,458.7L567.6,458.8L568.6,458.9L569.6,459.0L570.6,459.1L571.5,459.1L572.5,459.2L573.5,459.3L574.5,459.4L575.5,459.5L576.5,459.6L577.5,459.7" fill="none" stroke="#f00" stroke-width="3.2" stroke-linejoin="round"/>
<path clip-path="url(#ca)" d="M82.5,404.1L82.5,389.4L83.5,389.4L84.5,389.4L85.5,389.5L86.5,389.5L87.5,389.5L88.4,389.5L89.4,389.6L90.4,389.6L91.4,389.6L92.4,389.7L93.4,389.7L94.4,389.7L95.4,389.7L96.4,389.8L97.4,389.8L98.4,389.8L99.4,389.9L100.3,389.9L101.3,389.9L102.3,390.0L103.3,390.0L104.3,390.0L105.3,390.1L106.3,390.1L107.3,390.1L108.3,390.2L109.3,390.2L110.3,390.3L111.3,390.3L112.3,390.4L113.2,390.4L114.2,390.5L115.2,390.5L116.2,390.6L117.2,390.6L118.2,390.7L119.2,390.8L120.2,390.9L121.2,391.0L122.2,391.1L123.2,391.3L124.2,391.6L125.1,392.2L126.1,393.0L127.1,394.0L128.1,394.9L129.1,395.6L130.1,396.2L131.1,396.8L132.1,397.3L133.1,397.8L134.1,398.3L135.1,398.7L136.1,399.2L137.1,399.6L138.0,400.0L139.0,400.5L140.0,400.9L141.0,401.3L142.0,401.7L143.0,402.1L144.0,402.5L145.0,402.9L146.0,403.3L147.0,403.7L148.0,404.1L149.0,404.5L149.9,404.9L150.9,405.4L151.9,405.8L152.9,406.2L153.9,406.6L154.9,407.0L155.9,407.4L156.9,407.8L157.9,408.2L158.9,408.6L159.9,409.0L160.9,409.4L161.9,409.9L162.8,410.3L163.8,410.7L164.8,411.1L165.8,411.5L166.8,412.0L167.8,412.4L168.8,412.8L169.8,413.3L170.8,413.7L171.8,414.1L172.8,414.6L173.8,415.0L174.7,415.5L175.7,415.9L176.7,416.4L177.7,416.8L178.7,417.3L179.7,417.7L180.7,418.2L181.7,418.6L182.7,419.1L183.7,419.6L184.7,420.1L185.7,420.5L186.7,421.0L187.6,421.5L188.6,422.0L189.6,422.5L190.6,423.0L191.6,423.5L192.6,424.0L193.6,424.5L194.6,425.0L195.6,425.5L196.6,426.0L197.6,426.5L198.6,427.1L199.5,427.6L200.5,428.1L201.5,428.7L202.5,429.2L203.5,429.8L204.5,430.3L205.5,430.9L206.5,431.4L207.5,432.0L208.5,432.6L209.5,433.1L210.5,433.7L211.5,434.3L212.4,434.9L213.4,435.5L214.4,436.1L215.4,436.7L216.4,437.3L217.4,437.9L218.4,438.6L219.4,439.2L220.4,439.8L221.4,440.5L222.4,441.1L223.4,441.8L224.3,442.5L225.3,443.1L226.3,443.8L227.3,444.5L228.3,445.2L229.3,445.9L230.3,446.7L231.3,447.4L232.3,448.1L233.3,448.9L234.3,449.6L235.3,450.4L236.3,451.2L237.2,452.0L238.2,452.8L239.2,453.7L240.2,454.5L241.2,455.4L242.2,456.3L243.2,457.2L244.2,458.1L245.2,459.1L246.2,460.1L247.2,461.1L248.2,462.1L249.1,463.1L250.1,464.2L251.1,465.3L252.1,466.5L253.1,467.7L254.1,468.9L255.1,470.1L256.1,471.3L257.1,472.5L258.1,473.7L259.1,474.8L260.1,475.8L261.1,476.7L262.0,477.3L263.0,477.7L264.0,477.9L265.0,477.8L266.0,477.6L267.0,477.3L268.0,476.9L269.0,476.5L270.0,476.1L271.0,475.7L272.0,475.3L273.0,474.9L273.9,474.5L274.9,474.2L275.9,473.9L276.9,473.7L277.9,473.4L278.9,473.6L279.9,473.7L280.9,473.8L281.9,474.0L282.9,474.0L283.9,474.1L284.9,473.9L285.9,473.7L286.8,473.6L287.8,473.4L288.8,473.2L289.8,473.1L290.8,473.0L291.8,472.9L292.8,472.8L293.8,472.7L294.8,472.6L295.8,472.6L296.8,472.5L297.8,472.5L298.7,472.5L299.7,472.5L300.7,472.5L301.7,472.5L302.7,472.5L303.7,472.5L304.7,472.6L305.7,472.6L306.7,472.7L307.7,472.8L308.7,472.9L309.7,473.0L310.7,473.1L311.6,473.2L312.6,473.3L313.6,473.5L314.6,473.6L315.6,473.8L316.6,473.9L317.6,474.1L318.6,474.3L319.6,474.5L320.6,474.7L321.6,474.9L322.6,475.1L323.5,475.3L324.5,475.6L325.5,475.8L326.5,476.1L327.5,476.3L328.5,476.6L329.5,476.9L330.5,477.1L331.5,477.4L332.5,477.7L333.5,478.0L334.5,478.3L335.5,478.6L336.4,478.9L337.4,479.2L338.4,479.5L339.4,479.9L340.4,480.2L341.4,480.5L342.4,480.9L343.4,481.2L344.4,481.5L345.4,481.9L346.4,482.2L347.4,482.6L348.3,482.9L349.3,483.3L350.3,483.6L351.3,484.0L352.3,484.3L353.3,484.7L354.3,485.0L355.3,485.4L356.3,485.8L357.3,486.1L358.3,486.5L359.3,486.8L360.3,487.2L361.2,487.5L362.2,487.9L363.2,488.2L364.2,488.5L365.2,488.9L366.2,489.2L367.2,489.6L368.2,489.9L369.2,490.2L370.2,490.5L371.2,490.9L372.2,491.2L373.1,491.5L374.1,491.8L375.1,492.1L376.1,492.4L377.1,492.7L378.1,493.0L379.1,493.2L380.1,493.5L381.1,493.8L382.1,494.0L383.1,494.3L384.1,494.5L385.1,494.8L386.0,495.0L387.0,495.2L388.0,495.4L389.0,495.6L390.0,495.8L391.0,496.0L392.0,496.2L393.0,496.3L394.0,496.5L395.0,496.6L396.0,496.8L397.0,496.9L397.9,497.0L398.9,497.1L399.9,497.2L400.9,497.3L401.9,497.3L402.9,497.4L403.9,497.4L404.9,497.5L405.9,497.5L406.9,497.6L407.9,497.6L408.9,497.6L409.9,497.6L410.8,497.6L411.8,497.6L412.8,497.6L413.8,497.6L414.8,497.6L415.8,497.6L416.8,497.6L417.8,497.6L418.8,497.6L419.8,497.5L420.8,497.5L421.8,497.5L422.7,497.5L423.7,497.4L424.7,497.4L425.7,497.4L426.7,497.4L427.7,497.4L428.7,497.4L429.7,497.3L430.7,497.3L431.7,497.3L432.7,497.3L433.7,497.3L434.7,497.4L435.6,497.4L436.6,497.4L437.6,497.4L438.6,497.5L439.6,497.5L440.6,497.5L441.6,497.6L442.6,497.7L443.6,497.7L444.6,497.8L445.6,497.9L446.6,498.0L447.5,498.1L448.5,498.2L449.5,498.3L450.5,498.4L451.5,498.5L452.5,498.6L453.5,498.7L454.5,498.9L455.5,499.0L456.5,499.2L457.5,499.3L458.5,499.5L459.5,499.6L460.4,499.8L461.4,499.9L462.4,500.1L463.4,500.3L464.4,500.5L465.4,500.7L466.4,500.8L467.4,501.0L468.4,501.2L469.4,501.4L470.4,501.6L471.4,501.8L472.3,502.1L473.3,502.3L474.3,502.5L475.3,502.7L476.3,502.9L477.3,503.2L478.3,503.4L479.3,503.6L480.3,503.9L481.3,504.1L482.3,504.4L483.3,504.6L484.3,504.8L485.2,505.1L486.2,505.4L487.2,505.6L488.2,505.9L489.2,506.1L490.2,506.4L491.2,506.6L492.2,506.9L493.2,507.2L494.2,507.4L495.2,507.7L496.2,508.0L497.1,508.3L498.1,508.5L499.1,508.8L500.1,509.1L501.1,509.4L502.1,509.6L503.1,509.9L504.1,510.2L505.1,510.5L506.1,510.7L507.1,511.0L508.1,511.3L509.1,511.6L510.0,511.8L511.0,512.1L512.0,512.4L513.0,512.6L514.0,512.9L515.0,513.2L516.0,513.4L517.0,513.7L518.0,514.0L519.0,514.2L520.0,514.5L521.0,514.8L521.9,515.0L522.9,515.3L523.9,515.5L524.9,515.8L525.9,516.0L526.9,516.2L527.9,516.5L528.9,516.7L529.9,516.9L530.9,517.2L531.9,517.4L532.9,517.6L533.9,517.8L534.8,518.0L535.8,518.3L536.8,518.5L537.8,518.7L538.8,518.9L539.8,519.0L540.8,519.2L541.8,519.4L542.8,519.6L543.8,519.7L544.8,519.9L545.8,520.1L546.7,520.2L547.7,520.4L548.7,520.5L549.7,520.6L550.7,520.8L551.7,520.9L552.7,521.0L553.7,521.1L554.7,521.2L555.7,521.3L556.7,521.4L557.7,521.5L558.7,521.5L559.6,521.6L560.6,521.7L561.6,521.7L562.6,521.7L563.6,521.8L564.6,521.8L565.6,521.8L566.6,521.8L567.6,521.8L568.6,521.8L569.6,521.8L570.6,521.8L571.5,521.7L572.5,521.7L573.5,521.6L574.5,521.6L575.5,521.5L576.5,521.4L577.5,521.3" fill="none" stroke="#f00" stroke-width="3.2" stroke-linejoin="round"/>
<path clip-path="url(#ca)" d="M82.5,445.9L82.5,431.3L83.5,431.3L84.5,431.3L85.5,431.3L86.5,431.4L87.5,431.4L88.4,431.4L89.4,431.4L90.4,431.5L91.4,431.5L92.4,431.5L93.4,431.5L94.4,431.6L95.4,431.6L96.4,431.6L97.4,431.6L98.4,431.7L99.4,431.7L100.3,431.7L101.3,431.7L102.3,431.8L103.3,431.8L104.3,431.8L105.3,431.9L106.3,431.9L107.3,431.9L108.3,432.0L109.3,432.0L110.3,432.1L111.3,432.1L112.3,432.1L113.2,432.2L114.2,432.2L115.2,432.3L116.2,432.4L117.2,432.4L118.2,432.5L119.2,432.6L120.2,432.7L121.2,432.8L122.2,433.0L123.2,433.2L124.2,433.6L125.1,434.3L126.1,435.6L127.1,437.1L128.1,438.4L129.1,439.5L130.1,440.4L131.1,441.2L132.1,442.0L133.1,442.6L134.1,443.3L135.1,443.9L136.1,444.4L137.1,445.0L138.0,445.5L139.0,446.0L140.0,446.5L141.0,447.0L142.0,447.4L143.0,447.9L144.0,448.4L145.0,448.8L146.0,449.2L147.0,449.7L148.0,450.1L149.0,450.5L149.9,450.9L150.9,451.3L151.9,451.7L152.9,452.1L153.9,452.5L154.9,452.9L155.9,453.3L156.9,453.7L157.9,454.1L158.9,454.5L159.9,454.9L160.9,455.3L161.9,455.6L162.8,456.0L163.8,456.4L164.8,456.8L165.8,457.2L166.8,457.6L167.8,457.9L168.8,458.3L169.8,458.7L170.8,459.1L171.8,459.5L172.8,459.8L173.8,460.2L174.7,460.6L175.7,461.0L176.7,461.4L177.7,461.8L178.7,462.1L179.7,462.5L180.7,462.9L181.7,463.3L182.7,463.7L183.7,464.1L184.7,464.5L185.7,464.9L186.7,465.3L187.6,465.7L188.6,466.1L189.6,466.5L190.6,466.9L191.6,467.3L192.6,467.7L193.6,468.1L194.6,468.5L195.6,468.9L196.6,469.3L197.6,469.8L198.6,470.2L199.5,470.6L200.5,471.0L201.5,471.5L202.5,471.9L203.5,472.3L204.5,472.8L205.5,473.2L206.5,473.6L207.5,474.1L208.5,474.5L209.5,475.0L210.5,475.4L211.5,475.9L212.4,476.4L213.4,476.8L214.4,477.3L215.4,477.8L216.4,478.2L217.4,478.7L218.4,479.2L219.4,479.7L220.4,480.2L221.4,480.7L222.4,481.2L223.4,481.7L224.3,482.2L225.3,482.7L226.3,483.2L227.3,483.7L228.3,484.3L229.3,484.8L230.3,485.3L231.3,485.9L232.3,486.4L233.3,487.0L234.3,487.6L235.3,488.1L236.3,488.7L237.2,489.3L238.2,489.9L239.2,490.5L240.2,491.1L241.2,491.7L242.2,492.3L243.2,492.9L244.2,493.5L245.2,494.2L246.2,494.8L247.2,495.5L248.2,496.1L249.1,496.8L250.1,497.5L251.1,498.2L252.1,498.9L253.1,499.6L254.1,500.3L255.1,501.1L256.1,501.8L257.1,502.6L258.1,503.3L259.1,504.1L260.1,504.9L261.1,505.7L262.0,506.6L263.0,507.4L264.0,508.3L265.0,509.1L266.0,510.0L267.0,510.9L268.0,511.9L269.0,513.2L270.0,514.5L271.0,515.8L272.0,517.0L273.0,518.2L273.9,519.4L274.9,520.2L275.9,521.1L276.9,522.0L277.9,522.9L278.9,523.8L279.9,524.7L280.9,525.6L281.9,526.5L282.9,527.4L283.9,528.3L284.9,529.2L285.9,530.0L286.8,530.9L287.8,531.8L288.8,532.6L289.8,533.4L290.8,534.1L291.8,534.9L292.8,535.5L293.8,536.1L294.8,536.7L295.8,537.1L296.8,537.5L297.8,537.8L298.7,538.1L299.7,538.3L300.7,538.5L301.7,538.6L302.7,538.7L303.7,538.7L304.7,538.7L305.7,538.6L306.7,538.5L307.7,538.4L308.7,538.3L309.7,538.1L310.7,538.0L311.6,537.8L312.6,537.6L313.6,537.4L314.6,537.2L315.6,537.0L316.6,536.8L317.6,536.6L318.6,536.4L319.6,536.2L320.6,536.1L321.6,535.9L322.6,535.7L323.5,535.6L324.5,535.5L325.5,535.3L326.5,535.2L327.5,535.1L328.5,535.0L329.5,534.9L330.5,534.8L331.5,534.7L332.5,534.6L333.5,534.5L334.5,534.4L335.5,534.4L336.4,534.3L337.4,534.2L338.4,534.2L339.4,534.2L340.4,534.1L341.4,534.1L342.4,534.1L343.4,534.1L344.4,534.0L345.4,534.0L346.4,534.0L347.4,534.1L348.3,534.1L349.3,534.1L350.3,534.1L351.3,534.2L352.3,534.2L353.3,534.3L354.3,534.3L355.3,534.4L356.3,534.4L357.3,534.5L358.3,534.6L359.3,534.7L360.3,534.8L361.2,534.9L362.2,535.0L363.2,535.1L364.2,535.2L365.2,535.3L366.2,535.4L367.2,535.6L368.2,535.7L369.2,535.9L370.2,536.0L371.2,536.2L372.2,536.3L373.1,536.5L374.1,536.7L375.1,536.9L376.1,537.1L377.1,537.3L378.1,537.5L379.1,537.7L380.1,537.9L381.1,538.1L382.1,538.3L383.1,538.5L384.1,538.8L385.1,539.0L386.0,539.3L387.0,539.5L388.0,539.8L389.0,540.0L390.0,540.3L391.0,540.6L392.0,540.9L393.0,541.1L394.0,541.4L395.0,541.7L396.0,542.0L397.0,542.3L397.9,542.6L398.9,543.0L399.9,543.3L400.9,543.6L401.9,543.9L402.9,544.3L403.9,544.6L404.9,545.0L405.9,545.3L406.9,545.7L407.9,546.1L408.9,546.4L409.9,546.8L410.8,547.2L411.8,547.6L412.8,548.0L413.8,548.4L414.8,548.8L415.8,549.2L416.8,549.6L417.8,550.0L418.8,550.4L419.8,550.9L420.8,551.3L421.8,551.7L422.7,552.2L423.7,552.6L424.7,553.0L425.7,553.5L426.7,553.9L427.7,554.4L428.7,554.8L429.7,555.2L430.7,555.7L431.7,556.1L432.7,556.5L433.7,556.9L434.7,557.3L435.6,557.7L436.6,558.1L437.6,558.5L438.6,558.8L439.6,559.2L440.6,559.5L441.6,559.8L442.6,560.1L443.6,560.4L444.6,560.7L445.6,560.9L446.6,561.2L447.5,561.4L448.5,561.6L449.5,561.8L450.5,561.9L451.5,562.0L452.5,562.1L453.5,562.2L454.5,562.3L455.5,562.3L456.5,562.4L457.5,562.4L458.5,562.4L459.5,562.3L460.4,562.3L461.4,562.3L462.4,562.2L463.4,562.2L464.4,562.1L465.4,562.0L466.4,562.0L467.4,561.9L468.4,561.8L469.4,561.7L470.4,561.7L471.4,561.6L472.3,561.5L473.3,561.4L474.3,561.4L475.3,561.3L476.3,561.2L477.3,561.1L478.3,561.1L479.3,561.0L480.3,560.9L481.3,560.8L482.3,560.8L483.3,560.7L484.3,560.6L485.2,560.6L486.2,560.5L487.2,560.4L488.2,560.4L489.2,560.3L490.2,560.3L491.2,560.2L492.2,560.2L493.2,560.2L494.2,560.1L495.2,560.1L496.2,560.1L497.1,560.0L498.1,560.0L499.1,560.0L500.1,560.0L501.1,560.0L502.1,560.0L503.1,560.0L504.1,560.0L505.1,560.1L506.1,560.1L507.1,560.1L508.1,560.2L509.1,560.3L510.0,560.3L511.0,560.4L512.0,560.5L513.0,560.5L514.0,560.6L515.0,560.7L516.0,560.8L517.0,560.9L518.0,561.0L519.0,561.2L520.0,561.3L521.0,561.4L521.9,561.5L522.9,561.7L523.9,561.8L524.9,562.0L525.9,562.1L526.9,562.3L527.9,562.4L528.9,562.6L529.9,562.8L530.9,562.9L531.9,563.1L532.9,563.3L533.9,563.5L534.8,563.7L535.8,563.9L536.8,564.0L537.8,564.2L538.8,564.4L539.8,564.6L540.8,564.8L541.8,565.0L542.8,565.2L543.8,565.4L544.8,565.6L545.8,565.8L546.7,566.0L547.7,566.2L548.7,566.5L549.7,566.7L550.7,566.9L551.7,567.1L552.7,567.3L553.7,567.5L554.7,567.7L555.7,567.9L556.7,568.1L557.7,568.3L558.7,568.5L559.6,568.7L560.6,568.9L561.6,569.1L562.6,569.3L563.6,569.5L564.6,569.7L565.6,569.9L566.6,570.1L567.6,570.3L568.6,570.5L569.6,570.6L570.6,570.8L571.5,571.0L572.5,571.2L573.5,571.3L574.5,571.5L575.5,571.6L576.5,571.8L577.5,572.0" fill="none" stroke="#f00" stroke-width="3.2" stroke-linejoin="round"/>
<path clip-path="url(#ca)" d="M82.5,490.2L82.5,475.3L83.5,475.3L84.5,475.3L85.5,475.3L86.5,475.4L87.5,475.4L88.4,475.4L89.4,475.5L90.4,475.5L91.4,475.6L92.4,475.6L93.4,475.6L94.4,475.7L95.4,475.7L96.4,475.7L97.4,475.8L98.4,475.8L99.4,475.9L100.3,475.9L101.3,476.0L102.3,476.0L103.3,476.1L104.3,476.1L105.3,476.1L106.3,476.2L107.3,476.3L108.3,476.3L109.3,476.4L110.3,476.4L111.3,476.5L112.3,476.6L113.2,476.6L114.2,476.7L115.2,476.8L116.2,476.9L117.2,477.0L118.2,477.1L119.2,477.2L120.2,477.3L121.2,477.5L122.2,477.7L123.2,478.0L124.2,478.6L125.1,479.7L126.1,481.6L127.1,484.0L128.1,486.2L129.1,487.9L130.1,489.4L131.1,490.6L132.1,491.7L133.1,492.7L134.1,493.6L135.1,494.5L136.1,495.3L137.1,496.1L138.0,496.8L139.0,497.5L140.0,498.2L141.0,498.8L142.0,499.4L143.0,500.0L144.0,500.6L145.0,501.2L146.0,501.7L147.0,502.3L148.0,502.8L149.0,503.3L149.9,503.8L150.9,504.3L151.9,504.7L152.9,505.2L153.9,505.6L154.9,506.1L155.9,506.5L156.9,507.0L157.9,507.4L158.9,507.8L159.9,508.2L160.9,508.6L161.9,509.0L162.8,509.4L163.8,509.8L164.8,510.2L165.8,510.6L166.8,511.0L167.8,511.4L168.8,511.7L169.8,512.1L170.8,512.5L171.8,512.8L172.8,513.2L173.8,513.5L174.7,513.9L175.7,514.3L176.7,514.6L177.7,515.0L178.7,515.3L179.7,515.6L180.7,516.0L181.7,516.3L182.7,516.7L183.7,517.0L184.7,517.3L185.7,517.7L186.7,518.0L187.6,518.3L188.6,518.7L189.6,519.0L190.6,519.3L191.6,519.6L192.6,520.0L193.6,520.3L194.6,520.6L195.6,520.9L196.6,521.2L197.6,521.6L198.6,521.9L199.5,522.2L200.5,522.5L201.5,522.8L202.5,523.1L203.5,523.5L204.5,523.8L205.5,524.1L206.5,524.4L207.5,524.7L208.5,525.0L209.5,525.3L210.5,525.7L211.5,526.0L212.4,526.3L213.4,526.6L214.4,526.9L215.4,527.2L216.4,527.5L217.4,527.8L218.4,528.2L219.4,528.5L220.4,528.8L221.4,529.1L222.4,529.4L223.4,529.7L224.3,530.0L225.3,530.3L226.3,530.7L227.3,531.0L228.3,531.3L229.3,531.6L230.3,531.9L231.3,532.2L232.3,532.5L233.3,532.9L234.3,533.2L235.3,533.5L236.3,533.8L237.2,534.1L238.2,534.4L239.2,534.8L240.2,535.1L241.2,535.4L242.2,535.7L243.2,536.0L244.2,536.4L245.2,536.7L246.2,537.0L247.2,537.3L248.2,537.6L249.1,538.0L250.1,538.3L251.1,538.6L252.1,538.9L253.1,539.3L254.1,539.6L255.1,539.9L256.1,540.3L257.1,540.6L258.1,540.9L259.1,541.3L260.1,541.6L261.1,541.9L262.0,542.3L263.0,542.6L264.0,542.9L265.0,543.3L266.0,543.6L267.0,544.0L268.0,544.3L269.0,544.7L270.0,545.0L271.0,545.3L272.0,545.7L273.0,546.0L273.9,546.4L274.9,546.7L275.9,547.1L276.9,547.5L277.9,547.8L278.9,548.2L279.9,548.5L280.9,548.9L281.9,549.2L282.9,549.6L283.9,550.0L284.9,550.3L285.9,550.7L286.8,551.1L287.8,551.4L288.8,551.8L289.8,552.2L290.8,552.6L291.8,552.9L292.8,553.3L293.8,553.7L294.8,554.1L295.8,554.5L296.8,554.9L297.8,555.2L298.7,555.6L299.7,556.0L300.7,556.4L301.7,556.8L302.7,557.2L303.7,557.6L304.7,558.0L305.7,558.4L306.7,558.8L307.7,559.2L308.7,559.6L309.7,560.0L310.7,560.5L311.6,560.9L312.6,561.3L313.6,561.7L314.6,562.1L315.6,562.6L316.6,563.0L317.6,563.4L318.6,563.8L319.6,564.3L320.6,564.7L321.6,565.2L322.6,565.6L323.5,566.0L324.5,566.5L325.5,566.9L326.5,567.4L327.5,567.8L328.5,568.3L329.5,568.8L330.5,569.2L331.5,569.7L332.5,570.2L333.5,570.6L334.5,571.1L335.5,571.6L336.4,572.1L337.4,572.5L338.4,573.0L339.4,573.5L340.4,574.0L341.4,574.5L342.4,575.0L343.4,575.5L344.4,576.0L345.4,576.5L346.4,577.0L347.4,577.5L348.3,578.0L349.3,578.5L350.3,579.1L351.3,579.6L352.3,580.1L353.3,580.6L354.3,581.2L355.3,581.7L356.3,582.2L357.3,582.8L358.3,583.3L359.3,583.8L360.3,584.4L361.2,584.9L362.2,585.5L363.2,586.0L364.2,586.5L365.2,587.1L366.2,587.6L367.2,588.2L368.2,588.7L369.2,589.2L370.2,589.8L371.2,590.3L372.2,590.8L373.1,591.4L374.1,591.9L375.1,592.4L376.1,592.9L377.1,593.4L378.1,593.9L379.1,594.4L380.1,594.9L381.1,595.3L382.1,595.8L383.1,596.2L384.1,596.7L385.1,597.1L386.0,597.5L387.0,597.9L388.0,598.3L389.0,598.7L390.0,599.0L391.0,599.3L392.0,599.6L393.0,599.9L394.0,600.2L395.0,600.5L396.0,600.7L397.0,600.9L397.9,601.1L398.9,601.3L399.9,601.5L400.9,601.6L401.9,601.7L402.9,601.8L403.9,601.9L404.9,602.0L405.9,602.1L406.9,602.1L407.9,602.2L408.9,602.2L409.9,602.2L410.8,602.2L411.8,602.2L412.8,602.2L413.8,602.2L414.8,602.1L415.8,602.1L416.8,602.0L417.8,602.0L418.8,601.9L419.8,601.9L420.8,601.8L421.8,601.8L422.7,601.7L423.7,601.6L424.7,601.6L425.7,601.5L426.7,601.4L427.7,601.4L428.7,601.3L429.7,601.2L430.7,601.2L431.7,601.1L432.7,601.0L433.7,601.0L434.7,600.9L435.6,600.9L436.6,600.8L437.6,600.7L438.6,600.7L439.6,600.6L440.6,600.6L441.6,600.5L442.6,600.5L443.6,600.5L444.6,600.4L445.6,600.4L446.6,600.4L447.5,600.3L448.5,600.3L449.5,600.3L450.5,600.3L451.5,600.3L452.5,600.2L453.5,600.2L454.5,600.2L455.5,600.2L456.5,600.2L457.5,600.2L458.5,600.2L459.5,600.2L460.4,600.2L461.4,600.3L462.4,600.3L463.4,600.3L464.4,600.3L465.4,600.3L466.4,600.4L467.4,600.4L468.4,600.4L469.4,600.5L470.4,600.5L471.4,600.5L472.3,600.6L473.3,600.6L474.3,600.7L475.3,600.7L476.3,600.8L477.3,600.8L478.3,600.9L479.3,601.0L480.3,601.0L481.3,601.1L482.3,601.1L483.3,601.2L484.3,601.3L485.2,601.4L486.2,601.4L487.2,601.5L488.2,601.6L489.2,601.7L490.2,601.8L491.2,601.8L492.2,601.9L493.2,602.0L494.2,602.1L495.2,602.2L496.2,602.3L497.1,602.4L498.1,602.5L499.1,602.6L500.1,602.7L501.1,602.8L502.1,602.9L503.1,603.0L504.1,603.1L505.1,603.2L506.1,603.4L507.1,603.5L508.1,603.6L509.1,603.7L510.0,603.8L511.0,603.9L512.0,604.1L513.0,604.2L514.0,604.3L515.0,604.4L516.0,604.6L517.0,604.7L518.0,604.8L519.0,605.0L520.0,605.1L521.0,605.2L521.9,605.4L522.9,605.5L523.9,605.6L524.9,605.8L525.9,605.9L526.9,606.1L527.9,606.2L528.9,606.4L529.9,606.5L530.9,606.6L531.9,606.8L532.9,606.9L533.9,607.1L534.8,607.2L535.8,607.4L536.8,607.6L537.8,607.7L538.8,607.9L539.8,608.0L540.8,608.2L541.8,608.3L542.8,608.5L543.8,608.6L544.8,608.8L545.8,609.0L546.7,609.1L547.7,609.3L548.7,609.5L549.7,609.6L550.7,609.8L551.7,609.9L552.7,610.1L553.7,610.3L554.7,610.4L555.7,610.6L556.7,610.8L557.7,611.0L558.7,611.1L559.6,611.3L560.6,611.5L561.6,611.6L562.6,611.8L563.6,612.0L564.6,612.1L565.6,612.3L566.6,612.5L567.6,612.7L568.6,612.8L569.6,613.0L570.6,613.2L571.5,613.4L572.5,613.5L573.5,613.7L574.5,613.9L575.5,614.1L576.5,614.2L577.5,614.4" fill="none" stroke="#f00" stroke-width="3.2" stroke-linejoin="round"/>
<path clip-path="url(#cb)" d="M800.7,82.7L800.7,68.2L801.7,68.2L802.7,68.2L803.7,68.3L804.7,68.3L805.7,68.3L806.6,68.3L807.6,68.3L808.6,68.4L809.6,68.4L810.6,68.4L811.6,68.4L812.6,68.4L813.6,68.5L814.6,68.5L815.6,68.5L816.6,68.5L817.6,68.5L818.6,68.6L819.6,68.6L820.5,68.6L821.5,68.6L822.5,68.7L823.5,68.7L824.5,68.7L825.5,68.7L826.5,68.7L827.5,68.8L828.5,68.8L829.5,68.8L830.5,68.8L831.5,68.9L832.5,68.9L833.4,68.9L834.4,68.9L835.4,69.0L836.4,69.0L837.4,69.0L838.4,69.0L839.4,69.1L840.4,69.1L841.4,69.1L842.4,69.1L843.4,69.2L844.4,69.2L845.4,69.2L846.4,69.2L847.3,69.3L848.3,69.3L849.3,69.3L850.3,69.4L851.3,69.4L852.3,69.4L853.3,69.5L854.3,69.5L855.3,69.5L856.3,69.6L857.3,69.6L858.3,69.6L859.3,69.7L860.2,69.7L861.2,69.7L862.2,69.8L863.2,69.8L864.2,69.9L865.2,69.9L866.2,69.9L867.2,70.0L868.2,70.0L869.2,70.1L870.2,70.1L871.2,70.2L872.2,70.2L873.2,70.3L874.1,70.3L875.1,70.4L876.1,70.4L877.1,70.5L878.1,70.5L879.1,70.6L880.1,70.7L881.1,70.7L882.1,70.8L883.1,70.9L884.1,70.9L885.1,71.0L886.1,71.1L887.0,71.2L888.0,71.2L889.0,71.3L890.0,71.4L891.0,71.5L892.0,71.6L893.0,71.7L894.0,71.8L895.0,71.9L896.0,72.1L897.0,72.2L898.0,72.3L899.0,72.5L900.0,72.6L900.9,72.8L901.9,73.0L902.9,73.2L903.9,73.4L904.9,73.6L905.9,73.8L906.9,74.1L907.9,74.4L908.9,74.7L909.9,75.1L910.9,75.5L911.9,76.0L912.9,76.5L913.8,77.0L914.8,77.7L915.8,78.4L916.8,79.2L917.8,80.1L918.8,81.1L919.8,82.1L920.8,83.1L921.8,84.2L922.8,85.3L923.8,86.4L924.8,87.5L925.8,88.6L926.8,89.7L927.7,90.7L928.7,91.7L929.7,92.7L930.7,93.6L931.7,94.6L932.7,95.6L933.7,96.6L934.7,97.5L935.7,98.3L936.7,99.1L937.7,99.8L938.7,100.6L939.7,101.6L940.6,102.6L941.6,103.7L942.6,104.6L943.6,105.3L944.6,105.9L945.6,106.3L946.6,106.8L947.6,107.5L948.6,108.4L949.6,109.4L950.6,110.5L951.6,111.6L952.6,112.5L953.6,113.2L954.5,113.6L955.5,113.9L956.5,114.1L957.5,114.4L958.5,114.9L959.5,115.8L960.5,116.9L961.5,118.4L962.5,119.9L963.5,121.2L964.5,122.0L965.5,122.1L966.5,121.7L967.4,121.2L968.4,120.9L969.4,121.1L970.4,121.9L971.4,123.3L972.4,125.3L973.4,127.7L974.4,129.8L975.4,131.0L976.4,130.8L977.4,129.8L978.4,128.6L979.4,127.8L980.4,127.5L981.3,128.0L982.3,129.1L983.3,130.8L984.3,133.0L985.3,135.4L986.3,137.7L987.3,139.3L988.3,139.7L989.3,139.1L990.3,137.9L991.3,136.7L992.3,135.8L993.3,135.2L994.2,135.2L995.2,135.7L996.2,136.9L997.2,139.0L998.2,141.9L999.2,145.8L1000.2,150.1L1001.2,152.7L1002.2,151.3L1003.2,147.5L1004.2,143.9L1005.2,141.2L1006.2,139.7L1007.2,139.2L1008.1,139.8L1009.1,141.4L1010.1,144.3L1011.1,148.6L1012.1,154.7L1013.1,162.3L1014.1,165.3L1015.1,159.9L1016.1,154.1L1017.1,150.0L1018.1,147.6L1019.1,146.4L1020.1,146.2L1021.0,147.0L1022.0,148.6L1023.0,151.1L1024.0,154.5L1025.0,159.1L1026.0,164.9L1027.0,171.7L1028.0,175.9L1029.0,172.4L1030.0,166.3L1031.0,161.3L1032.0,157.5L1033.0,154.8L1034.0,153.1L1034.9,152.2L1035.9,152.2L1036.9,153.1L1037.9,154.9L1038.9,157.9L1039.9,162.2L1040.9,167.9L1041.9,172.9L1042.9,171.6L1043.9,166.0L1044.9,160.9L1045.9,157.4L1046.9,155.1L1047.9,153.9L1048.8,153.7L1049.8,154.4L1050.8,156.1L1051.8,158.7L1052.8,162.3L1053.8,166.9L1054.8,172.0L1055.8,175.2L1056.8,174.3L1057.8,171.0L1058.8,167.8L1059.8,165.6L1060.8,164.2L1061.7,163.7L1062.7,163.7L1063.7,164.4L1064.7,165.5L1065.7,167.1L1066.7,169.2L1067.7,171.8L1068.7,174.8L1069.7,177.9L1070.7,179.8L1071.7,179.2L1072.7,176.2L1073.7,172.6L1074.7,169.3L1075.6,166.6L1076.6,164.7L1077.6,163.5L1078.6,163.0L1079.6,163.1L1080.6,163.7L1081.6,164.8L1082.6,166.3L1083.6,167.9L1084.6,169.2L1085.6,169.8L1086.6,169.5L1087.6,168.7L1088.5,167.7L1089.5,166.8L1090.5,166.4L1091.5,166.4L1092.5,166.8L1093.5,167.8L1094.5,169.3L1095.5,171.3L1096.5,173.6L1097.5,176.0L1098.5,178.5L1099.5,180.4L1100.5,181.6L1101.5,181.9L1102.4,181.5L1103.4,180.7L1104.4,179.7L1105.4,178.7L1106.4,177.8L1107.4,177.0L1108.4,176.4L1109.4,176.1L1110.4,175.9L1111.4,175.9L1112.4,176.1L1113.4,176.3L1114.4,176.3L1115.3,176.1L1116.3,175.6L1117.3,174.8L1118.3,173.9L1119.3,173.1L1120.3,172.3L1121.3,171.8L1122.3,171.6L1123.3,171.7L1124.3,172.0L1125.3,172.6L1126.3,173.4L1127.3,174.3L1128.3,175.3L1129.2,176.2L1130.2,177.0L1131.2,177.6L1132.2,178.2L1133.2,178.7L1134.2,179.3L1135.2,180.0L1136.2,180.8L1137.2,181.8L1138.2,183.0L1139.2,184.2L1140.2,185.5L1141.2,186.8L1142.1,187.8L1143.1,188.6L1144.1,189.1L1145.1,189.1L1146.1,188.6L1147.1,187.9L1148.1,186.9L1149.1,185.8L1150.1,184.7L1151.1,183.6L1152.1,182.7L1153.1,181.9L1154.1,181.3L1155.1,180.9L1156.0,180.6L1157.0,180.4L1158.0,180.4L1159.0,180.4L1160.0,180.4L1161.0,180.5L1162.0,180.5L1163.0,180.6L1164.0,180.8L1165.0,181.0L1166.0,181.3L1167.0,181.7L1168.0,182.3L1168.9,183.0L1169.9,183.9L1170.9,184.9L1171.9,186.0L1172.9,187.3L1173.9,188.5L1174.9,189.8L1175.9,191.1L1176.9,192.3L1177.9,193.5L1178.9,194.5L1179.9,195.4L1180.9,196.0L1181.9,196.3L1182.8,196.4L1183.8,196.2L1184.8,195.8L1185.8,195.2L1186.8,194.5L1187.8,193.8L1188.8,193.0L1189.8,192.3L1190.8,191.5L1191.8,190.9L1192.8,190.2L1193.8,189.6L1194.8,189.1L1195.7,188.7L1196.7,188.4L1197.7,188.1L1198.7,188.0L1199.7,188.0L1200.7,188.1L1201.7,188.3L1202.7,188.6L1203.7,189.0L1204.7,189.5L1205.7,190.0L1206.7,190.7L1207.7,191.4L1208.7,192.2L1209.6,193.1L1210.6,194.0L1211.6,195.1L1212.6,196.2L1213.6,197.5L1214.6,198.8L1215.6,200.1L1216.6,201.5L1217.6,202.8L1218.6,204.0L1219.6,205.0L1220.6,205.6L1221.6,206.0L1222.5,205.9L1223.5,205.5L1224.5,204.9L1225.5,204.0L1226.5,203.1L1227.5,202.2L1228.5,201.2L1229.5,200.4L1230.5,199.6L1231.5,198.9L1232.5,198.3L1233.5,197.8L1234.5,197.4L1235.5,197.1L1236.4,196.9L1237.4,196.8L1238.4,196.7L1239.4,196.8L1240.4,196.9L1241.4,197.2L1242.4,197.5L1243.4,197.9L1244.4,198.4L1245.4,199.0L1246.4,199.7L1247.4,200.5L1248.4,201.4L1249.3,202.4L1250.3,203.6L1251.3,204.8L1252.3,206.1L1253.3,207.4L1254.3,208.9L1255.3,210.3L1256.3,211.7L1257.3,213.1L1258.3,214.2L1259.3,215.1L1260.3,215.6L1261.3,215.7L1262.3,215.4L1263.2,214.8L1264.2,214.0L1265.2,213.0L1266.2,212.0L1267.2,211.1L1268.2,210.1L1269.2,209.3L1270.2,208.5L1271.2,207.8L1272.2,207.3L1273.2,206.8L1274.2,206.4L1275.2,206.1L1276.1,205.9L1277.1,205.9L1278.1,205.9L1279.1,206.0L1280.1,206.2L1281.1,206.5L1282.1,206.9L1283.1,207.4L1284.1,208.0L1285.1,208.6L1286.1,209.4L1287.1,210.3L1288.1,211.3L1289.1,212.4L1290.0,213.6L1291.0,214.9L1292.0,216.3L1293.0,217.8L1294.0,219.3L1295.0,220.9L1296.0,222.4" fill="none" stroke="#f00" stroke-width="3.2" stroke-linejoin="round"/>
<path clip-path="url(#cb)" d="M800.7,140.4L800.7,126.0L801.7,126.0L802.7,126.0L803.7,126.0L804.7,126.0L805.7,126.1L806.6,126.1L807.6,126.1L808.6,126.1L809.6,126.1L810.6,126.1L811.6,126.2L812.6,126.2L813.6,126.2L814.6,126.2L815.6,126.2L816.6,126.3L817.6,126.3L818.6,126.3L819.6,126.3L820.5,126.3L821.5,126.3L822.5,126.4L823.5,126.4L824.5,126.4L825.5,126.4L826.5,126.4L827.5,126.5L828.5,126.5L829.5,126.5L830.5,126.5L831.5,126.5L832.5,126.6L833.4,126.6L834.4,126.6L835.4,126.6L836.4,126.6L837.4,126.7L838.4,126.7L839.4,126.7L840.4,126.7L841.4,126.8L842.4,126.8L843.4,126.8L844.4,126.8L845.4,126.9L846.4,126.9L847.3,126.9L848.3,126.9L849.3,127.0L850.3,127.0L851.3,127.0L852.3,127.0L853.3,127.1L854.3,127.1L855.3,127.1L856.3,127.2L857.3,127.2L858.3,127.2L859.3,127.3L860.2,127.3L861.2,127.3L862.2,127.4L863.2,127.4L864.2,127.4L865.2,127.5L866.2,127.5L867.2,127.5L868.2,127.6L869.2,127.6L870.2,127.7L871.2,127.7L872.2,127.8L873.2,127.8L874.1,127.8L875.1,127.9L876.1,127.9L877.1,128.0L878.1,128.0L879.1,128.1L880.1,128.2L881.1,128.2L882.1,128.3L883.1,128.3L884.1,128.4L885.1,128.5L886.1,128.6L887.0,128.6L888.0,128.7L889.0,128.8L890.0,128.9L891.0,129.0L892.0,129.0L893.0,129.1L894.0,129.2L895.0,129.4L896.0,129.5L897.0,129.6L898.0,129.7L899.0,129.9L900.0,130.0L900.9,130.2L901.9,130.3L902.9,130.5L903.9,130.7L904.9,130.9L905.9,131.1L906.9,131.4L907.9,131.7L908.9,132.0L909.9,132.3L910.9,132.7L911.9,133.2L912.9,133.6L913.8,134.2L914.8,134.8L915.8,135.5L916.8,136.3L917.8,137.1L918.8,138.0L919.8,139.0L920.8,139.9L921.8,140.8L922.8,141.7L923.8,142.6L924.8,143.5L925.8,144.4L926.8,145.4L927.7,146.5L928.7,147.7L929.7,148.9L930.7,150.1L931.7,151.3L932.7,152.3L933.7,153.0L934.7,153.5L935.7,153.7L936.7,153.7L937.7,153.8L938.7,154.0L939.7,154.3L940.6,154.8L941.6,155.7L942.6,156.8L943.6,158.2L944.6,159.8L945.6,161.6L946.6,163.5L947.6,165.2L948.6,166.5L949.6,167.1L950.6,167.1L951.6,166.7L952.6,166.1L953.6,165.5L954.5,165.1L955.5,164.8L956.5,164.7L957.5,164.8L958.5,165.2L959.5,165.7L960.5,166.4L961.5,167.2L962.5,168.3L963.5,169.5L964.5,170.9L965.5,172.5L966.5,174.4L967.4,176.5L968.4,178.8L969.4,181.1L970.4,183.0L971.4,184.0L972.4,183.8L973.4,182.5L974.4,180.6L975.4,178.7L976.4,176.9L977.4,175.5L978.4,174.5L979.4,173.8L980.4,173.5L981.3,173.6L982.3,174.0L983.3,174.8L984.3,175.9L985.3,177.5L986.3,179.5L987.3,181.9L988.3,184.8L989.3,188.3L990.3,192.1L991.3,196.1L992.3,199.3L993.3,200.5L994.2,199.4L995.2,197.2L996.2,194.8L997.2,192.7L998.2,191.0L999.2,189.6L1000.2,188.5L1001.2,187.7L1002.2,186.9L1003.2,186.4L1004.2,185.9L1005.2,185.6L1006.2,185.4L1007.2,185.4L1008.1,185.5L1009.1,186.0L1010.1,186.6L1011.1,187.6L1012.1,189.0L1013.1,190.8L1014.1,193.2L1015.1,196.3L1016.1,200.2L1017.1,205.5L1018.1,212.7L1019.1,221.3L1020.1,222.0L1021.0,214.0L1022.0,207.2L1023.0,202.4L1024.0,198.9L1025.0,196.4L1026.0,194.5L1027.0,193.3L1028.0,192.5L1029.0,192.2L1030.0,192.2L1031.0,192.5L1032.0,193.1L1033.0,194.0L1034.0,195.2L1034.9,196.6L1035.9,198.2L1036.9,200.1L1037.9,202.1L1038.9,204.3L1039.9,206.7L1040.9,209.3L1041.9,212.3L1042.9,215.8L1043.9,220.2L1044.9,225.8L1045.9,233.2L1046.9,239.4L1047.9,234.5L1048.8,226.1L1049.8,219.5L1050.8,214.5L1051.8,210.6L1052.8,207.5L1053.8,205.1L1054.8,203.2L1055.8,201.7L1056.8,200.7L1057.8,200.0L1058.8,199.6L1059.8,199.6L1060.8,199.8L1061.7,200.4L1062.7,201.4L1063.7,202.6L1064.7,204.2L1065.7,206.2L1066.7,208.5L1067.7,211.3L1068.7,214.5L1069.7,218.1L1070.7,221.9L1071.7,225.2L1072.7,227.1L1073.7,227.1L1074.7,225.7L1075.6,223.8L1076.6,222.1L1077.6,220.6L1078.6,219.4L1079.6,218.5L1080.6,217.7L1081.6,217.1L1082.6,216.4L1083.6,215.8L1084.6,215.2L1085.6,214.6L1086.6,214.0L1087.6,213.5L1088.5,213.2L1089.5,212.9L1090.5,212.8L1091.5,212.9L1092.5,213.2L1093.5,213.8L1094.5,214.5L1095.5,215.5L1096.5,216.6L1097.5,217.8L1098.5,219.1L1099.5,220.2L1100.5,221.1L1101.5,221.5L1102.4,221.5L1103.4,221.0L1104.4,220.3L1105.4,219.4L1106.4,218.6L1107.4,218.0L1108.4,217.4L1109.4,217.2L1110.4,217.1L1111.4,217.3L1112.4,217.7L1113.4,218.3L1114.4,219.1L1115.3,220.2L1116.3,221.5L1117.3,222.9L1118.3,224.5L1119.3,226.1L1120.3,227.9L1121.3,229.5L1122.3,231.1L1123.3,232.6L1124.3,233.8L1125.3,234.7L1126.3,235.4L1127.3,235.8L1128.3,236.0L1129.2,235.7L1130.2,235.2L1131.2,234.3L1132.2,233.1L1133.2,231.8L1134.2,230.3L1135.2,228.9L1136.2,227.6L1137.2,226.4L1138.2,225.4L1139.2,224.5L1140.2,223.8L1141.2,223.3L1142.1,223.1L1143.1,223.0L1144.1,223.1L1145.1,223.4L1146.1,223.9L1147.1,224.6L1148.1,225.4L1149.1,226.4L1150.1,227.6L1151.1,228.9L1152.1,230.3L1153.1,231.8L1154.1,233.4L1155.1,235.0L1156.0,236.6L1157.0,238.1L1158.0,239.5L1159.0,240.9L1160.0,242.1L1161.0,243.1L1162.0,244.0L1163.0,244.7L1164.0,245.0L1165.0,245.1L1166.0,244.7L1167.0,244.1L1168.0,243.1L1168.9,242.0L1169.9,240.9L1170.9,239.7L1171.9,238.6L1172.9,237.6L1173.9,236.8L1174.9,236.1L1175.9,235.5L1176.9,235.1L1177.9,234.8L1178.9,234.6L1179.9,234.6L1180.9,234.7L1181.9,234.8L1182.8,235.0L1183.8,235.3L1184.8,235.6L1185.8,235.9L1186.8,236.3L1187.8,236.7L1188.8,237.0L1189.8,237.5L1190.8,237.9L1191.8,238.4L1192.8,239.0L1193.8,239.6L1194.8,240.4L1195.7,241.2L1196.7,242.2L1197.7,243.3L1198.7,244.5L1199.7,245.9L1200.7,247.4L1201.7,249.0L1202.7,250.6L1203.7,252.2L1204.7,253.6L1205.7,254.8L1206.7,255.5L1207.7,255.8L1208.7,255.6L1209.6,255.0L1210.6,254.2L1211.6,253.3L1212.6,252.3L1213.6,251.3L1214.6,250.4L1215.6,249.5L1216.6,248.7L1217.6,248.0L1218.6,247.3L1219.6,246.7L1220.6,246.2L1221.6,245.7L1222.5,245.4L1223.5,245.1L1224.5,244.9L1225.5,244.8L1226.5,244.8L1227.5,244.9L1228.5,245.1L1229.5,245.4L1230.5,245.8L1231.5,246.3L1232.5,247.0L1233.5,247.8L1234.5,248.6L1235.5,249.7L1236.4,250.8L1237.4,252.1L1238.4,253.4L1239.4,255.0L1240.4,256.6L1241.4,258.4L1242.4,260.3L1243.4,262.3L1244.4,264.3L1245.4,266.3L1246.4,268.2L1247.4,269.6L1248.4,270.5L1249.3,270.5L1250.3,269.9L1251.3,268.7L1252.3,267.3L1253.3,265.7L1254.3,264.1L1255.3,262.7L1256.3,261.3L1257.3,260.1L1258.3,259.0L1259.3,258.1L1260.3,257.3L1261.3,256.7L1262.3,256.1L1263.2,255.7L1264.2,255.5L1265.2,255.3L1266.2,255.2L1267.2,255.2L1268.2,255.4L1269.2,255.6L1270.2,255.9L1271.2,256.3L1272.2,256.8L1273.2,257.4L1274.2,258.0L1275.2,258.8L1276.1,259.6L1277.1,260.6L1278.1,261.7L1279.1,262.9L1280.1,264.2L1281.1,265.7L1282.1,267.3L1283.1,269.1L1284.1,271.1L1285.1,273.3L1286.1,275.6L1287.1,278.0L1288.1,280.4L1289.1,282.5L1290.0,283.8L1291.0,284.1L1292.0,283.4L1293.0,281.8L1294.0,280.0L1295.0,278.0L1296.0,276.2" fill="none" stroke="#f00" stroke-width="3.2" stroke-linejoin="round"/>
<path clip-path="url(#cb)" d="M800.7,197.6L800.7,183.0L801.7,183.0L802.7,183.0L803.7,183.0L804.7,183.1L805.7,183.1L806.6,183.1L807.6,183.2L808.6,183.2L809.6,183.2L810.6,183.2L811.6,183.3L812.6,183.3L813.6,183.3L814.6,183.3L815.6,183.4L816.6,183.4L817.6,183.4L818.6,183.4L819.6,183.5L820.5,183.5L821.5,183.5L822.5,183.5L823.5,183.6L824.5,183.6L825.5,183.6L826.5,183.7L827.5,183.7L828.5,183.7L829.5,183.7L830.5,183.8L831.5,183.8L832.5,183.8L833.4,183.9L834.4,183.9L835.4,183.9L836.4,183.9L837.4,184.0L838.4,184.0L839.4,184.0L840.4,184.1L841.4,184.1L842.4,184.1L843.4,184.2L844.4,184.2L845.4,184.2L846.4,184.3L847.3,184.3L848.3,184.3L849.3,184.4L850.3,184.4L851.3,184.4L852.3,184.5L853.3,184.5L854.3,184.5L855.3,184.6L856.3,184.6L857.3,184.7L858.3,184.7L859.3,184.7L860.2,184.8L861.2,184.8L862.2,184.9L863.2,184.9L864.2,184.9L865.2,185.0L866.2,185.0L867.2,185.1L868.2,185.1L869.2,185.2L870.2,185.2L871.2,185.3L872.2,185.3L873.2,185.4L874.1,185.5L875.1,185.5L876.1,185.6L877.1,185.6L878.1,185.7L879.1,185.8L880.1,185.8L881.1,185.9L882.1,186.0L883.1,186.0L884.1,186.1L885.1,186.2L886.1,186.3L887.0,186.4L888.0,186.5L889.0,186.6L890.0,186.7L891.0,186.8L892.0,186.9L893.0,187.0L894.0,187.2L895.0,187.3L896.0,187.4L897.0,187.6L898.0,187.7L899.0,187.9L900.0,188.0L900.9,188.2L901.9,188.4L902.9,188.6L903.9,188.8L904.9,189.0L905.9,189.2L906.9,189.4L907.9,189.7L908.9,190.0L909.9,190.3L910.9,190.7L911.9,191.1L912.9,191.5L913.8,192.0L914.8,192.5L915.8,193.0L916.8,193.6L917.8,194.3L918.8,194.9L919.8,195.6L920.8,196.4L921.8,197.2L922.8,198.0L923.8,198.8L924.8,199.7L925.8,200.6L926.8,201.6L927.7,202.7L928.7,203.9L929.7,205.2L930.7,206.6L931.7,208.2L932.7,210.0L933.7,212.0L934.7,214.2L935.7,216.7L936.7,219.6L937.7,222.7L938.7,226.0L939.7,229.5L940.6,232.6L941.6,235.0L942.6,235.9L943.6,235.5L944.6,234.2L945.6,232.6L946.6,231.0L947.6,229.7L948.6,228.6L949.6,227.9L950.6,227.3L951.6,227.0L952.6,226.8L953.6,226.7L954.5,226.7L955.5,226.7L956.5,226.7L957.5,226.6L958.5,226.4L959.5,226.1L960.5,225.8L961.5,225.4L962.5,225.0L963.5,224.6L964.5,224.2L965.5,223.9L966.5,223.6L967.4,223.5L968.4,223.4L969.4,223.5L970.4,223.7L971.4,224.0L972.4,224.4L973.4,225.0L974.4,225.7L975.4,226.6L976.4,227.6L977.4,228.7L978.4,229.9L979.4,231.3L980.4,232.8L981.3,234.5L982.3,236.2L983.3,238.0L984.3,239.8L985.3,241.6L986.3,243.4L987.3,245.1L988.3,246.7L989.3,248.1L990.3,249.3L991.3,250.4L992.3,251.4L993.3,252.3L994.2,253.3L995.2,254.3L996.2,255.5L997.2,256.9L998.2,258.4L999.2,260.1L1000.2,261.9L1001.2,263.7L1002.2,265.2L1003.2,266.2L1004.2,266.3L1005.2,265.6L1006.2,264.1L1007.2,262.3L1008.1,260.3L1009.1,258.5L1010.1,256.8L1011.1,255.3L1012.1,254.1L1013.1,253.0L1014.1,252.2L1015.1,251.6L1016.1,251.2L1017.1,251.0L1018.1,251.0L1019.1,251.1L1020.1,251.4L1021.0,251.8L1022.0,252.4L1023.0,253.0L1024.0,253.8L1025.0,254.5L1026.0,255.2L1027.0,255.9L1028.0,256.4L1029.0,256.7L1030.0,256.9L1031.0,256.8L1032.0,256.6L1033.0,256.1L1034.0,255.6L1034.9,255.0L1035.9,254.4L1036.9,253.9L1037.9,253.3L1038.9,252.9L1039.9,252.6L1040.9,252.3L1041.9,252.2L1042.9,252.2L1043.9,252.4L1044.9,252.6L1045.9,253.0L1046.9,253.5L1047.9,254.1L1048.8,254.8L1049.8,255.7L1050.8,256.7L1051.8,257.8L1052.8,259.1L1053.8,260.5L1054.8,262.0L1055.8,263.6L1056.8,265.4L1057.8,267.3L1058.8,269.3L1059.8,271.3L1060.8,273.4L1061.7,275.5L1062.7,277.5L1063.7,279.2L1064.7,280.6L1065.7,281.5L1066.7,282.0L1067.7,281.9L1068.7,281.5L1069.7,280.8L1070.7,279.9L1071.7,278.9L1072.7,277.9L1073.7,276.9L1074.7,275.9L1075.6,275.0L1076.6,274.1L1077.6,273.3L1078.6,272.5L1079.6,271.9L1080.6,271.3L1081.6,270.7L1082.6,270.3L1083.6,269.9L1084.6,269.7L1085.6,269.5L1086.6,269.4L1087.6,269.5L1088.5,269.6L1089.5,269.8L1090.5,270.2L1091.5,270.6L1092.5,271.2L1093.5,271.9L1094.5,272.7L1095.5,273.7L1096.5,274.7L1097.5,275.9L1098.5,277.1L1099.5,278.4L1100.5,279.7L1101.5,281.0L1102.4,282.2L1103.4,283.3L1104.4,284.0L1105.4,284.3L1106.4,284.3L1107.4,284.0L1108.4,283.3L1109.4,282.4L1110.4,281.5L1111.4,280.5L1112.4,279.6L1113.4,278.7L1114.4,277.9L1115.3,277.2L1116.3,276.6L1117.3,276.1L1118.3,275.8L1119.3,275.5L1120.3,275.4L1121.3,275.4L1122.3,275.5L1123.3,275.7L1124.3,276.0L1125.3,276.4L1126.3,277.0L1127.3,277.6L1128.3,278.4L1129.2,279.2L1130.2,280.2L1131.2,281.3L1132.2,282.5L1133.2,283.8L1134.2,285.3L1135.2,286.8L1136.2,288.5L1137.2,290.2L1138.2,292.0L1139.2,293.9L1140.2,295.6L1141.2,297.2L1142.1,298.4L1143.1,299.2L1144.1,299.4L1145.1,299.1L1146.1,298.4L1147.1,297.4L1148.1,296.2L1149.1,294.9L1150.1,293.7L1151.1,292.5L1152.1,291.5L1153.1,290.5L1154.1,289.6L1155.1,288.9L1156.0,288.3L1157.0,287.7L1158.0,287.3L1159.0,287.0L1160.0,286.8L1161.0,286.7L1162.0,286.8L1163.0,286.9L1164.0,287.1L1165.0,287.4L1166.0,287.9L1167.0,288.4L1168.0,289.1L1168.9,289.8L1169.9,290.7L1170.9,291.7L1171.9,292.9L1172.9,294.1L1173.9,295.5L1174.9,297.0L1175.9,298.6L1176.9,300.4L1177.9,302.1L1178.9,303.9L1179.9,305.5L1180.9,306.9L1181.9,307.9L1182.8,308.3L1183.8,308.2L1184.8,307.5L1185.8,306.5L1186.8,305.3L1187.8,304.0L1188.8,302.7L1189.8,301.5L1190.8,300.3L1191.8,299.3L1192.8,298.4L1193.8,297.7L1194.8,297.0L1195.7,296.5L1196.7,296.1L1197.7,295.9L1198.7,295.7L1199.7,295.7L1200.7,295.7L1201.7,295.9L1202.7,296.2L1203.7,296.6L1204.7,297.1L1205.7,297.7L1206.7,298.5L1207.7,299.3L1208.7,300.3L1209.6,301.4L1210.6,302.6L1211.6,303.9L1212.6,305.4L1213.6,307.1L1214.6,308.9L1215.6,310.7L1216.6,312.7L1217.6,314.7L1218.6,316.7L1219.6,318.4L1220.6,319.7L1221.6,320.3L1222.5,320.3L1223.5,319.6L1224.5,318.4L1225.5,317.0L1226.5,315.5L1227.5,314.0L1228.5,312.6L1229.5,311.4L1230.5,310.2L1231.5,309.2L1232.5,308.4L1233.5,307.6L1234.5,307.1L1235.5,306.6L1236.4,306.2L1237.4,306.0L1238.4,305.9L1239.4,305.9L1240.4,306.0L1241.4,306.2L1242.4,306.6L1243.4,307.0L1244.4,307.6L1245.4,308.2L1246.4,309.0L1247.4,309.9L1248.4,311.0L1249.3,312.1L1250.3,313.5L1251.3,314.9L1252.3,316.5L1253.3,318.3L1254.3,320.3L1255.3,322.3L1256.3,324.5L1257.3,326.7L1258.3,328.7L1259.3,330.4L1260.3,331.5L1261.3,331.8L1262.3,331.3L1263.2,330.1L1264.2,328.6L1265.2,326.9L1266.2,325.3L1267.2,323.7L1268.2,322.3L1269.2,321.0L1270.2,319.9L1271.2,318.9L1272.2,318.1L1273.2,317.4L1274.2,316.9L1275.2,316.5L1276.1,316.2L1277.1,316.0L1278.1,316.0L1279.1,316.0L1280.1,316.2L1281.1,316.5L1282.1,316.9L1283.1,317.5L1284.1,318.1L1285.1,318.9L1286.1,319.7L1287.1,320.8L1288.1,321.9L1289.1,323.2L1290.0,324.7L1291.0,326.3L1292.0,328.1L1293.0,330.1L1294.0,332.2L1295.0,334.6L1296.0,337.0" fill="none" stroke="#f00" stroke-width="3.2" stroke-linejoin="round"/>
<path clip-path="url(#cb)" d="M800.7,243.2L800.7,228.7L801.7,228.7L802.7,228.7L803.7,228.7L804.7,228.7L805.7,228.8L806.6,228.8L807.6,228.8L808.6,228.8L809.6,228.8L810.6,228.9L811.6,228.9L812.6,228.9L813.6,228.9L814.6,229.0L815.6,229.0L816.6,229.0L817.6,229.0L818.6,229.1L819.6,229.1L820.5,229.1L821.5,229.1L822.5,229.2L823.5,229.2L824.5,229.2L825.5,229.2L826.5,229.2L827.5,229.3L828.5,229.3L829.5,229.3L830.5,229.3L831.5,229.4L832.5,229.4L833.4,229.4L834.4,229.5L835.4,229.5L836.4,229.5L837.4,229.5L838.4,229.6L839.4,229.6L840.4,229.6L841.4,229.6L842.4,229.7L843.4,229.7L844.4,229.7L845.4,229.8L846.4,229.8L847.3,229.8L848.3,229.8L849.3,229.9L850.3,229.9L851.3,229.9L852.3,230.0L853.3,230.0L854.3,230.0L855.3,230.1L856.3,230.1L857.3,230.1L858.3,230.2L859.3,230.2L860.2,230.2L861.2,230.3L862.2,230.3L863.2,230.4L864.2,230.4L865.2,230.4L866.2,230.5L867.2,230.5L868.2,230.6L869.2,230.6L870.2,230.7L871.2,230.7L872.2,230.8L873.2,230.9L874.1,230.9L875.1,231.0L876.1,231.1L877.1,231.1L878.1,231.2L879.1,231.3L880.1,231.3L881.1,231.4L882.1,231.4L883.1,231.5L884.1,231.6L885.1,231.7L886.1,231.7L887.0,231.8L888.0,231.9L889.0,232.0L890.0,232.2L891.0,232.3L892.0,232.4L893.0,232.5L894.0,232.7L895.0,232.8L896.0,233.0L897.0,233.1L898.0,233.3L899.0,233.4L900.0,233.6L900.9,233.7L901.9,233.9L902.9,234.0L903.9,234.2L904.9,234.4L905.9,234.6L906.9,234.8L907.9,235.0L908.9,235.3L909.9,235.6L910.9,235.9L911.9,236.2L912.9,236.6L913.8,237.0L914.8,237.5L915.8,237.9L916.8,238.4L917.8,239.0L918.8,239.5L919.8,240.1L920.8,240.7L921.8,241.3L922.8,241.9L923.8,242.5L924.8,243.2L925.8,243.8L926.8,244.4L927.7,245.1L928.7,245.8L929.7,246.5L930.7,247.3L931.7,248.1L932.7,249.0L933.7,250.1L934.7,251.2L935.7,252.4L936.7,253.8L937.7,255.3L938.7,257.0L939.7,258.8L940.6,260.8L941.6,262.9L942.6,265.2L943.6,267.5L944.6,269.8L945.6,272.0L946.6,273.9L947.6,275.4L948.6,276.5L949.6,277.0L950.6,277.1L951.6,277.0L952.6,276.8L953.6,276.6L954.5,276.5L955.5,276.5L956.5,276.6L957.5,276.8L958.5,277.0L959.5,277.2L960.5,277.4L961.5,277.4L962.5,277.2L963.5,276.9L964.5,276.3L965.5,275.6L966.5,274.8L967.4,273.9L968.4,272.9L969.4,272.1L970.4,271.2L971.4,270.5L972.4,269.8L973.4,269.3L974.4,268.8L975.4,268.5L976.4,268.3L977.4,268.3L978.4,268.3L979.4,268.4L980.4,268.7L981.3,269.0L982.3,269.5L983.3,270.0L984.3,270.6L985.3,271.3L986.3,272.0L987.3,272.8L988.3,273.5L989.3,274.3L990.3,275.0L991.3,275.7L992.3,276.3L993.3,276.9L994.2,277.3L995.2,277.7L996.2,278.0L997.2,278.2L998.2,278.4L999.2,278.6L1000.2,278.8L1001.2,279.0L1002.2,279.2L1003.2,279.6L1004.2,280.0L1005.2,280.6L1006.2,281.2L1007.2,282.0L1008.1,282.9L1009.1,283.9L1010.1,285.1L1011.1,286.5L1012.1,288.0L1013.1,289.7L1014.1,291.7L1015.1,293.9L1016.1,296.4L1017.1,299.2L1018.1,302.3L1019.1,305.8L1020.1,309.7L1021.0,313.9L1022.0,318.2L1023.0,321.9L1024.0,323.8L1025.0,323.6L1026.0,322.1L1027.0,320.2L1028.0,318.6L1029.0,317.4L1030.0,316.6L1031.0,316.3L1032.0,316.5L1033.0,317.1L1034.0,318.0L1034.9,319.2L1035.9,320.5L1036.9,321.7L1037.9,322.3L1038.9,321.9L1039.9,320.4L1040.9,318.1L1041.9,315.5L1042.9,312.8L1043.9,310.3L1044.9,308.0L1045.9,305.9L1046.9,304.1L1047.9,302.5L1048.8,301.1L1049.8,300.0L1050.8,299.0L1051.8,298.2L1052.8,297.6L1053.8,297.1L1054.8,296.8L1055.8,296.7L1056.8,296.6L1057.8,296.7L1058.8,297.0L1059.8,297.3L1060.8,297.7L1061.7,298.3L1062.7,298.9L1063.7,299.6L1064.7,300.4L1065.7,301.2L1066.7,302.0L1067.7,302.8L1068.7,303.5L1069.7,304.1L1070.7,304.6L1071.7,304.9L1072.7,305.1L1073.7,305.1L1074.7,305.0L1075.6,304.8L1076.6,304.6L1077.6,304.3L1078.6,304.0L1079.6,303.7L1080.6,303.5L1081.6,303.4L1082.6,303.4L1083.6,303.4L1084.6,303.6L1085.6,303.8L1086.6,304.2L1087.6,304.7L1088.5,305.3L1089.5,306.0L1090.5,306.9L1091.5,307.9L1092.5,309.0L1093.5,310.3L1094.5,311.8L1095.5,313.4L1096.5,315.1L1097.5,317.1L1098.5,319.2L1099.5,321.5L1100.5,323.9L1101.5,326.6L1102.4,329.3L1103.4,332.1L1104.4,334.7L1105.4,337.1L1106.4,338.9L1107.4,340.0L1108.4,340.4L1109.4,340.4L1110.4,340.2L1111.4,339.9L1112.4,339.6L1113.4,339.5L1114.4,339.6L1115.3,339.8L1116.3,340.2L1117.3,340.6L1118.3,341.0L1119.3,341.2L1120.3,341.2L1121.3,340.8L1122.3,340.1L1123.3,339.0L1124.3,337.7L1125.3,336.3L1126.3,334.8L1127.3,333.3L1128.3,332.0L1129.2,330.7L1130.2,329.6L1131.2,328.7L1132.2,327.9L1133.2,327.3L1134.2,326.8L1135.2,326.4L1136.2,326.3L1137.2,326.2L1138.2,326.4L1139.2,326.6L1140.2,327.0L1141.2,327.6L1142.1,328.2L1143.1,329.0L1144.1,329.9L1145.1,330.9L1146.1,332.0L1147.1,333.0L1148.1,334.0L1149.1,334.8L1150.1,335.5L1151.1,335.8L1152.1,335.8L1153.1,335.5L1154.1,334.9L1155.1,334.1L1156.0,333.1L1157.0,332.2L1158.0,331.2L1159.0,330.3L1160.0,329.5L1161.0,328.8L1162.0,328.2L1163.0,327.7L1164.0,327.3L1165.0,327.1L1166.0,327.0L1167.0,327.0L1168.0,327.1L1168.9,327.3L1169.9,327.7L1170.9,328.2L1171.9,328.8L1172.9,329.6L1173.9,330.4L1174.9,331.4L1175.9,332.5L1176.9,333.8L1177.9,335.2L1178.9,336.7L1179.9,338.4L1180.9,340.2L1181.9,342.1L1182.8,344.1L1183.8,346.0L1184.8,347.9L1185.8,349.6L1186.8,351.0L1187.8,351.9L1188.8,352.2L1189.8,352.1L1190.8,351.6L1191.8,350.9L1192.8,350.1L1193.8,349.3L1194.8,348.6L1195.7,347.9L1196.7,347.3L1197.7,346.9L1198.7,346.6L1199.7,346.4L1200.7,346.2L1201.7,346.2L1202.7,346.3L1203.7,346.5L1204.7,346.7L1205.7,347.0L1206.7,347.3L1207.7,347.7L1208.7,348.2L1209.6,348.6L1210.6,349.2L1211.6,349.7L1212.6,350.3L1213.6,350.9L1214.6,351.6L1215.6,352.3L1216.6,353.1L1217.6,354.0L1218.6,354.9L1219.6,356.0L1220.6,357.1L1221.6,358.4L1222.5,359.9L1223.5,361.5L1224.5,363.4L1225.5,365.4L1226.5,367.5L1227.5,369.7L1228.5,371.7L1229.5,373.3L1230.5,373.9L1231.5,373.5L1232.5,372.0L1233.5,370.0L1234.5,367.7L1235.5,365.4L1236.4,363.3L1237.4,361.3L1238.4,359.6L1239.4,358.0L1240.4,356.7L1241.4,355.6L1242.4,354.6L1243.4,353.8L1244.4,353.1L1245.4,352.6L1246.4,352.2L1247.4,352.0L1248.4,351.9L1249.3,351.9L1250.3,352.0L1251.3,352.3L1252.3,352.7L1253.3,353.2L1254.3,353.9L1255.3,354.7L1256.3,355.6L1257.3,356.7L1258.3,357.9L1259.3,359.3L1260.3,360.9L1261.3,362.6L1262.3,364.4L1263.2,366.4L1264.2,368.5L1265.2,370.7L1266.2,372.7L1267.2,374.5L1268.2,375.7L1269.2,376.2L1270.2,375.9L1271.2,375.1L1272.2,373.8L1273.2,372.4L1274.2,371.0L1275.2,369.6L1276.1,368.4L1277.1,367.3L1278.1,366.4L1279.1,365.6L1280.1,365.0L1281.1,364.6L1282.1,364.2L1283.1,364.0L1284.1,363.9L1285.1,363.9L1286.1,364.1L1287.1,364.3L1288.1,364.7L1289.1,365.2L1290.0,365.7L1291.0,366.4L1292.0,367.2L1293.0,368.1L1294.0,369.1L1295.0,370.3L1296.0,371.6" fill="none" stroke="#f00" stroke-width="3.2" stroke-linejoin="round"/>
<path clip-path="url(#cb)" d="M800.7,288.9L800.7,274.4L801.7,274.4L802.7,274.4L803.7,274.5L804.7,274.5L805.7,274.5L806.6,274.5L807.6,274.5L808.6,274.6L809.6,274.6L810.6,274.6L811.6,274.6L812.6,274.6L813.6,274.7L814.6,274.7L815.6,274.7L816.6,274.7L817.6,274.8L818.6,274.8L819.6,274.8L820.5,274.8L821.5,274.8L822.5,274.9L823.5,274.9L824.5,274.9L825.5,274.9L826.5,274.9L827.5,275.0L828.5,275.0L829.5,275.0L830.5,275.0L831.5,275.1L832.5,275.1L833.4,275.1L834.4,275.1L835.4,275.2L836.4,275.2L837.4,275.2L838.4,275.2L839.4,275.3L840.4,275.3L841.4,275.3L842.4,275.3L843.4,275.4L844.4,275.4L845.4,275.4L846.4,275.4L847.3,275.5L848.3,275.5L849.3,275.5L850.3,275.6L851.3,275.6L852.3,275.6L853.3,275.6L854.3,275.7L855.3,275.7L856.3,275.7L857.3,275.8L858.3,275.8L859.3,275.9L860.2,275.9L861.2,275.9L862.2,276.0L863.2,276.0L864.2,276.1L865.2,276.1L866.2,276.2L867.2,276.2L868.2,276.3L869.2,276.3L870.2,276.4L871.2,276.5L872.2,276.6L873.2,276.7L874.1,276.8L875.1,277.0L876.1,277.1L877.1,277.3L878.1,277.5L879.1,277.6L880.1,277.7L881.1,277.8L882.1,277.8L883.1,277.8L884.1,277.9L885.1,277.9L886.1,278.0L887.0,278.1L888.0,278.2L889.0,278.3L890.0,278.5L891.0,278.6L892.0,278.8L893.0,279.1L894.0,279.3L895.0,279.5L896.0,279.8L897.0,280.0L898.0,280.3L899.0,280.5L900.0,280.7L900.9,280.9L901.9,281.0L902.9,281.2L903.9,281.3L904.9,281.3L905.9,281.4L906.9,281.5L907.9,281.6L908.9,281.8L909.9,281.9L910.9,282.1L911.9,282.3L912.9,282.6L913.8,282.8L914.8,283.1L915.8,283.5L916.8,283.8L917.8,284.2L918.8,284.6L919.8,285.1L920.8,285.5L921.8,286.0L922.8,286.5L923.8,286.9L924.8,287.4L925.8,287.8L926.8,288.2L927.7,288.6L928.7,288.9L929.7,289.2L930.7,289.4L931.7,289.7L932.7,289.9L933.7,290.1L934.7,290.4L935.7,290.6L936.7,290.9L937.7,291.2L938.7,291.6L939.7,292.0L940.6,292.4L941.6,292.9L942.6,293.5L943.6,294.1L944.6,294.7L945.6,295.4L946.6,296.1L947.6,296.9L948.6,297.8L949.6,298.6L950.6,299.5L951.6,300.4L952.6,301.3L953.6,302.1L954.5,302.9L955.5,303.7L956.5,304.4L957.5,305.1L958.5,305.7L959.5,306.2L960.5,306.7L961.5,307.1L962.5,307.5L963.5,307.9L964.5,308.3L965.5,308.7L966.5,309.2L967.4,309.7L968.4,310.2L969.4,310.9L970.4,311.6L971.4,312.4L972.4,313.3L973.4,314.4L974.4,315.5L975.4,316.8L976.4,318.1L977.4,319.7L978.4,321.3L979.4,323.1L980.4,325.0L981.3,327.1L982.3,329.3L983.3,331.6L984.3,334.0L985.3,336.3L986.3,338.4L987.3,340.3L988.3,341.7L989.3,342.5L990.3,342.9L991.3,343.0L992.3,342.8L993.3,342.6L994.2,342.5L995.2,342.5L996.2,342.8L997.2,343.3L998.2,344.0L999.2,345.1L1000.2,346.5L1001.2,348.3L1002.2,350.5L1003.2,353.3L1004.2,356.6L1005.2,360.6L1006.2,364.7L1007.2,367.4L1008.1,366.6L1009.1,362.9L1010.1,358.4L1011.1,354.3L1012.1,350.8L1013.1,347.8L1014.1,345.3L1015.1,343.2L1016.1,341.4L1017.1,339.9L1018.1,338.7L1019.1,337.7L1020.1,336.9L1021.0,336.2L1022.0,335.8L1023.0,335.5L1024.0,335.3L1025.0,335.3L1026.0,335.4L1027.0,335.6L1028.0,335.9L1029.0,336.4L1030.0,336.9L1031.0,337.4L1032.0,338.1L1033.0,338.7L1034.0,339.3L1034.9,339.9L1035.9,340.5L1036.9,340.8L1037.9,341.1L1038.9,341.2L1039.9,341.1L1040.9,340.8L1041.9,340.4L1042.9,339.9L1043.9,339.4L1044.9,338.8L1045.9,338.2L1046.9,337.6L1047.9,337.1L1048.8,336.7L1049.8,336.3L1050.8,336.0L1051.8,335.7L1052.8,335.6L1053.8,335.5L1054.8,335.5L1055.8,335.7L1056.8,335.9L1057.8,336.1L1058.8,336.5L1059.8,337.0L1060.8,337.5L1061.7,338.1L1062.7,338.8L1063.7,339.5L1064.7,340.4L1065.7,341.2L1066.7,342.1L1067.7,343.0L1068.7,343.9L1069.7,344.8L1070.7,345.6L1071.7,346.2L1072.7,346.8L1073.7,347.3L1074.7,347.5L1075.6,347.7L1076.6,347.7L1077.6,347.6L1078.6,347.4L1079.6,347.2L1080.6,346.9L1081.6,346.7L1082.6,346.5L1083.6,346.3L1084.6,346.2L1085.6,346.1L1086.6,346.1L1087.6,346.2L1088.5,346.4L1089.5,346.6L1090.5,347.0L1091.5,347.4L1092.5,348.0L1093.5,348.6L1094.5,349.3L1095.5,350.1L1096.5,351.1L1097.5,352.1L1098.5,353.3L1099.5,354.5L1100.5,355.8L1101.5,357.3L1102.4,358.8L1103.4,360.4L1104.4,362.1L1105.4,363.8L1106.4,365.4L1107.4,366.9L1108.4,368.2L1109.4,369.3L1110.4,370.1L1111.4,370.5L1112.4,370.5L1113.4,370.4L1114.4,370.0L1115.3,369.6L1116.3,369.1L1117.3,368.7L1118.3,368.3L1119.3,368.0L1120.3,367.8L1121.3,367.7L1122.3,367.7L1123.3,367.9L1124.3,368.1L1125.3,368.5L1126.3,368.9L1127.3,369.5L1128.3,370.1L1129.2,370.9L1130.2,371.8L1131.2,372.7L1132.2,373.7L1133.2,374.8L1134.2,376.0L1135.2,377.2L1136.2,378.5L1137.2,379.8L1138.2,381.1L1139.2,382.4L1140.2,383.7L1141.2,384.9L1142.1,386.2L1143.1,387.4L1144.1,388.6L1145.1,389.9L1146.1,391.2L1147.1,392.6L1148.1,394.2L1149.1,396.0L1150.1,398.1L1151.1,400.6L1152.1,403.5L1153.1,407.1L1154.1,411.3L1155.1,415.6L1156.0,418.1L1157.0,416.3L1158.0,411.6L1159.0,406.5L1160.0,401.9L1161.0,398.0L1162.0,394.7L1163.0,391.9L1164.0,389.4L1165.0,387.3L1166.0,385.4L1167.0,383.8L1168.0,382.4L1168.9,381.2L1169.9,380.2L1170.9,379.3L1171.9,378.6L1172.9,378.0L1173.9,377.5L1174.9,377.2L1175.9,377.0L1176.9,377.0L1177.9,377.0L1178.9,377.2L1179.9,377.5L1180.9,377.9L1181.9,378.4L1182.8,379.1L1183.8,379.8L1184.8,380.7L1185.8,381.7L1186.8,382.9L1187.8,384.1L1188.8,385.5L1189.8,386.9L1190.8,388.3L1191.8,389.8L1192.8,391.0L1193.8,392.1L1194.8,392.8L1195.7,393.0L1196.7,392.8L1197.7,392.2L1198.7,391.2L1199.7,390.1L1200.7,389.0L1201.7,387.8L1202.7,386.7L1203.7,385.7L1204.7,384.8L1205.7,384.0L1206.7,383.3L1207.7,382.7L1208.7,382.3L1209.6,381.9L1210.6,381.7L1211.6,381.6L1212.6,381.6L1213.6,381.7L1214.6,381.9L1215.6,382.2L1216.6,382.7L1217.6,383.2L1218.6,383.9L1219.6,384.7L1220.6,385.6L1221.6,386.6L1222.5,387.7L1223.5,388.9L1224.5,390.3L1225.5,391.8L1226.5,393.4L1227.5,395.1L1228.5,396.8L1229.5,398.5L1230.5,400.1L1231.5,401.5L1232.5,402.5L1233.5,403.0L1234.5,403.1L1235.5,402.6L1236.4,401.9L1237.4,400.9L1238.4,399.9L1239.4,398.8L1240.4,397.8L1241.4,396.8L1242.4,396.0L1243.4,395.3L1244.4,394.7L1245.4,394.3L1246.4,393.9L1247.4,393.7L1248.4,393.6L1249.3,393.6L1250.3,393.7L1251.3,393.9L1252.3,394.3L1253.3,394.7L1254.3,395.2L1255.3,395.9L1256.3,396.7L1257.3,397.6L1258.3,398.6L1259.3,399.8L1260.3,401.0L1261.3,402.5L1262.3,404.1L1263.2,405.9L1264.2,407.8L1265.2,410.0L1266.2,412.5L1267.2,415.1L1268.2,418.1L1269.2,421.2L1270.2,424.4L1271.2,427.2L1272.2,429.1L1273.2,429.5L1274.2,428.3L1275.2,426.2L1276.1,423.9L1277.1,421.6L1278.1,419.5L1279.1,417.6L1280.1,416.0L1281.1,414.7L1282.1,413.5L1283.1,412.5L1284.1,411.7L1285.1,411.0L1286.1,410.5L1287.1,410.1L1288.1,409.8L1289.1,409.6L1290.0,409.5L1291.0,409.5L1292.0,409.7L1293.0,409.9L1294.0,410.2L1295.0,410.6L1296.0,411.1" fill="none" stroke="#f00" stroke-width="3.2" stroke-linejoin="round"/>
<path clip-path="url(#cb)" d="M800.7,333.5L800.7,319.1L801.7,319.1L802.7,319.1L803.7,319.1L804.7,319.1L805.7,319.1L806.6,319.2L807.6,319.2L808.6,319.2L809.6,319.2L810.6,319.2L811.6,319.2L812.6,319.3L813.6,319.3L814.6,319.3L815.6,319.3L816.6,319.3L817.6,319.4L818.6,319.4L819.6,319.4L820.5,319.4L821.5,319.4L822.5,319.5L823.5,319.5L824.5,319.5L825.5,319.5L826.5,319.5L827.5,319.6L828.5,319.6L829.5,319.6L830.5,319.6L831.5,319.7L832.5,319.7L833.4,319.7L834.4,319.8L835.4,319.8L836.4,319.8L837.4,319.8L838.4,319.9L839.4,319.9L840.4,319.9L841.4,320.0L842.4,320.0L843.4,320.1L844.4,320.1L845.4,320.1L846.4,320.2L847.3,320.2L848.3,320.3L849.3,320.3L850.3,320.4L851.3,320.4L852.3,320.5L853.3,320.5L854.3,320.6L855.3,320.7L856.3,320.7L857.3,320.8L858.3,320.9L859.3,321.0L860.2,321.1L861.2,321.2L862.2,321.3L863.2,321.4L864.2,321.6L865.2,321.7L866.2,321.9L867.2,322.1L868.2,322.3L869.2,322.6L870.2,322.9L871.2,323.3L872.2,323.8L873.2,324.4L874.1,325.2L875.1,326.1L876.1,327.2L877.1,328.3L878.1,329.4L879.1,330.3L880.1,330.8L881.1,330.9L882.1,330.7L883.1,330.5L884.1,330.3L885.1,330.2L886.1,330.3L887.0,330.4L888.0,330.8L889.0,331.2L890.0,331.8L891.0,332.5L892.0,333.3L893.0,334.3L894.0,335.3L895.0,336.5L896.0,337.7L897.0,338.9L898.0,340.1L899.0,341.2L900.0,342.1L900.9,342.8L901.9,343.3L902.9,343.5L903.9,343.5L904.9,343.4L905.9,343.1L906.9,342.9L907.9,342.7L908.9,342.5L909.9,342.4L910.9,342.4L911.9,342.5L912.9,342.7L913.8,343.0L914.8,343.4L915.8,343.9L916.8,344.5L917.8,345.2L918.8,346.0L919.8,347.0L920.8,348.0L921.8,349.1L922.8,350.3L923.8,351.5L924.8,352.9L925.8,354.2L926.8,355.5L927.7,356.7L928.7,357.8L929.7,358.8L930.7,359.5L931.7,360.0L932.7,360.2L933.7,360.2L934.7,360.0L935.7,359.7L936.7,359.4L937.7,359.0L938.7,358.6L939.7,358.3L940.6,358.1L941.6,357.9L942.6,357.8L943.6,357.8L944.6,357.9L945.6,358.1L946.6,358.4L947.6,358.8L948.6,359.4L949.6,360.0L950.6,360.7L951.6,361.5L952.6,362.5L953.6,363.6L954.5,364.7L955.5,366.0L956.5,367.4L957.5,368.9L958.5,370.4L959.5,372.1L960.5,373.7L961.5,375.4L962.5,376.9L963.5,378.2L964.5,379.3L965.5,380.0L966.5,380.4L967.4,380.3L968.4,380.0L969.4,379.5L970.4,378.8L971.4,378.1L972.4,377.4L973.4,376.8L974.4,376.2L975.4,375.8L976.4,375.5L977.4,375.2L978.4,375.1L979.4,375.1L980.4,375.3L981.3,375.5L982.3,375.9L983.3,376.4L984.3,377.0L985.3,377.8L986.3,378.6L987.3,379.7L988.3,380.8L989.3,382.1L990.3,383.6L991.3,385.3L992.3,387.1L993.3,389.2L994.2,391.4L995.2,394.0L996.2,396.9L997.2,400.0L998.2,403.5L999.2,407.3L1000.2,411.0L1001.2,414.1L1002.2,415.7L1003.2,415.2L1004.2,413.2L1005.2,410.6L1006.2,408.1L1007.2,405.8L1008.1,403.8L1009.1,402.2L1010.1,400.8L1011.1,399.7L1012.1,398.9L1013.1,398.2L1014.1,397.8L1015.1,397.5L1016.1,397.3L1017.1,397.3L1018.1,397.4L1019.1,397.7L1020.1,398.1L1021.0,398.5L1022.0,399.1L1023.0,399.8L1024.0,400.6L1025.0,401.5L1026.0,402.4L1027.0,403.4L1028.0,404.5L1029.0,405.6L1030.0,406.8L1031.0,408.1L1032.0,409.3L1033.0,410.6L1034.0,411.9L1034.9,413.3L1035.9,414.6L1036.9,416.0L1037.9,417.3L1038.9,418.6L1039.9,420.0L1040.9,421.3L1041.9,422.7L1042.9,424.0L1043.9,425.3L1044.9,426.5L1045.9,427.6L1046.9,428.5L1047.9,429.2L1048.8,429.4L1049.8,429.3L1050.8,428.7L1051.8,427.8L1052.8,426.6L1053.8,425.3L1054.8,423.9L1055.8,422.4L1056.8,421.0L1057.8,419.7L1058.8,418.5L1059.8,417.3L1060.8,416.3L1061.7,415.4L1062.7,414.6L1063.7,413.9L1064.7,413.3L1065.7,412.9L1066.7,412.5L1067.7,412.3L1068.7,412.1L1069.7,412.1L1070.7,412.2L1071.7,412.4L1072.7,412.7L1073.7,413.2L1074.7,413.7L1075.6,414.4L1076.6,415.2L1077.6,416.2L1078.6,417.3L1079.6,418.6L1080.6,420.1L1081.6,421.7L1082.6,423.7L1083.6,425.8L1084.6,428.3L1085.6,431.2L1086.6,434.5L1087.6,438.2L1088.5,442.3L1089.5,446.5L1090.5,449.4L1091.5,449.7L1092.5,447.1L1093.5,443.4L1094.5,439.7L1095.5,436.4L1096.5,433.5L1097.5,431.1L1098.5,429.0L1099.5,427.2L1100.5,425.7L1101.5,424.5L1102.4,423.4L1103.4,422.5L1104.4,421.8L1105.4,421.3L1106.4,420.8L1107.4,420.5L1108.4,420.4L1109.4,420.4L1110.4,420.4L1111.4,420.6L1112.4,420.9L1113.4,421.4L1114.4,421.9L1115.3,422.6L1116.3,423.4L1117.3,424.3L1118.3,425.3L1119.3,426.5L1120.3,427.8L1121.3,429.3L1122.3,431.0L1123.3,432.9L1124.3,434.9L1125.3,437.2L1126.3,439.7L1127.3,442.5L1128.3,445.4L1129.2,448.2L1130.2,450.8L1131.2,452.4L1132.2,452.6L1133.2,451.5L1134.2,449.5L1135.2,447.2L1136.2,444.9L1137.2,442.7L1138.2,440.7L1139.2,439.0L1140.2,437.5L1141.2,436.2L1142.1,435.0L1143.1,434.1L1144.1,433.3L1145.1,432.6L1146.1,432.1L1147.1,431.7L1148.1,431.4L1149.1,431.3L1150.1,431.2L1151.1,431.3L1152.1,431.4L1153.1,431.7L1154.1,432.0L1155.1,432.5L1156.0,433.0L1157.0,433.7L1158.0,434.5L1159.0,435.3L1160.0,436.3L1161.0,437.3L1162.0,438.5L1163.0,439.8L1164.0,441.2L1165.0,442.7L1166.0,444.3L1167.0,446.0L1168.0,447.7L1168.9,449.5L1169.9,451.1L1170.9,452.5L1171.9,453.7L1172.9,454.4L1173.9,454.6L1174.9,454.3L1175.9,453.6L1176.9,452.7L1177.9,451.5L1178.9,450.4L1179.9,449.2L1180.9,448.1L1181.9,447.1L1182.8,446.1L1183.8,445.3L1184.8,444.6L1185.8,444.0L1186.8,443.5L1187.8,443.0L1188.8,442.7L1189.8,442.5L1190.8,442.4L1191.8,442.3L1192.8,442.4L1193.8,442.5L1194.8,442.7L1195.7,443.0L1196.7,443.4L1197.7,443.8L1198.7,444.4L1199.7,445.0L1200.7,445.7L1201.7,446.4L1202.7,447.2L1203.7,448.1L1204.7,449.1L1205.7,450.1L1206.7,451.2L1207.7,452.2L1208.7,453.4L1209.6,454.5L1210.6,455.5L1211.6,456.5L1212.6,457.4L1213.6,458.2L1214.6,458.7L1215.6,459.1L1216.6,459.2L1217.6,459.2L1218.6,459.0L1219.6,458.6L1220.6,458.1L1221.6,457.6L1222.5,457.0L1223.5,456.4L1224.5,455.9L1225.5,455.3L1226.5,454.9L1227.5,454.4L1228.5,454.0L1229.5,453.7L1230.5,453.5L1231.5,453.3L1232.5,453.2L1233.5,453.1L1234.5,453.1L1235.5,453.2L1236.4,453.3L1237.4,453.5L1238.4,453.8L1239.4,454.1L1240.4,454.5L1241.4,454.9L1242.4,455.4L1243.4,456.0L1244.4,456.6L1245.4,457.2L1246.4,457.9L1247.4,458.6L1248.4,459.4L1249.3,460.1L1250.3,460.9L1251.3,461.7L1252.3,462.5L1253.3,463.2L1254.3,463.9L1255.3,464.5L1256.3,465.0L1257.3,465.4L1258.3,465.7L1259.3,466.0L1260.3,466.1L1261.3,466.1L1262.3,466.0L1263.2,465.8L1264.2,465.6L1265.2,465.4L1266.2,465.1L1267.2,464.8L1268.2,464.5L1269.2,464.3L1270.2,464.0L1271.2,463.8L1272.2,463.6L1273.2,463.5L1274.2,463.4L1275.2,463.4L1276.1,463.4L1277.1,463.4L1278.1,463.5L1279.1,463.7L1280.1,463.9L1281.1,464.1L1282.1,464.4L1283.1,464.7L1284.1,465.1L1285.1,465.5L1286.1,465.9L1287.1,466.4L1288.1,466.9L1289.1,467.5L1290.0,468.1L1291.0,468.6L1292.0,469.2L1293.0,469.8L1294.0,470.4L1295.0,470.9L1296.0,471.5" fill="none" stroke="#f00" stroke-width="3.2" stroke-linejoin="round"/>
<path clip-path="url(#cb)" d="M800.7,380.6L800.7,365.9L801.7,365.9L802.7,366.0L803.7,366.0L804.7,366.0L805.7,366.0L806.6,366.1L807.6,366.1L808.6,366.1L809.6,366.1L810.6,366.2L811.6,366.2L812.6,366.2L813.6,366.3L814.6,366.3L815.6,366.3L816.6,366.4L817.6,366.4L818.6,366.4L819.6,366.4L820.5,366.5L821.5,366.5L822.5,366.5L823.5,366.6L824.5,366.6L825.5,366.6L826.5,366.7L827.5,366.7L828.5,366.7L829.5,366.8L830.5,366.8L831.5,366.8L832.5,366.9L833.4,366.9L834.4,367.0L835.4,367.0L836.4,367.0L837.4,367.1L838.4,367.1L839.4,367.2L840.4,367.2L841.4,367.2L842.4,367.3L843.4,367.3L844.4,367.4L845.4,367.4L846.4,367.5L847.3,367.6L848.3,367.6L849.3,367.7L850.3,367.7L851.3,367.8L852.3,367.9L853.3,368.0L854.3,368.0L855.3,368.1L856.3,368.2L857.3,368.3L858.3,368.4L859.3,368.5L860.2,368.7L861.2,368.8L862.2,369.0L863.2,369.2L864.2,369.4L865.2,369.6L866.2,369.9L867.2,370.3L868.2,370.7L869.2,371.2L870.2,371.9L871.2,372.7L872.2,373.8L873.2,375.1L874.1,376.6L875.1,378.4L876.1,380.2L877.1,381.7L878.1,382.7L879.1,382.9L880.1,382.5L881.1,382.0L882.1,381.4L883.1,380.9L884.1,380.6L885.1,380.6L886.1,380.7L887.0,380.9L888.0,381.4L889.0,382.0L890.0,382.7L891.0,383.6L892.0,384.7L893.0,385.9L894.0,387.2L895.0,388.6L896.0,390.0L897.0,391.4L898.0,392.7L899.0,393.8L900.0,394.7L900.9,395.1L901.9,395.3L902.9,395.1L903.9,394.7L904.9,394.2L905.9,393.7L906.9,393.2L907.9,392.8L908.9,392.5L909.9,392.2L910.9,392.1L911.9,392.1L912.9,392.2L913.8,392.5L914.8,392.8L915.8,393.3L916.8,393.9L917.8,394.6L918.8,395.4L919.8,396.3L920.8,397.3L921.8,398.4L922.8,399.6L923.8,400.9L924.8,402.2L925.8,403.6L926.8,404.9L927.7,406.1L928.7,407.2L929.7,408.1L930.7,408.7L931.7,409.0L932.7,409.1L933.7,408.9L934.7,408.6L935.7,408.2L936.7,407.7L937.7,407.2L938.7,406.7L939.7,406.3L940.6,406.0L941.6,405.8L942.6,405.7L943.6,405.6L944.6,405.7L945.6,405.8L946.6,406.1L947.6,406.5L948.6,407.0L949.6,407.6L950.6,408.3L951.6,409.1L952.6,410.0L953.6,411.0L954.5,412.2L955.5,413.4L956.5,414.8L957.5,416.2L958.5,417.7L959.5,419.3L960.5,420.8L961.5,422.4L962.5,423.8L963.5,425.0L964.5,426.0L965.5,426.6L966.5,426.8L967.4,426.7L968.4,426.3L969.4,425.7L970.4,425.1L971.4,424.4L972.4,423.7L973.4,423.1L974.4,422.5L975.4,422.1L976.4,421.7L977.4,421.5L978.4,421.3L979.4,421.3L980.4,421.4L981.3,421.6L982.3,421.9L983.3,422.3L984.3,422.9L985.3,423.5L986.3,424.3L987.3,425.2L988.3,426.3L989.3,427.4L990.3,428.7L991.3,430.2L992.3,431.8L993.3,433.6L994.2,435.5L995.2,437.7L996.2,440.0L997.2,442.4L998.2,445.0L999.2,447.6L1000.2,449.9L1001.2,451.7L1002.2,452.6L1003.2,452.6L1004.2,451.6L1005.2,450.2L1006.2,448.6L1007.2,447.0L1008.1,445.5L1009.1,444.1L1010.1,442.9L1011.1,442.0L1012.1,441.2L1013.1,440.5L1014.1,440.0L1015.1,439.7L1016.1,439.5L1017.1,439.4L1018.1,439.5L1019.1,439.7L1020.1,440.0L1021.0,440.5L1022.0,441.1L1023.0,441.8L1024.0,442.6L1025.0,443.5L1026.0,444.6L1027.0,445.9L1028.0,447.3L1029.0,448.8L1030.0,450.6L1031.0,452.6L1032.0,454.8L1033.0,457.3L1034.0,460.1L1034.9,463.4L1035.9,467.2L1036.9,471.6L1037.9,477.0L1038.9,483.5L1039.9,490.5L1040.9,493.7L1041.9,489.6L1042.9,483.6L1043.9,478.5L1044.9,474.5L1045.9,471.3L1046.9,468.7L1047.9,466.6L1048.8,464.9L1049.8,463.5L1050.8,462.4L1051.8,461.5L1052.8,460.7L1053.8,460.2L1054.8,459.7L1055.8,459.4L1056.8,459.2L1057.8,459.1L1058.8,459.1L1059.8,459.2L1060.8,459.4L1061.7,459.7L1062.7,460.0L1063.7,460.4L1064.7,460.8L1065.7,461.3L1066.7,461.9L1067.7,462.5L1068.7,463.1L1069.7,463.8L1070.7,464.5L1071.7,465.3L1072.7,466.1L1073.7,467.0L1074.7,467.9L1075.6,468.9L1076.6,469.9L1077.6,470.9L1078.6,472.0L1079.6,473.2L1080.6,474.3L1081.6,475.5L1082.6,476.7L1083.6,477.9L1084.6,479.0L1085.6,480.1L1086.6,480.9L1087.6,481.6L1088.5,482.0L1089.5,482.1L1090.5,482.0L1091.5,481.5L1092.5,480.9L1093.5,480.1L1094.5,479.2L1095.5,478.2L1096.5,477.2L1097.5,476.3L1098.5,475.4L1099.5,474.5L1100.5,473.8L1101.5,473.1L1102.4,472.4L1103.4,471.9L1104.4,471.5L1105.4,471.1L1106.4,470.8L1107.4,470.7L1108.4,470.6L1109.4,470.6L1110.4,470.6L1111.4,470.8L1112.4,471.1L1113.4,471.4L1114.4,471.9L1115.3,472.4L1116.3,473.1L1117.3,473.8L1118.3,474.7L1119.3,475.7L1120.3,476.8L1121.3,478.0L1122.3,479.4L1123.3,480.9L1124.3,482.5L1125.3,484.3L1126.3,486.2L1127.3,488.2L1128.3,490.1L1129.2,492.0L1130.2,493.5L1131.2,494.5L1132.2,494.9L1133.2,494.5L1134.2,493.6L1135.2,492.2L1136.2,490.7L1137.2,489.1L1138.2,487.6L1139.2,486.2L1140.2,484.9L1141.2,483.7L1142.1,482.7L1143.1,481.8L1144.1,481.0L1145.1,480.4L1146.1,479.9L1147.1,479.5L1148.1,479.2L1149.1,479.1L1150.1,479.0L1151.1,479.0L1152.1,479.2L1153.1,479.4L1154.1,479.7L1155.1,480.1L1156.0,480.7L1157.0,481.3L1158.0,482.0L1159.0,482.9L1160.0,483.8L1161.0,484.9L1162.0,486.0L1163.0,487.3L1164.0,488.7L1165.0,490.3L1166.0,491.9L1167.0,493.6L1168.0,495.3L1168.9,497.1L1169.9,498.7L1170.9,500.1L1171.9,501.1L1172.9,501.7L1173.9,501.7L1174.9,501.3L1175.9,500.4L1176.9,499.3L1177.9,498.1L1178.9,496.8L1179.9,495.6L1180.9,494.5L1181.9,493.5L1182.8,492.5L1183.8,491.7L1184.8,491.0L1185.8,490.5L1186.8,490.0L1187.8,489.6L1188.8,489.3L1189.8,489.1L1190.8,489.1L1191.8,489.1L1192.8,489.2L1193.8,489.4L1194.8,489.6L1195.7,490.0L1196.7,490.4L1197.7,491.0L1198.7,491.6L1199.7,492.3L1200.7,493.1L1201.7,493.9L1202.7,494.9L1203.7,495.9L1204.7,497.0L1205.7,498.1L1206.7,499.3L1207.7,500.6L1208.7,501.8L1209.6,503.0L1210.6,504.2L1211.6,505.2L1212.6,506.0L1213.6,506.7L1214.6,507.0L1215.6,507.1L1216.6,507.0L1217.6,506.6L1218.6,506.1L1219.6,505.4L1220.6,504.7L1221.6,504.0L1222.5,503.3L1223.5,502.7L1224.5,502.1L1225.5,501.5L1226.5,501.0L1227.5,500.6L1228.5,500.3L1229.5,500.0L1230.5,499.8L1231.5,499.7L1232.5,499.7L1233.5,499.7L1234.5,499.8L1235.5,500.0L1236.4,500.2L1237.4,500.5L1238.4,500.9L1239.4,501.3L1240.4,501.8L1241.4,502.4L1242.4,503.0L1243.4,503.7L1244.4,504.4L1245.4,505.2L1246.4,506.0L1247.4,506.9L1248.4,507.7L1249.3,508.6L1250.3,509.5L1251.3,510.3L1252.3,511.1L1253.3,511.8L1254.3,512.4L1255.3,512.9L1256.3,513.3L1257.3,513.5L1258.3,513.6L1259.3,513.6L1260.3,513.5L1261.3,513.3L1262.3,513.0L1263.2,512.7L1264.2,512.3L1265.2,512.0L1266.2,511.7L1267.2,511.3L1268.2,511.0L1269.2,510.8L1270.2,510.6L1271.2,510.4L1272.2,510.3L1273.2,510.2L1274.2,510.2L1275.2,510.2L1276.1,510.3L1277.1,510.4L1278.1,510.6L1279.1,510.8L1280.1,511.1L1281.1,511.5L1282.1,511.9L1283.1,512.3L1284.1,512.8L1285.1,513.3L1286.1,513.8L1287.1,514.4L1288.1,515.0L1289.1,515.6L1290.0,516.2L1291.0,516.9L1292.0,517.5L1293.0,518.1L1294.0,518.7L1295.0,519.3L1296.0,519.8" fill="none" stroke="#f00" stroke-width="3.2" stroke-linejoin="round"/>
<path clip-path="url(#cb)" d="M800.7,425.6L800.7,410.9L801.7,410.9L802.7,410.9L803.7,410.9L804.7,411.0L805.7,411.0L806.6,411.0L807.6,411.1L808.6,411.1L809.6,411.1L810.6,411.1L811.6,411.2L812.6,411.2L813.6,411.2L814.6,411.3L815.6,411.3L816.6,411.3L817.6,411.4L818.6,411.4L819.6,411.4L820.5,411.5L821.5,411.5L822.5,411.5L823.5,411.6L824.5,411.6L825.5,411.6L826.5,411.7L827.5,411.7L828.5,411.7L829.5,411.8L830.5,411.8L831.5,411.9L832.5,411.9L833.4,411.9L834.4,412.0L835.4,412.0L836.4,412.1L837.4,412.1L838.4,412.1L839.4,412.2L840.4,412.2L841.4,412.3L842.4,412.3L843.4,412.4L844.4,412.4L845.4,412.5L846.4,412.6L847.3,412.6L848.3,412.7L849.3,412.8L850.3,412.8L851.3,412.9L852.3,413.0L853.3,413.1L854.3,413.1L855.3,413.2L856.3,413.3L857.3,413.5L858.3,413.6L859.3,413.7L860.2,413.9L861.2,414.0L862.2,414.2L863.2,414.4L864.2,414.7L865.2,415.0L866.2,415.4L867.2,415.8L868.2,416.3L869.2,417.0L870.2,417.8L871.2,418.9L872.2,420.2L873.2,421.9L874.1,424.1L875.1,426.6L876.1,429.4L877.1,432.0L878.1,433.9L879.1,434.4L880.1,433.8L881.1,432.8L882.1,431.6L883.1,430.7L884.1,430.1L885.1,429.8L886.1,429.7L887.0,429.9L888.0,430.3L889.0,431.0L890.0,431.9L891.0,432.9L892.0,434.2L893.0,435.7L894.0,437.4L895.0,439.3L896.0,441.4L897.0,443.5L898.0,445.6L899.0,447.5L900.0,448.8L900.9,449.5L901.9,449.5L902.9,448.9L903.9,447.9L904.9,446.8L905.9,445.7L906.9,444.7L907.9,443.8L908.9,443.2L909.9,442.6L910.9,442.3L911.9,442.2L912.9,442.1L913.8,442.3L914.8,442.6L915.8,443.0L916.8,443.6L917.8,444.4L918.8,445.3L919.8,446.3L920.8,447.5L921.8,448.8L922.8,450.3L923.8,451.9L924.8,453.7L925.8,455.4L926.8,457.2L927.7,459.0L928.7,460.5L929.7,461.6L930.7,462.2L931.7,462.4L932.7,462.0L933.7,461.3L934.7,460.3L935.7,459.3L936.7,458.3L937.7,457.4L938.7,456.6L939.7,455.9L940.6,455.3L941.6,454.8L942.6,454.5L943.6,454.4L944.6,454.3L945.6,454.4L946.6,454.6L947.6,455.0L948.6,455.5L949.6,456.1L950.6,456.8L951.6,457.6L952.6,458.6L953.6,459.7L954.5,461.0L955.5,462.4L956.5,463.9L957.5,465.6L958.5,467.3L959.5,469.1L960.5,471.0L961.5,472.8L962.5,474.3L963.5,475.5L964.5,476.3L965.5,476.4L966.5,476.1L967.4,475.3L968.4,474.3L969.4,473.2L970.4,472.1L971.4,471.0L972.4,470.1L973.4,469.2L974.4,468.5L975.4,467.9L976.4,467.5L977.4,467.2L978.4,467.0L979.4,466.9L980.4,467.0L981.3,467.2L982.3,467.5L983.3,467.9L984.3,468.5L985.3,469.2L986.3,470.0L987.3,470.9L988.3,472.0L989.3,473.2L990.3,474.6L991.3,476.1L992.3,477.8L993.3,479.6L994.2,481.7L995.2,483.8L996.2,486.1L997.2,488.4L998.2,490.6L999.2,492.4L1000.2,493.6L1001.2,493.9L1002.2,493.4L1003.2,492.2L1004.2,490.8L1005.2,489.2L1006.2,487.6L1007.2,486.2L1008.1,484.9L1009.1,483.8L1010.1,482.9L1011.1,482.1L1012.1,481.4L1013.1,481.0L1014.1,480.6L1015.1,480.4L1016.1,480.4L1017.1,480.4L1018.1,480.6L1019.1,480.9L1020.1,481.4L1021.0,481.9L1022.0,482.6L1023.0,483.5L1024.0,484.5L1025.0,485.6L1026.0,486.9L1027.0,488.3L1028.0,490.0L1029.0,491.8L1030.0,493.9L1031.0,496.3L1032.0,499.0L1033.0,502.1L1034.0,505.5L1034.9,509.4L1035.9,513.5L1036.9,517.2L1037.9,519.1L1038.9,518.4L1039.9,515.6L1040.9,512.3L1041.9,509.1L1042.9,506.3L1043.9,503.9L1044.9,501.9L1045.9,500.2L1046.9,498.8L1047.9,497.7L1048.8,496.7L1049.8,496.0L1050.8,495.4L1051.8,495.0L1052.8,494.7L1053.8,494.6L1054.8,494.6L1055.8,494.8L1056.8,495.1L1057.8,495.5L1058.8,496.0L1059.8,496.7L1060.8,497.5L1061.7,498.4L1062.7,499.5L1063.7,500.7L1064.7,502.1L1065.7,503.7L1066.7,505.5L1067.7,507.6L1068.7,509.9L1069.7,512.6L1070.7,515.7L1071.7,519.4L1072.7,523.7L1073.7,529.1L1074.7,535.7L1075.6,543.1L1076.6,546.8L1077.6,542.0L1078.6,535.4L1079.6,529.9L1080.6,525.6L1081.6,522.2L1082.6,519.5L1083.6,517.3L1084.6,515.4L1085.6,513.9L1086.6,512.7L1087.6,511.7L1088.5,510.9L1089.5,510.2L1090.5,509.8L1091.5,509.4L1092.5,509.2L1093.5,509.2L1094.5,509.2L1095.5,509.4L1096.5,509.6L1097.5,510.0L1098.5,510.5L1099.5,511.1L1100.5,511.8L1101.5,512.6L1102.4,513.6L1103.4,514.6L1104.4,515.7L1105.4,517.0L1106.4,518.4L1107.4,519.8L1108.4,521.4L1109.4,523.2L1110.4,525.0L1111.4,526.8L1112.4,528.7L1113.4,530.5L1114.4,532.1L1115.3,533.4L1116.3,534.2L1117.3,534.5L1118.3,534.3L1119.3,533.7L1120.3,532.7L1121.3,531.6L1122.3,530.4L1123.3,529.3L1124.3,528.2L1125.3,527.2L1126.3,526.3L1127.3,525.5L1128.3,524.8L1129.2,524.2L1130.2,523.7L1131.2,523.3L1132.2,523.0L1133.2,522.8L1134.2,522.7L1135.2,522.6L1136.2,522.6L1137.2,522.7L1138.2,522.9L1139.2,523.1L1140.2,523.4L1141.2,523.8L1142.1,524.2L1143.1,524.7L1144.1,525.3L1145.1,525.9L1146.1,526.6L1147.1,527.4L1148.1,528.2L1149.1,529.0L1150.1,529.9L1151.1,530.8L1152.1,531.8L1153.1,532.8L1154.1,533.8L1155.1,534.8L1156.0,535.7L1157.0,536.6L1158.0,537.4L1159.0,538.0L1160.0,538.5L1161.0,538.9L1162.0,539.0L1163.0,539.0L1164.0,538.8L1165.0,538.5L1166.0,538.1L1167.0,537.7L1168.0,537.1L1168.9,536.6L1169.9,536.1L1170.9,535.6L1171.9,535.1L1172.9,534.7L1173.9,534.3L1174.9,533.9L1175.9,533.7L1176.9,533.4L1177.9,533.3L1178.9,533.2L1179.9,533.2L1180.9,533.2L1181.9,533.3L1182.8,533.5L1183.8,533.7L1184.8,534.0L1185.8,534.4L1186.8,534.8L1187.8,535.3L1188.8,535.9L1189.8,536.5L1190.8,537.2L1191.8,537.9L1192.8,538.7L1193.8,539.6L1194.8,540.4L1195.7,541.4L1196.7,542.3L1197.7,543.2L1198.7,544.2L1199.7,545.0L1200.7,545.8L1201.7,546.5L1202.7,547.0L1203.7,547.4L1204.7,547.6L1205.7,547.7L1206.7,547.6L1207.7,547.3L1208.7,547.0L1209.6,546.5L1210.6,546.0L1211.6,545.5L1212.6,545.0L1213.6,544.6L1214.6,544.1L1215.6,543.7L1216.6,543.4L1217.6,543.1L1218.6,542.8L1219.6,542.6L1220.6,542.5L1221.6,542.5L1222.5,542.5L1223.5,542.6L1224.5,542.8L1225.5,543.0L1226.5,543.3L1227.5,543.7L1228.5,544.1L1229.5,544.6L1230.5,545.1L1231.5,545.7L1232.5,546.4L1233.5,547.1L1234.5,547.9L1235.5,548.7L1236.4,549.5L1237.4,550.4L1238.4,551.3L1239.4,552.1L1240.4,552.9L1241.4,553.7L1242.4,554.3L1243.4,554.9L1244.4,555.4L1245.4,555.7L1246.4,555.8L1247.4,555.8L1248.4,555.7L1249.3,555.5L1250.3,555.3L1251.3,554.9L1252.3,554.5L1253.3,554.2L1254.3,553.8L1255.3,553.4L1256.3,553.1L1257.3,552.8L1258.3,552.5L1259.3,552.3L1260.3,552.2L1261.3,552.1L1262.3,552.1L1263.2,552.1L1264.2,552.2L1265.2,552.3L1266.2,552.6L1267.2,552.8L1268.2,553.1L1269.2,553.5L1270.2,554.0L1271.2,554.4L1272.2,555.0L1273.2,555.6L1274.2,556.2L1275.2,556.8L1276.1,557.5L1277.1,558.2L1278.1,559.0L1279.1,559.7L1280.1,560.4L1281.1,561.1L1282.1,561.7L1283.1,562.3L1284.1,562.8L1285.1,563.2L1286.1,563.5L1287.1,563.7L1288.1,563.8L1289.1,563.9L1290.0,563.8L1291.0,563.7L1292.0,563.5L1293.0,563.3L1294.0,563.1L1295.0,562.9L1296.0,562.7" fill="none" stroke="#f00" stroke-width="3.2" stroke-linejoin="round"/>
<path clip-path="url(#cb)" d="M800.7,471.0L800.7,456.5L801.7,456.5L802.7,456.6L803.7,456.6L804.7,456.6L805.7,456.6L806.6,456.6L807.6,456.7L808.6,456.7L809.6,456.7L810.6,456.7L811.6,456.7L812.6,456.7L813.6,456.8L814.6,456.8L815.6,456.8L816.6,456.8L817.6,456.8L818.6,456.9L819.6,456.9L820.5,456.9L821.5,456.9L822.5,457.0L823.5,457.0L824.5,457.0L825.5,457.0L826.5,457.0L827.5,457.1L828.5,457.1L829.5,457.1L830.5,457.1L831.5,457.2L832.5,457.2L833.4,457.2L834.4,457.3L835.4,457.3L836.4,457.3L837.4,457.3L838.4,457.4L839.4,457.4L840.4,457.4L841.4,457.5L842.4,457.5L843.4,457.6L844.4,457.6L845.4,457.7L846.4,457.7L847.3,457.7L848.3,457.8L849.3,457.9L850.3,457.9L851.3,458.0L852.3,458.0L853.3,458.1L854.3,458.2L855.3,458.3L856.3,458.4L857.3,458.5L858.3,458.6L859.3,458.7L860.2,458.9L861.2,459.1L862.2,459.2L863.2,459.5L864.2,459.7L865.2,460.0L866.2,460.4L867.2,460.8L868.2,461.3L869.2,462.0L870.2,462.7L871.2,463.7L872.2,464.8L873.2,466.2L874.1,467.9L875.1,470.0L876.1,472.5L877.1,475.5L878.1,479.0L879.1,482.9L880.1,486.8L881.1,489.6L882.1,490.3L883.1,489.2L884.1,487.4L885.1,485.5L886.1,484.0L887.0,482.8L888.0,482.0L889.0,481.4L890.0,481.1L891.0,481.1L892.0,481.3L893.0,481.6L894.0,482.2L895.0,482.9L896.0,483.8L897.0,484.9L898.0,486.2L899.0,487.6L900.0,489.3L900.9,491.2L901.9,493.4L902.9,495.9L903.9,498.8L904.9,502.0L905.9,505.6L906.9,509.6L907.9,513.4L908.9,516.1L909.9,516.3L910.9,514.4L911.9,511.6L912.9,508.8L913.8,506.4L914.8,504.4L915.8,502.8L916.8,501.4L917.8,500.4L918.8,499.6L919.8,499.0L920.8,498.6L921.8,498.4L922.8,498.3L923.8,498.4L924.8,498.6L925.8,498.9L926.8,499.4L927.7,500.0L928.7,500.8L929.7,501.7L930.7,502.8L931.7,504.0L932.7,505.3L933.7,506.9L934.7,508.7L935.7,510.7L936.7,513.0L937.7,515.6L938.7,518.7L939.7,522.2L940.6,526.5L941.6,531.6L942.6,537.4L943.6,542.1L944.6,541.7L945.6,537.1L946.6,532.3L947.6,528.4L948.6,525.2L949.6,522.6L950.6,520.6L951.6,518.9L952.6,517.6L953.6,516.5L954.5,515.6L955.5,515.0L956.5,514.5L957.5,514.2L958.5,514.0L959.5,514.0L960.5,514.1L961.5,514.3L962.5,514.6L963.5,515.1L964.5,515.7L965.5,516.4L966.5,517.2L967.4,518.2L968.4,519.3L969.4,520.6L970.4,522.0L971.4,523.6L972.4,525.5L973.4,527.6L974.4,530.0L975.4,532.8L976.4,536.1L977.4,540.1L978.4,545.0L979.4,551.2L980.4,559.2L981.3,565.7L982.3,561.2L983.3,553.8L984.3,548.1L985.3,543.8L986.3,540.5L987.3,537.9L988.3,535.8L989.3,534.1L990.3,532.8L991.3,531.7L992.3,530.8L993.3,530.1L994.2,529.5L995.2,529.2L996.2,528.9L997.2,528.8L998.2,528.9L999.2,529.0L1000.2,529.3L1001.2,529.7L1002.2,530.2L1003.2,530.8L1004.2,531.5L1005.2,532.4L1006.2,533.4L1007.2,534.5L1008.1,535.8L1009.1,537.2L1010.1,538.8L1011.1,540.6L1012.1,542.6L1013.1,544.9L1014.1,547.4L1015.1,550.2L1016.1,553.4L1017.1,556.8L1018.1,560.2L1019.1,562.8L1020.1,563.6L1021.0,562.3L1022.0,559.9L1023.0,557.2L1024.0,554.6L1025.0,552.4L1026.0,550.5L1027.0,548.9L1028.0,547.5L1029.0,546.4L1030.0,545.4L1031.0,544.7L1032.0,544.1L1033.0,543.6L1034.0,543.3L1034.9,543.1L1035.9,543.1L1036.9,543.1L1037.9,543.3L1038.9,543.6L1039.9,544.0L1040.9,544.4L1041.9,545.0L1042.9,545.7L1043.9,546.6L1044.9,547.5L1045.9,548.5L1046.9,549.7L1047.9,551.0L1048.8,552.4L1049.8,553.9L1050.8,555.6L1051.8,557.4L1052.8,559.3L1053.8,561.3L1054.8,563.2L1055.8,565.0L1056.8,566.4L1057.8,567.3L1058.8,567.5L1059.8,567.1L1060.8,566.3L1061.7,565.1L1062.7,563.8L1063.7,562.6L1064.7,561.4L1065.7,560.4L1066.7,559.4L1067.7,558.6L1068.7,557.9L1069.7,557.4L1070.7,556.9L1071.7,556.6L1072.7,556.4L1073.7,556.3L1074.7,556.3L1075.6,556.4L1076.6,556.6L1077.6,556.9L1078.6,557.2L1079.6,557.7L1080.6,558.3L1081.6,559.0L1082.6,559.7L1083.6,560.6L1084.6,561.9L1085.6,563.6L1086.6,565.5L1087.6,567.4L1088.5,569.3L1089.5,570.5L1090.5,571.6L1091.5,572.6L1092.5,573.4L1093.5,574.2L1094.5,574.8L1095.5,575.2L1096.5,575.6L1097.5,575.9L1098.5,576.1L1099.5,576.2L1100.5,576.2L1101.5,576.2L1102.4,576.1L1103.4,576.0L1104.4,575.8L1105.4,575.5L1106.4,575.3L1107.4,575.0L1108.4,574.6L1109.4,574.3L1110.4,574.0L1111.4,573.6L1112.4,573.3L1113.4,573.0L1114.4,572.7L1115.3,572.4L1116.3,572.2L1117.3,572.0L1118.3,571.9L1119.3,571.8L1120.3,571.8L1121.3,571.8L1122.3,572.0L1123.3,572.2L1124.3,572.4L1125.3,572.7L1126.3,573.1L1127.3,573.5L1128.3,574.0L1129.2,574.5L1130.2,575.0L1131.2,575.6L1132.2,576.2L1133.2,576.8L1134.2,577.4L1135.2,578.0L1136.2,578.6L1137.2,579.3L1138.2,579.9L1139.2,580.5L1140.2,581.1L1141.2,581.6L1142.1,582.2L1143.1,582.7L1144.1,583.1L1145.1,583.5L1146.1,583.9L1147.1,584.2L1148.1,584.5L1149.1,584.7L1150.1,584.8L1151.1,584.9L1152.1,584.9L1153.1,585.0L1154.1,585.0L1155.1,584.9L1156.0,584.9L1157.0,584.8L1158.0,584.7L1159.0,584.6L1160.0,584.6L1161.0,584.5L1162.0,584.5L1163.0,584.4L1164.0,584.4L1165.0,584.5L1166.0,584.6L1167.0,584.7L1168.0,584.8L1168.9,585.0L1169.9,585.2L1170.9,585.5L1171.9,585.8L1172.9,586.1L1173.9,586.4L1174.9,586.8L1175.9,587.2L1176.9,587.6L1177.9,588.0L1178.9,588.4L1179.9,588.8L1180.9,589.2L1181.9,589.7L1182.8,590.1L1183.8,590.5L1184.8,591.0L1185.8,591.4L1186.8,591.8L1187.8,592.2L1188.8,592.6L1189.8,592.9L1190.8,593.3L1191.8,593.6L1192.8,593.9L1193.8,594.1L1194.8,594.4L1195.7,594.5L1196.7,594.7L1197.7,594.8L1198.7,594.9L1199.7,594.9L1200.7,594.9L1201.7,594.9L1202.7,594.9L1203.7,594.8L1204.7,594.7L1205.7,594.6L1206.7,594.5L1207.7,594.4L1208.7,594.4L1209.6,594.3L1210.6,594.3L1211.6,594.2L1212.6,594.2L1213.6,594.3L1214.6,594.4L1215.6,594.5L1216.6,594.7L1217.6,594.9L1218.6,595.1L1219.6,595.4L1220.6,595.7L1221.6,596.1L1222.5,596.5L1223.5,596.9L1224.5,597.3L1225.5,597.7L1226.5,598.1L1227.5,598.6L1228.5,599.0L1229.5,599.5L1230.5,599.9L1231.5,600.4L1232.5,600.8L1233.5,601.3L1234.5,601.7L1235.5,602.1L1236.4,602.5L1237.4,602.9L1238.4,603.2L1239.4,603.5L1240.4,603.8L1241.4,604.0L1242.4,604.2L1243.4,604.4L1244.4,604.5L1245.4,604.6L1246.4,604.6L1247.4,604.6L1248.4,604.6L1249.3,604.6L1250.3,604.5L1251.3,604.4L1252.3,604.4L1253.3,604.3L1254.3,604.2L1255.3,604.2L1256.3,604.2L1257.3,604.2L1258.3,604.2L1259.3,604.3L1260.3,604.4L1261.3,604.6L1262.3,604.8L1263.2,605.0L1264.2,605.3L1265.2,605.5L1266.2,605.8L1267.2,606.2L1268.2,606.5L1269.2,606.8L1270.2,607.2L1271.2,607.6L1272.2,607.9L1273.2,608.3L1274.2,608.7L1275.2,609.1L1276.1,609.4L1277.1,609.8L1278.1,610.1L1279.1,610.5L1280.1,610.8L1281.1,611.0L1282.1,611.3L1283.1,611.5L1284.1,611.7L1285.1,611.9L1286.1,612.0L1287.1,612.1L1288.1,612.2L1289.1,612.2L1290.0,612.2L1291.0,612.1L1292.0,611.9L1293.0,611.7L1294.0,611.5L1295.0,611.2L1296.0,610.8" fill="none" stroke="#f00" stroke-width="3.2" stroke-linejoin="round"/>
<path d="M81.5,623.5H577.5V166.2M81.5,623.5V52.5H526.5" fill="none" stroke="#000" stroke-width="1.6"/>
<path d="M81.5,623.5v8.5M81.5,52.5v8.5M106.3,623.5v4.5M106.3,52.5v4.5M131.1,623.5v4.5M131.1,52.5v4.5M155.9,623.5v4.5M155.9,52.5v4.5M180.7,623.5v8.5M180.7,52.5v8.5M205.5,623.5v4.5M205.5,52.5v4.5M230.3,623.5v4.5M230.3,52.5v4.5M255.1,623.5v4.5M255.1,52.5v4.5M279.9,623.5v8.5M279.9,52.5v8.5M304.7,623.5v4.5M304.7,52.5v4.5M329.5,623.5v4.5M329.5,52.5v4.5M354.3,623.5v4.5M354.3,52.5v4.5M379.1,623.5v8.5M379.1,52.5v8.5M403.9,623.5v4.5M403.9,52.5v4.5M428.7,623.5v4.5M428.7,52.5v4.5M453.5,623.5v4.5M453.5,52.5v4.5M478.3,623.5v8.5M478.3,52.5v8.5M503.1,623.5v4.5M503.1,52.5v4.5M527.9,623.5v4.5M552.7,623.5v4.5M577.5,623.5v8.5M81.5,60.0h-8.5M81.5,83.5h-4.5M81.5,107.0h-8.5M81.5,130.5h-4.5M81.5,154.0h-8.5M81.5,177.5h-4.5M81.5,201.0h-8.5M81.5,224.5h-4.5M81.5,248.0h-8.5M81.5,271.5h-4.5M81.5,295.0h-8.5M81.5,318.5h-4.5M81.5,342.0h-8.5M81.5,365.5h-4.5M81.5,389.0h-8.5M81.5,412.5h-4.5M81.5,436.0h-8.5M81.5,459.5h-4.5M81.5,483.0h-8.5M81.5,506.5h-4.5M81.5,530.0h-8.5M81.5,553.5h-4.5M81.5,577.0h-8.5M81.5,600.5h-4.5M81.5,624.0h-8.5" fill="none" stroke="#000" stroke-width="1.6"/>
<text x="81.5" y="657" font-size="24" text-anchor="middle">0</text>
<text x="180.7" y="657" font-size="24" text-anchor="middle">1</text>
<text x="279.9" y="657" font-size="24" text-anchor="middle">2</text>
<text x="379.1" y="657" font-size="24" text-anchor="middle">3</text>
<text x="478.3" y="657" font-size="24" text-anchor="middle">4</text>
<text x="577.5" y="657" font-size="24" text-anchor="middle">5</text>
<text x="679.0" y="199.4" font-size="18.6" text-anchor="end">800 cycles</text>
<text x="679.0" y="252.0" font-size="18.6" text-anchor="end">450 cycles</text>
<text x="679.0" y="304.8" font-size="18.6" text-anchor="end">200 cycles</text>
<text x="679.0" y="357.6" font-size="18.6" text-anchor="end">150 cycles</text>
<text x="679.0" y="410.3" font-size="18.6" text-anchor="end">100 cycles</text>
<text x="679.0" y="463.0" font-size="18.6" text-anchor="end">75 cycles</text>
<text x="679.0" y="515.7" font-size="18.6" text-anchor="end">60 cycles</text>
<text x="679.0" y="568.4" font-size="18.6" text-anchor="end">45 cycles</text>
<text x="679.0" y="621.0" font-size="18.6" text-anchor="end">30 cycles</text>
<text x="199.2" y="694.5" font-size="27.3" textLength="260.6" lengthAdjust="spacing">Grazing Angle 2<tspan font-family="Liberation Serif" font-weight="normal">θ</tspan> (°)</text>
<text transform="translate(47.6,520.2) rotate(-90)" font-size="27.3" textLength="355" lengthAdjust="spacing">Intensity (log scale, arb. u.)</text>
<path d="M799.7,623.5H1296.0V180.6M799.7,623.5V52.5H1244.3" fill="none" stroke="#000" stroke-width="1.6"/>
<path d="M799.7,623.5v8.5M799.7,52.5v8.5M824.5,623.5v4.5M824.5,52.5v4.5M849.3,623.5v4.5M849.3,52.5v4.5M874.1,623.5v4.5M874.1,52.5v4.5M899.0,623.5v8.5M899.0,52.5v8.5M923.8,623.5v4.5M923.8,52.5v4.5M948.6,623.5v4.5M948.6,52.5v4.5M973.4,623.5v4.5M973.4,52.5v4.5M998.2,623.5v8.5M998.2,52.5v8.5M1023.0,623.5v4.5M1023.0,52.5v4.5M1047.9,623.5v4.5M1047.9,52.5v4.5M1072.7,623.5v4.5M1072.7,52.5v4.5M1097.5,623.5v8.5M1097.5,52.5v8.5M1122.3,623.5v4.5M1122.3,52.5v4.5M1147.1,623.5v4.5M1147.1,52.5v4.5M1171.9,623.5v4.5M1171.9,52.5v4.5M1196.7,623.5v8.5M1196.7,52.5v8.5M1221.6,623.5v4.5M1221.6,52.5v4.5M1246.4,623.5v4.5M1271.2,623.5v4.5M1296.0,623.5v8.5M799.7,73.8h-8.5M799.7,96.7h-4.5M799.7,119.5h-8.5M799.7,142.4h-4.5M799.7,165.3h-8.5M799.7,188.2h-4.5M799.7,211.1h-8.5M799.7,233.9h-4.5M799.7,256.8h-8.5M799.7,279.7h-4.5M799.7,302.6h-8.5M799.7,325.4h-4.5M799.7,348.3h-8.5M799.7,371.2h-4.5M799.7,394.1h-8.5M799.7,416.9h-4.5M799.7,439.8h-8.5M799.7,462.7h-4.5M799.7,485.6h-8.5M799.7,508.4h-4.5M799.7,531.3h-8.5M799.7,554.2h-4.5M799.7,577.0h-8.5M799.7,599.9h-4.5M799.7,622.8h-8.5" fill="none" stroke="#000" stroke-width="1.6"/>
<text x="799.7" y="657" font-size="24" text-anchor="middle">0</text>
<text x="899.0" y="657" font-size="24" text-anchor="middle">1</text>
<text x="998.2" y="657" font-size="24" text-anchor="middle">2</text>
<text x="1097.5" y="657" font-size="24" text-anchor="middle">3</text>
<text x="1196.7" y="657" font-size="24" text-anchor="middle">4</text>
<text x="1296.0" y="657" font-size="24" text-anchor="middle">5</text>
<text x="1397.4" y="219.0" font-size="18.6" text-anchor="end">800 cycles</text>
<text x="1397.4" y="268.9" font-size="18.6" text-anchor="end">450 cycles</text>
<text x="1397.4" y="318.7" font-size="18.6" text-anchor="end">200 cycles</text>
<text x="1397.4" y="368.5" font-size="18.6" text-anchor="end">150 cycles</text>
<text x="1397.4" y="418.3" font-size="18.6" text-anchor="end">100 cycles</text>
<text x="1397.4" y="468.1" font-size="18.6" text-anchor="end">75 cycles</text>
<text x="1397.4" y="518.0" font-size="18.6" text-anchor="end">60 cycles</text>
<text x="1397.4" y="567.8" font-size="18.6" text-anchor="end">45 cycles</text>
<text x="1397.4" y="617.6" font-size="18.6" text-anchor="end">30 cycles</text>
<text x="917.5" y="694.5" font-size="27.3" textLength="260.6" lengthAdjust="spacing">Grazing Angle 2<tspan font-family="Liberation Serif" font-weight="normal">θ</tspan> (°)</text>
<text transform="translate(765.8,520.2) rotate(-90)" font-size="27.3" textLength="355" lengthAdjust="spacing">Intensity (log scale, arb. u.)</text>
<rect x="526.5" y="32.9" width="158.79999999999995" height="25.1" fill="#000" stroke="#8a8a8a" stroke-width="0.9"/>
<rect x="526.5" y="58" width="158.79999999999995" height="38.3" fill="#c8c8c8" stroke="#8a8a8a" stroke-width="0.9"/>
<rect x="526.5" y="96.3" width="158.79999999999995" height="25.10000000000001" fill="#b3e3f7" stroke="#8a8a8a" stroke-width="0.9"/>
<rect x="526.5" y="121.4" width="158.79999999999995" height="44.79999999999998" fill="#fff" stroke="#8a8a8a" stroke-width="0.9"/>
<text x="605.9" y="52.3" font-size="19.2" text-anchor="middle" fill="#fff">C residuals</text>
<text x="605.9" y="84.6" font-size="19.2" text-anchor="middle" fill="#000">Ir ALD</text>
<text x="605.9" y="115.7" font-size="19.2" text-anchor="middle" fill="#000">Native SiO<tspan font-size="13">2</tspan></text>
<text x="605.9" y="151.7" font-size="19.2" text-anchor="middle" fill="#000">Silicon</text>
<rect x="1244.3" y="21.3" width="159.29999999999995" height="25.400000000000002" fill="#000" stroke="#8a8a8a" stroke-width="0.9"/>
<rect x="1244.3" y="46.7" width="159.29999999999995" height="38.599999999999994" fill="#c8c8c8" stroke="#8a8a8a" stroke-width="0.9"/>
<rect x="1244.3" y="85.3" width="159.29999999999995" height="25.200000000000003" fill="#b3e3f7" stroke="#8a8a8a" stroke-width="0.9"/>
<rect x="1244.3" y="110.5" width="159.29999999999995" height="26.0" fill="#fff" stroke="#8a8a8a" stroke-width="0.9"/>
<rect x="1244.3" y="136.5" width="159.29999999999995" height="44.099999999999994" fill="#fff" stroke="#8a8a8a" stroke-width="0.9"/>
<text x="1323.9" y="41.5" font-size="19.2" text-anchor="middle" fill="#fff">C residuals</text>
<text x="1323.9" y="73.5" font-size="19.2" text-anchor="middle" fill="#000">Ir ALD</text>
<text x="1323.9" y="104.5" font-size="19.2" text-anchor="middle" fill="#000">Ta<tspan font-size="13">2</tspan>O<tspan font-size="13">5</tspan> ALD</text>
<text x="1323.9" y="131.3" font-size="19.2" text-anchor="middle" fill="#000">SiO<tspan font-size="13">2</tspan> interlayer</text>
<text x="1323.9" y="164.9" font-size="19.2" text-anchor="middle" fill="#000">Fused silica</text>
<path d="M330.8,85.7h43" stroke="#000" stroke-width="2.6" stroke-linecap="round"/><circle cx="352.5" cy="85.7" r="2.8" fill="#fff" stroke="#000" stroke-width="0.8"/><path d="M330.8,110.2h43" stroke="#f00" stroke-width="3" stroke-linecap="round"/><text x="380.2" y="92" font-size="19">Measurement</text><text x="380.2" y="116" font-size="19">Simulation</text>
<path d="M1049.2,88h43" stroke="#000" stroke-width="2.6" stroke-linecap="round"/><circle cx="1070.9" cy="88" r="2.8" fill="#fff" stroke="#000" stroke-width="0.8"/><path d="M1049.2,111.9h43" stroke="#f00" stroke-width="3" stroke-linecap="round"/><text x="1098.6" y="94.3" font-size="19">Measurement</text><text x="1098.6" y="117.8" font-size="19">Simulation</text>
<text x="15" y="48.5" font-size="31.5">(a)</text>
<text x="733" y="48.5" font-size="31.5">(b)</text>
</svg></body></html>
